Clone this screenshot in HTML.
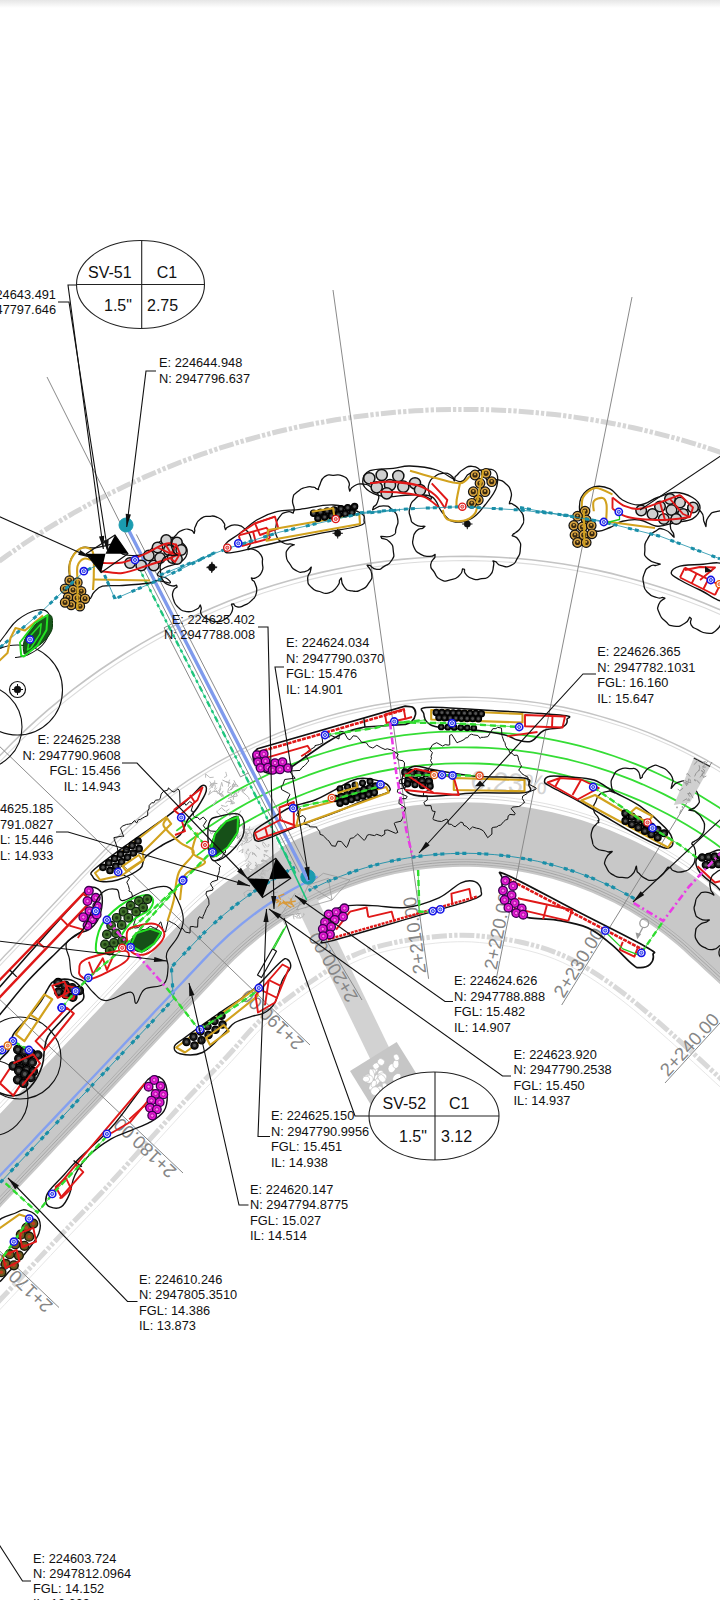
<!DOCTYPE html>
<html><head><meta charset="utf-8"><title>Drawing</title>
<style>
html,body{margin:0;padding:0;background:#fff;}
body{width:720px;height:1600px;overflow:hidden;position:relative;}
svg{position:absolute;left:0;top:0;display:block;font-family:"Liberation Sans",Arial,sans-serif;}
.sh{position:absolute;left:0;top:0;width:720px;height:8px;background:linear-gradient(#e6e6e6,#ffffff);}
</style></head><body>
<svg width="720" height="1600" viewBox="0 0 720 1600">
<path d="M749.9 923.9L742.5 917.1L735.2 910.3L727.8 903.6L720.3 897.0L712.6 890.6L704.8 884.4L696.8 878.4L688.6 872.6L680.3 867.0L671.9 861.6L663.3 856.4L654.7 851.5L645.8 846.7L636.9 842.2L627.9 838.0L618.7 833.9L609.5 830.1L600.1 826.6L590.7 823.2L581.2 820.1L571.6 817.3L562.0 814.7L552.2 812.3L542.5 810.2L532.6 808.3L522.8 806.7L512.9 805.3L502.9 804.2L493.0 803.4L483.0 802.8L473.0 802.4L463.0 802.3L453.0 802.5L443.0 802.9L433.0 803.5L423.1 804.4L413.1 805.6L403.2 807.0L393.4 808.7L383.6 810.6L373.8 812.8L364.1 815.2L354.5 817.8L344.9 820.7L335.4 823.9L326.0 827.2L316.7 830.9L307.4 834.7L298.3 838.8L289.3 843.1L280.4 847.7L271.6 852.4L262.9 857.4L254.4 862.6L246.0 868.1L237.7 873.7L229.6 879.5L221.7 885.6L213.8 891.8L206.2 898.3L198.7 904.9L191.4 911.7L184.3 918.7L177.3 925.9L170.4 933.2L163.6 940.4L156.7 947.7L149.8 955.0L143.0 962.3L136.1 969.5L129.2 976.8L122.4 984.1L115.5 991.3L108.6 998.6L101.8 1005.9L94.9 1013.2L88.0 1020.4L81.2 1027.7L74.3 1035.0L67.4 1042.2L60.6 1049.5L53.7 1056.8L46.9 1064.1L40.0 1071.3L33.1 1078.6L26.3 1085.9L19.4 1093.1L12.5 1100.4L5.7 1107.7L-1.2 1115.0L-8.1 1122.2L-14.9 1129.5L-21.8 1136.8L-28.7 1144.0L-29.8 1239.2L-24.3 1233.4L-17.5 1226.1L-10.6 1218.9L-3.7 1211.6L3.1 1204.3L10.0 1197.1L16.9 1189.8L23.7 1182.5L30.6 1175.2L37.5 1168.0L44.3 1160.7L51.2 1153.4L58.1 1146.1L64.9 1138.9L71.8 1131.6L78.7 1124.3L85.5 1117.1L92.4 1109.8L99.2 1102.5L106.1 1095.2L113.0 1088.0L119.8 1080.7L126.7 1073.4L133.6 1066.2L140.4 1058.9L147.3 1051.6L154.2 1044.3L161.0 1037.1L167.9 1029.8L174.8 1022.5L181.6 1015.3L188.5 1008.0L195.4 1000.7L202.2 993.4L209.1 986.2L215.9 978.9L222.6 971.9L228.7 965.5L234.7 959.6L240.8 953.9L247.0 948.3L253.4 942.9L259.9 937.6L266.5 932.5L273.3 927.6L280.1 922.8L287.1 918.2L294.3 913.9L301.5 909.6L308.8 905.6L316.2 901.8L323.8 898.1L331.4 894.7L339.1 891.4L346.9 888.3L354.7 885.4L362.6 882.8L370.6 880.3L378.7 878.0L386.8 876.0L394.9 874.1L403.1 872.5L411.4 871.0L419.6 869.8L427.9 868.8L436.3 868.0L444.6 867.4L453.0 867.0L461.3 866.8L469.7 866.8L478.1 867.1L486.4 867.6L494.7 868.2L503.1 869.1L511.3 870.2L519.6 871.5L527.8 873.0L536.0 874.8L544.2 876.7L552.2 878.8L560.3 881.2L568.2 883.7L576.1 886.5L584.0 889.4L591.7 892.5L599.4 895.9L607.0 899.4L614.5 903.1L621.8 907.0L629.1 911.1L636.3 915.4L643.4 919.9L650.4 924.5L657.2 929.3L663.9 934.3L670.5 939.5L677.0 944.8L683.3 950.3L689.9 956.4L697.3 963.1L704.6 969.9L712.0 976.7L719.3 983.5L726.7 990.3L734.0 997.1L741.3 1003.9L748.7 1010.6Z" stroke="none" stroke-width="1" fill="#c8c8c8" />
<path d="M749.4 1001.1L742.0 994.3L734.7 987.5L727.3 980.7L720.0 973.9L712.6 967.1L705.3 960.4L698.0 953.6L690.8 947.0L684.4 941.3L677.9 935.8L671.2 930.5L664.4 925.3L657.4 920.3L650.4 915.5L643.2 910.8L635.9 906.4L628.5 902.1L620.9 898.0L613.3 894.2L605.6 890.5L597.8 887.0L589.9 883.7L581.9 880.6L573.9 877.7L565.7 875.0L557.6 872.5L549.3 870.3L541.0 868.2L532.7 866.4L524.3 864.7L515.8 863.3L507.4 862.1L498.9 861.1L490.3 860.3L481.8 859.8L473.3 859.4L464.7 859.3L456.2 859.4L447.6 859.7L439.1 860.2L430.5 861.0L422.0 861.9L413.6 863.1L405.1 864.5L396.7 866.1L388.4 867.9L380.1 869.9L371.8 872.1L363.6 874.6L355.5 877.2L347.4 880.1L339.4 883.2L331.5 886.4L323.7 889.9L316.0 893.5L308.3 897.4L300.8 901.4L293.4 905.7L286.0 910.1L278.8 914.7L271.7 919.5L264.8 924.4L257.9 929.6L251.2 934.9L244.7 940.4L238.2 946.0L232.0 951.8L225.8 957.8L219.7 964.0L213.2 970.9L206.4 978.1L199.5 985.4L192.6 992.7L185.8 999.9L178.9 1007.2L172.1 1014.5L165.2 1021.7L158.3 1029.0L151.5 1036.3L144.6 1043.6L137.7 1050.8L130.9 1058.1L124.0 1065.4L117.1 1072.6L110.3 1079.9L103.4 1087.2L96.5 1094.5L89.7 1101.7L82.8 1109.0L75.9 1116.3L69.1 1123.5L62.2 1130.8L55.4 1138.1L48.5 1145.4L41.6 1152.6L34.8 1159.9L27.9 1167.2L21.0 1174.5L14.2 1181.7L7.3 1189.0L0.4 1196.3L-6.4 1203.5L-13.3 1210.8L-20.2 1218.1L-27.0 1225.4L-29.8 1228.3" stroke="#a8a8a8" stroke-width="0.8" fill="none" />
<path d="M749.1 1004.3L741.8 997.5L734.5 990.7L727.1 983.9L719.8 977.1L712.4 970.3L705.1 963.5L697.7 956.8L690.4 950.0L684.1 944.3L677.6 938.8L671.0 933.5L664.2 928.3L657.4 923.3L650.4 918.5L643.3 913.9L636.0 909.4L628.7 905.1L621.3 901.0L613.7 897.2L606.1 893.5L598.3 889.9L590.5 886.6L582.6 883.5L574.7 880.6L566.6 877.9L558.5 875.4L550.3 873.1L542.1 871.0L533.8 869.2L525.5 867.5L517.1 866.0L508.7 864.8L500.3 863.8L491.8 863.0L483.4 862.4L474.9 862.0L466.4 861.8L457.9 861.9L449.4 862.1L440.9 862.6L432.5 863.3L424.0 864.2L415.6 865.3L407.2 866.6L398.9 868.2L390.6 869.9L382.3 871.9L374.1 874.1L366.0 876.5L357.9 879.1L349.9 881.9L341.9 884.9L334.1 888.1L326.3 891.4L318.6 895.0L311.0 898.8L303.5 902.8L296.1 907.0L288.8 911.3L281.6 915.9L274.6 920.6L267.6 925.5L260.8 930.5L254.1 935.8L247.6 941.2L241.2 946.8L234.9 952.5L228.8 958.4L222.7 964.5L216.4 971.2L209.6 978.4L202.7 985.7L195.8 992.9L189.0 1000.2L182.1 1007.5L175.2 1014.7L168.4 1022.0L161.5 1029.3L154.6 1036.6L147.8 1043.8L140.9 1051.1L134.1 1058.4L127.2 1065.6L120.3 1072.9L113.5 1080.2L106.6 1087.5L99.7 1094.7L92.9 1102.0L86.0 1109.3L79.1 1116.5L72.3 1123.8L65.4 1131.1L58.5 1138.4L51.7 1145.6L44.8 1152.9L37.9 1160.2L31.1 1167.4L24.2 1174.7L17.4 1182.0L10.5 1189.3L3.6 1196.5L-3.2 1203.8L-10.1 1211.1L-17.0 1218.3L-23.8 1225.6L-29.3 1231.4" stroke="#9a9a9a" stroke-width="0.8" fill="none" />
<path d="M748.9 1007.5L741.6 1000.7L734.2 993.9L726.9 987.1L719.5 980.3L712.2 973.5L704.8 966.7L697.5 960.0L690.2 953.2L683.7 947.3L677.3 941.8L670.8 936.5L664.1 931.3L657.3 926.3L650.4 921.5L643.4 916.9L636.2 912.4L628.9 908.1L621.6 904.0L614.1 900.1L606.5 896.4L598.9 892.9L591.1 889.6L583.3 886.5L575.4 883.5L567.4 880.8L559.4 878.3L551.3 876.0L543.1 873.9L534.9 872.0L526.7 870.3L518.4 868.8L510.0 867.5L501.7 866.4L493.3 865.6L484.9 865.0L476.5 864.5L468.1 864.3L459.6 864.3L451.2 864.5L442.8 865.0L434.4 865.6L426.0 866.5L417.6 867.5L409.3 868.8L401.0 870.3L392.8 872.0L384.6 873.9L376.4 876.1L368.3 878.4L360.3 880.9L352.3 883.6L344.4 886.6L336.6 889.7L328.8 893.0L321.2 896.6L313.6 900.3L306.2 904.2L298.8 908.3L291.5 912.6L284.4 917.0L277.4 921.7L270.4 926.5L263.7 931.5L257.0 936.7L250.5 942.0L244.1 947.5L237.8 953.2L231.7 959.0L225.8 965.0L219.5 971.5L212.8 978.6L205.9 985.9L199.0 993.2L192.2 1000.5L185.3 1007.7L178.4 1015.0L171.6 1022.3L164.7 1029.5L157.8 1036.8L151.0 1044.1L144.1 1051.4L137.2 1058.6L130.4 1065.9L123.5 1073.2L116.7 1080.4L109.8 1087.7L102.9 1095.0L96.1 1102.3L89.2 1109.5L82.3 1116.8L75.5 1124.1L68.6 1131.3L61.7 1138.6L54.9 1145.9L48.0 1153.2L41.1 1160.4L34.3 1167.7L27.4 1175.0L20.5 1182.2L13.7 1189.5L6.8 1196.8L-0.0 1204.1L-6.9 1211.3L-13.8 1218.6L-20.6 1225.9L-27.5 1233.1L-28.9 1234.6" stroke="#a8a8a8" stroke-width="0.8" fill="none" />
<path d="M749.6 918.3L742.3 911.5L734.9 904.7L727.5 897.9L719.8 891.3L712.0 884.9L704.0 878.8L695.9 872.8L687.6 867.0L679.2 861.4L670.6 856.1L661.9 850.9L653.1 846.0L644.1 841.4L635.0 836.9L625.9 832.7L616.6 828.7L607.2 824.9L597.7 821.4L588.2 818.2L578.5 815.1L568.8 812.3L559.0 809.8L549.2 807.5L539.3 805.5L529.4 803.7L519.4 802.2L509.4 800.9L499.3 799.9L489.2 799.1L479.2 798.6L469.1 798.3L459.0 798.3L448.9 798.6L438.8 799.1L428.7 799.9L418.7 800.9L408.6 802.2L398.6 803.7L388.7 805.5L378.8 807.5L369.0 809.8L359.2 812.3L349.5 815.1L339.8 818.1L330.3 821.4L320.8 824.9L311.4 828.7L302.2 832.7L293.0 836.9L283.9 841.3L275.0 846.0L266.1 850.9L257.4 856.1L248.9 861.4L240.4 867.0L232.2 872.8L224.0 878.7L216.0 884.9L208.2 891.3L200.5 897.9L193.1 904.7L185.7 911.7L178.6 918.8L171.6 926.1L164.8 933.3L157.9 940.6L151.0 947.9L144.2 955.1L137.3 962.4L130.4 969.7L123.6 977.0L116.7 984.2L109.8 991.5L103.0 998.8L96.1 1006.0L89.3 1013.3L82.4 1020.6L75.5 1027.9L68.7 1035.1L61.8 1042.4L54.9 1049.7L48.1 1057.0L41.2 1064.2L34.3 1071.5L27.5 1078.8L20.6 1086.0L13.7 1093.3L6.9 1100.6L0.0 1107.9L-6.9 1115.1L-13.7 1122.4L-20.6 1129.7L-27.4 1136.9L-28.8 1138.4" stroke="#d6d6d6" stroke-width="1" fill="none" />
<path d="M748.7 913.3L741.4 906.6L734.0 899.8L726.4 893.0L718.6 886.4L710.7 880.1L702.6 873.9L694.3 868.0L685.9 862.2L677.3 856.7L668.7 851.4L659.8 846.3L650.9 841.5L641.8 836.9L632.6 832.5L623.4 828.3L614.0 824.4L604.5 820.7L594.9 817.3L585.2 814.1L575.5 811.1L565.7 808.4L555.8 805.9L545.9 803.7L535.9 801.8L525.9 800.1L515.8 798.7L505.7 797.5L495.5 796.5L485.4 795.9L475.2 795.5L465.0 795.3L454.9 795.4L444.7 795.8L434.5 796.4L424.4 797.3L414.3 798.4L404.2 799.8L394.2 801.4L384.2 803.3L374.2 805.5L364.3 807.9L354.5 810.5L344.7 813.4L335.1 816.6L325.5 820.0L316.0 823.6L306.5 827.5L297.2 831.6L288.0 835.9L278.9 840.5L270.0 845.3L261.1 850.4L252.4 855.6L243.8 861.1L235.4 866.8L227.1 872.7L219.0 878.8L211.0 885.1L203.2 891.6L195.5 898.4L188.1 905.3L180.8 912.4L173.6 919.6L166.7 926.9L159.8 934.2L153.0 941.5L146.1 948.7L139.2 956.0L132.4 963.3L125.5 970.5L118.7 977.8L111.8 985.1L104.9 992.4L98.1 999.6L91.2 1006.9L84.3 1014.2L77.5 1021.4L70.6 1028.7L63.7 1036.0L56.9 1043.3L50.0 1050.5L43.1 1057.8L36.3 1065.1L29.4 1072.3L22.5 1079.6L15.7 1086.9L8.8 1094.2L2.0 1101.4L-4.9 1108.7L-11.8 1116.0L-18.6 1123.2L-25.5 1130.5L-29.6 1134.9" stroke="#e2e2e2" stroke-width="1" fill="none" />
<path d="M748.0 462.3L729.3 455.3L710.4 448.9L691.4 442.8L672.2 437.3L652.8 432.3L633.4 427.7L613.8 423.7L594.2 420.1L574.5 417.1L554.7 414.5L534.8 412.5L514.9 410.9L494.9 409.9L475.0 409.4L455.0 409.4L435.0 409.8L415.1 410.8L395.2 412.3L375.3 414.3L355.5 416.8L335.8 419.8L316.1 423.3L296.5 427.3L277.1 431.8L257.8 436.8L238.5 442.3L219.5 448.2L200.6 454.7L181.9 461.6L163.3 469.0L145.0 476.9L126.8 485.2L108.9 494.0L91.2 503.2L73.7 512.9L56.5 523.0L39.5 533.5L22.8 544.5L6.5 555.9L-9.6 567.7L-25.4 580.0L-28.6 582.4" stroke="#d6d6d6" stroke-width="5" fill="none" stroke-dasharray="15 2 3.3 2 3.3 2"/>
<path d="M748.3 622.9L733.7 615.9L718.8 609.2L703.9 602.9L688.7 597.0L673.4 591.5L658.0 586.4L642.5 581.7L626.8 577.4L611.1 573.4L595.2 569.9L579.3 566.8L563.3 564.0L547.2 561.7L531.1 559.8L514.9 558.3L498.7 557.2L482.5 556.6L466.2 556.3L450.0 556.5L433.8 557.0L417.6 558.0L401.4 559.4L385.2 561.2L369.2 563.4L353.1 566.0L337.2 569.0L321.3 572.4L305.5 576.2L289.8 580.4L274.3 585.1L258.8 590.1L243.5 595.5L228.3 601.3L213.3 607.4L198.4 614.0L183.7 620.9L169.2 628.2L154.9 635.9L140.8 643.9L126.9 652.3L113.2 661.0L99.7 670.0L86.5 679.5L73.5 689.2L60.7 699.3L48.3 709.7L36.0 720.4L24.1 731.4L12.4 742.7L1.7 753.7L-7.0 762.7L-14.0 770.1L-20.8 777.4L-27.7 784.7L-29.1 786.1" stroke="#c4c4c4" stroke-width="1.6" fill="none" />
<path d="M749.3 628.2L734.8 621.1L720.1 614.4L705.2 608.1L690.2 602.2L675.1 596.7L659.8 591.5L644.4 586.7L628.9 582.3L613.2 578.4L597.5 574.8L581.7 571.6L565.8 568.8L549.8 566.4L533.8 564.4L517.8 562.9L501.7 561.7L485.6 561.0L469.5 560.6L453.3 560.7L437.2 561.2L421.1 562.0L405.0 563.3L389.0 565.0L373.0 567.1L357.0 569.7L341.2 572.6L325.4 575.9L309.7 579.6L294.1 583.7L278.6 588.2L263.2 593.1L248.0 598.4L232.9 604.1L217.9 610.1L203.2 616.6L188.5 623.4L174.1 630.5L159.8 638.1L145.7 646.0L131.9 654.2L118.2 662.8L104.8 671.8L91.6 681.0L78.7 690.7L66.0 700.6L53.5 710.8L41.3 721.4L29.4 732.3L17.8 743.5L6.7 754.6L-2.3 764.0L-9.5 771.6L-16.3 778.9L-23.2 786.2L-28.7 792.0" stroke="#dcdcdc" stroke-width="1.1" fill="none" />
<path d="M748.7 786.4L738.2 779.3L727.5 772.5L716.7 766.0L705.7 759.7L694.5 753.7L683.2 748.0L671.8 742.6L660.2 737.5L648.5 732.6L636.6 728.1L624.7 723.9L612.7 720.0L600.5 716.3L588.3 713.0L576.0 710.0L563.6 707.3L551.2 705.0L538.7 702.9L526.2 701.2L513.6 699.8L501.0 698.7L488.3 697.9L475.7 697.4L463.0 697.3L450.3 697.5L437.7 698.0L425.0 698.8L412.4 700.0L399.9 701.4L387.3 703.2L374.8 705.3L362.4 707.7L350.0 710.5L337.7 713.5L325.5 716.9L313.4 720.6L301.4 724.5L289.5 728.8L277.7 733.4L266.0 738.3L254.4 743.4L243.0 748.9L231.7 754.6L220.6 760.7L209.6 767.0L198.8 773.6L188.1 780.4L177.7 787.6L167.4 795.0L157.3 802.6L147.4 810.5L137.7 818.7L128.3 827.1L119.0 835.7L110.0 844.6L101.5 853.2L94.1 861.1L87.2 868.4L80.3 875.6L73.5 882.9L66.6 890.2L59.7 897.4L52.9 904.7L46.0 912.0L39.2 919.3L32.3 926.5L25.4 933.8L18.6 941.1L11.7 948.4L4.8 955.6L-2.0 962.9L-8.9 970.2L-15.8 977.4L-22.6 984.7L-29.5 992.0" stroke="#c4c4c4" stroke-width="1.4" fill="none" />
<path d="M748.9 790.6L738.5 783.5L727.9 776.6L717.2 770.1L706.3 763.8L695.2 757.8L684.0 752.1L672.7 746.6L661.2 741.5L649.6 736.6L637.9 732.1L626.0 727.8L614.1 723.9L602.0 720.2L589.9 716.9L577.7 713.8L565.4 711.1L553.1 708.7L540.7 706.6L528.2 704.8L515.7 703.3L503.2 702.2L490.7 701.3L478.1 700.8L465.5 700.6L452.9 700.7L440.4 701.2L427.8 701.9L415.3 703.0L402.8 704.4L390.3 706.1L377.9 708.1L365.5 710.5L353.2 713.1L341.0 716.1L328.9 719.4L316.8 722.9L304.8 726.8L293.0 731.0L281.2 735.5L269.6 740.3L258.1 745.4L246.7 750.7L235.5 756.4L224.4 762.3L213.4 768.5L202.7 775.0L192.1 781.8L181.6 788.8L171.4 796.1L161.3 803.7L151.5 811.5L141.8 819.5L132.3 827.8L123.1 836.4L114.1 845.1L105.5 853.9L97.9 861.9L91.0 869.2L84.1 876.4L77.2 883.7L70.4 891.0L63.5 898.3L56.7 905.5L49.8 912.8L42.9 920.1L36.1 927.3L29.2 934.6L22.3 941.9L15.5 949.2L8.6 956.4L1.7 963.7L-5.1 971.0L-12.0 978.2L-18.9 985.5L-25.7 992.8L-29.8 997.2" stroke="#dcdcdc" stroke-width="1.1" fill="none" />
<path d="M-40.0 1342.0C-33.3 1335.0 -16.7 1317.7 0.0 1300.0C16.7 1282.3 43.0 1253.9 60.0 1236.0C77.0 1218.1 87.8 1207.4 101.7 1192.5C115.6 1177.6 129.4 1162.0 143.3 1146.7C157.2 1131.4 171.1 1115.8 185.0 1100.8C198.9 1085.8 214.2 1070.4 226.7 1057.0C239.2 1043.6 248.6 1031.3 260.0 1020.6C271.4 1009.9 285.0 1000.5 295.0 993.0C305.0 985.5 311.7 981.1 320.0 975.5C328.3 969.9 336.7 963.9 345.0 959.5C353.3 955.1 361.7 951.8 370.0 949.0C378.3 946.2 386.7 944.2 395.0 942.5C403.3 940.8 410.8 939.7 420.0 938.5C429.2 937.3 440.0 935.9 450.0 935.5C460.0 935.1 468.3 934.9 480.0 936.0C491.7 937.1 507.2 939.2 520.0 942.0C532.8 944.8 545.3 948.3 557.0 953.0C568.7 957.7 578.3 962.8 590.0 970.0C601.7 977.2 613.2 985.2 627.0 996.0C640.8 1006.8 657.5 1021.3 673.0 1035.0C688.5 1048.7 708.0 1067.0 720.0 1078.0C732.0 1089.0 740.8 1097.2 745.0 1101.0" stroke="#d9d9d9" stroke-width="5" fill="none" stroke-dasharray="15 2 3.3 2 3.3 2"/>
<path d="M-35.3 1346.5C-28.6 1339.5 -11.9 1322.1 4.7 1304.5C21.4 1286.8 47.8 1258.4 64.7 1240.5C81.7 1222.5 92.6 1211.8 106.5 1196.9C120.4 1182.0 134.2 1166.4 148.1 1151.1C162.0 1135.8 175.9 1120.2 189.8 1105.2C203.6 1090.3 219.0 1074.8 231.4 1061.4C243.9 1048.1 253.2 1035.9 264.4 1025.3C275.7 1014.8 289.0 1005.6 298.9 998.2C308.8 990.8 315.4 986.4 323.6 980.9C331.8 975.4 340.0 969.5 348.0 965.2C356.1 961.0 364.0 957.9 372.1 955.2C380.1 952.4 388.2 950.6 396.3 948.9C404.5 947.2 411.8 946.1 420.8 944.9C429.8 943.8 440.5 942.4 450.3 942.0C460.0 941.6 468.0 941.4 479.4 942.5C490.8 943.5 506.1 945.6 518.6 948.3C531.1 951.1 543.3 954.5 554.6 959.0C565.9 963.6 575.2 968.5 586.6 975.5C598.0 982.6 609.3 990.4 623.0 1001.1C636.7 1011.8 653.3 1026.3 668.7 1039.9C684.1 1053.5 703.6 1071.8 715.6 1082.8C727.6 1093.8 736.4 1102.0 740.6 1105.8" stroke="#e6e6e6" stroke-width="1" fill="none" />
<path d="M748.3 828.3L738.8 821.2L729.2 814.3L719.5 807.7L709.5 801.4L699.4 795.3L689.2 789.4L678.8 783.8L668.2 778.5L657.5 773.5L646.8 768.7L635.8 764.2L624.8 760.0L613.7 756.0L602.5 752.4L591.2 749.0L579.8 745.9L568.3 743.1L556.8 740.6L545.2 738.4L533.5 736.5L521.9 734.9L510.1 733.6L498.4 732.6L486.6 731.8L474.8 731.4L463.0 731.3L451.2 731.5L439.4 731.9L427.6 732.7L415.9 733.8L404.2 735.2L392.5 736.8L380.8 738.8L369.3 741.0L357.7 743.6L346.3 746.4L334.9 749.6L323.6 753.0L312.4 756.7L301.3 760.7L290.3 764.9L279.4 769.5L268.6 774.3L258.0 779.4L247.5 784.8L237.1 790.4L226.9 796.3L216.8 802.4L206.9 808.8L197.1 815.5L187.6 822.4L178.1 829.5L176.3 830.9" stroke="#35dd35" stroke-width="1.8" fill="none" />
<path d="M749.2 849.4L740.3 842.3L731.2 835.4L721.9 828.7L712.5 822.3L703.0 816.1L693.2 810.2L683.4 804.5L673.4 799.1L663.2 793.9L652.9 789.0L642.5 784.3L632.0 779.9L621.4 775.8L610.7 771.9L599.9 768.3L589.0 765.0L578.0 762.0L566.9 759.2L555.8 756.8L544.6 754.6L533.4 752.7L522.1 751.1L510.8 749.7L499.4 748.7L488.1 747.9L476.7 747.5L465.3 747.3L453.9 747.4L442.5 747.8L431.1 748.5L419.8 749.5L408.4 750.7L397.2 752.3L385.9 754.1L374.7 756.3L363.6 758.7L352.5 761.4L341.5 764.3L330.6 767.6L319.7 771.1L309.0 774.9L298.4 779.0L287.8 783.3L277.4 787.9L267.1 792.8L256.9 797.9L246.9 803.3L237.0 808.9L227.2 814.8L217.6 820.9L208.1 827.3L198.9 833.9L189.8 840.7L186.2 843.5" stroke="#35dd35" stroke-width="1.8" fill="none" />
<path d="M749.0 870.3L740.7 863.2L732.1 856.2L723.4 849.6L714.5 843.1L705.5 836.8L696.3 830.8L686.9 825.1L677.4 819.5L667.8 814.2L658.0 809.2L648.2 804.4L638.2 799.8L628.0 795.6L617.8 791.5L607.5 787.8L597.1 784.2L586.6 781.0L576.0 778.0L565.4 775.3L554.6 772.9L543.9 770.7L533.0 768.8L522.2 767.2L511.3 765.9L500.3 764.8L489.4 764.0L478.4 763.5L467.4 763.3L456.4 763.4L445.4 763.7L434.5 764.3L423.5 765.2L412.6 766.4L401.7 767.8L390.8 769.5L380.0 771.5L369.3 773.8L358.6 776.3L347.9 779.1L337.4 782.2L326.9 785.6L316.6 789.2L306.3 793.0L296.1 797.2L286.0 801.6L276.0 806.2L266.2 811.1L256.5 816.2L246.9 821.6L237.5 827.2L228.2 833.1L219.0 839.2L210.1 845.5L201.2 852.1L196.0 856.1" stroke="#35dd35" stroke-width="1.8" fill="none" />
<path d="M634.4 898.6L626.8 894.4L619.1 890.3L611.3 886.5L603.4 882.9L595.4 879.4L587.3 876.2L579.1 873.2L570.9 870.4L562.6 867.8L554.2 865.4L545.8 863.2L537.3 861.2L528.8 859.5L520.2 857.9L511.6 856.6L503.0 855.5L494.3 854.6L485.6 854.0L476.9 853.5L468.2 853.3L459.5 853.3L450.8 853.6L442.1 854.0L433.4 854.7L424.8 855.5L416.1 856.7L407.5 858.0L399.0 859.5L390.4 861.3L382.0 863.2L373.5 865.4L365.2 867.8L356.9 870.4L348.6 873.3L340.5 876.3L332.4 879.5L324.4 883.0L316.5 886.6L308.7 890.5" stroke="#1a8fa8" stroke-width="0.9" fill="none" />
<path d="M634.4 898.6L626.8 894.4L619.1 890.3L611.3 886.5L603.4 882.9L595.4 879.4L587.3 876.2L579.1 873.2L570.9 870.4L562.6 867.8L554.2 865.4L545.8 863.2L537.3 861.2L528.8 859.5L520.2 857.9L511.6 856.6L503.0 855.5L494.3 854.6L485.6 854.0L476.9 853.5L468.2 853.3L459.5 853.3L450.8 853.6L442.1 854.0L433.4 854.7L424.8 855.5L416.1 856.7L407.5 858.0L399.0 859.5L390.4 861.3L382.0 863.2L373.5 865.4L365.2 867.8L356.9 870.4L348.6 873.3L340.5 876.3L332.4 879.5L324.4 883.0L316.5 886.6L308.7 890.5" stroke="#1a8fa8" stroke-width="3.2" fill="none" stroke-dasharray="4 3 4 11"/>
<path d="M294.8 867.2L286.5 871.6L278.4 876.2L270.3 881.0L262.4 886.0L254.5 891.2L246.9 896.7L239.3 902.3L231.9 908.1L224.7 914.0L217.6 920.2L210.7 926.5L203.9 933.0L197.3 939.8L190.6 946.8L183.8 954.0L176.9 961.3L171.4 967.1L173.4 999.2L170.6 1002.1L163.8 1009.4L156.9 1016.7L150.0 1024.0L143.2 1031.2L136.3 1038.5L129.4 1045.8L122.6 1053.0L115.7 1060.3L108.9 1067.6L102.0 1074.9L95.1 1082.1L88.3 1089.4L81.4 1096.7L74.5 1103.9L67.7 1111.2L60.8 1118.5L53.9 1125.8L47.1 1133.0L40.2 1140.3L33.3 1147.6L26.5 1154.8L19.6 1162.1L12.7 1169.4L5.9 1176.7L-1.0 1183.9L-7.8 1191.2L-14.7 1198.5L-21.6 1205.7L-28.4 1213.0L-29.8 1214.5" stroke="#1a8fa8" stroke-width="0.9" fill="none" />
<path d="M294.8 867.2L286.5 871.6L278.4 876.2L270.3 881.0L262.4 886.0L254.5 891.2L246.9 896.7L239.3 902.3L231.9 908.1L224.7 914.0L217.6 920.2L210.7 926.5L203.9 933.0L197.3 939.8L190.6 946.8L183.8 954.0L176.9 961.3L171.4 967.1L173.4 999.2L170.6 1002.1L163.8 1009.4L156.9 1016.7L150.0 1024.0L143.2 1031.2L136.3 1038.5L129.4 1045.8L122.6 1053.0L115.7 1060.3L108.9 1067.6L102.0 1074.9L95.1 1082.1L88.3 1089.4L81.4 1096.7L74.5 1103.9L67.7 1111.2L60.8 1118.5L53.9 1125.8L47.1 1133.0L40.2 1140.3L33.3 1147.6L26.5 1154.8L19.6 1162.1L12.7 1169.4L5.9 1176.7L-1.0 1183.9L-7.8 1191.2L-14.7 1198.5L-21.6 1205.7L-28.4 1213.0L-29.8 1214.5" stroke="#1a8fa8" stroke-width="3.2" fill="none" stroke-dasharray="4 3 4 11"/>
<path d="M317.7 876.7L309.6 880.5L301.7 884.5L293.8 888.7L286.1 893.1L278.4 897.7L270.9 902.6L263.5 907.5L256.2 912.7L249.1 918.1L242.1 923.6L235.3 929.3L228.6 935.2L222.0 941.3L215.6 947.5L209.3 954.0L202.7 960.9L195.8 968.2L189.0 975.4L182.1 982.7L175.2 990.0L168.4 997.2L161.5 1004.5L154.6 1011.8L147.8 1019.1L140.9 1026.3L134.1 1033.6L127.2 1040.9L120.3 1048.2L113.5 1055.4L106.6 1062.7L99.7 1070.0L92.9 1077.2L86.0 1084.5L79.1 1091.8L72.3 1099.1L65.4 1106.3L58.5 1113.6L51.7 1120.9L44.8 1128.1L37.9 1135.4L31.1 1142.7L24.2 1150.0L17.4 1157.2L10.5 1164.5L3.6 1171.8L-3.2 1179.0L-10.1 1186.3L-17.0 1193.6L-23.8 1200.9L-29.3 1206.7" stroke="#84a0f0" stroke-width="2.4" fill="none" />
<path d="M297.1 907.8L371.1 1060.8L390.9 1051.2L316.9 898.2Z" stroke="none" stroke-width="1.2" fill="#d2d2d2" stroke-linejoin="round" />
<path d="M350.0 1071.0L396.7 1042.0L426.0 1089.0L379.0 1118.0Z" stroke="none" stroke-width="1.2" fill="#c6c6c6" stroke-linejoin="round" />
<ellipse cx="373.9" cy="1071.4" rx="5.0" ry="2.4" fill="#fff" stroke="#bdbdbd" stroke-width="0.6" transform="rotate(137 373.9 1071.4)"/>
<ellipse cx="375.3" cy="1091.9" rx="5.7" ry="2.7" fill="#fff" stroke="#bdbdbd" stroke-width="0.6" transform="rotate(22 375.3 1091.9)"/>
<ellipse cx="376.0" cy="1066.1" rx="3.3" ry="3.1" fill="#fff" stroke="#bdbdbd" stroke-width="0.6" transform="rotate(144 376.0 1066.1)"/>
<ellipse cx="368.4" cy="1078.4" rx="4.9" ry="4.3" fill="#fff" stroke="#bdbdbd" stroke-width="0.6" transform="rotate(147 368.4 1078.4)"/>
<ellipse cx="381.0" cy="1062.0" rx="3.7" ry="3.4" fill="#fff" stroke="#bdbdbd" stroke-width="0.6" transform="rotate(34 381.0 1062.0)"/>
<ellipse cx="372.5" cy="1071.9" rx="3.4" ry="2.9" fill="#fff" stroke="#bdbdbd" stroke-width="0.6" transform="rotate(174 372.5 1071.9)"/>
<ellipse cx="378.3" cy="1090.0" rx="4.9" ry="3.0" fill="#fff" stroke="#bdbdbd" stroke-width="0.6" transform="rotate(140 378.3 1090.0)"/>
<ellipse cx="396.8" cy="1077.6" rx="4.9" ry="3.3" fill="#fff" stroke="#bdbdbd" stroke-width="0.6" transform="rotate(136 396.8 1077.6)"/>
<ellipse cx="381.2" cy="1075.0" rx="4.8" ry="3.2" fill="#fff" stroke="#bdbdbd" stroke-width="0.6" transform="rotate(76 381.2 1075.0)"/>
<ellipse cx="371.9" cy="1074.1" rx="5.3" ry="2.4" fill="#fff" stroke="#bdbdbd" stroke-width="0.6" transform="rotate(76 371.9 1074.1)"/>
<ellipse cx="397.0" cy="1092.8" rx="5.2" ry="2.8" fill="#fff" stroke="#bdbdbd" stroke-width="0.6" transform="rotate(18 397.0 1092.8)"/>
<ellipse cx="372.5" cy="1085.5" rx="5.3" ry="2.5" fill="#fff" stroke="#bdbdbd" stroke-width="0.6" transform="rotate(125 372.5 1085.5)"/>
<ellipse cx="395.3" cy="1098.2" rx="3.2" ry="3.4" fill="#fff" stroke="#bdbdbd" stroke-width="0.6" transform="rotate(80 395.3 1098.2)"/>
<ellipse cx="378.9" cy="1078.2" rx="4.5" ry="4.0" fill="#fff" stroke="#bdbdbd" stroke-width="0.6" transform="rotate(17 378.9 1078.2)"/>
<ellipse cx="409.7" cy="1088.4" rx="4.4" ry="3.7" fill="#fff" stroke="#bdbdbd" stroke-width="0.6" transform="rotate(15 409.7 1088.4)"/>
<ellipse cx="391.9" cy="1068.1" rx="4.7" ry="3.7" fill="#fff" stroke="#bdbdbd" stroke-width="0.6" transform="rotate(114 391.9 1068.1)"/>
<ellipse cx="377.7" cy="1080.7" rx="5.0" ry="2.2" fill="#fff" stroke="#bdbdbd" stroke-width="0.6" transform="rotate(118 377.7 1080.7)"/>
<ellipse cx="385.2" cy="1087.1" rx="4.5" ry="2.7" fill="#fff" stroke="#bdbdbd" stroke-width="0.6" transform="rotate(73 385.2 1087.1)"/>
<ellipse cx="369.1" cy="1079.2" rx="4.2" ry="4.1" fill="#fff" stroke="#bdbdbd" stroke-width="0.6" transform="rotate(20 369.1 1079.2)"/>
<ellipse cx="373.8" cy="1083.8" rx="3.8" ry="2.5" fill="#fff" stroke="#bdbdbd" stroke-width="0.6" transform="rotate(110 373.8 1083.8)"/>
<ellipse cx="395.9" cy="1064.1" rx="4.2" ry="3.0" fill="#fff" stroke="#bdbdbd" stroke-width="0.6" transform="rotate(97 395.9 1064.1)"/>
<ellipse cx="396.4" cy="1057.4" rx="3.5" ry="2.7" fill="#fff" stroke="#bdbdbd" stroke-width="0.6" transform="rotate(59 396.4 1057.4)"/>
<ellipse cx="377.8" cy="1102.6" rx="3.5" ry="2.8" fill="#fff" stroke="#bdbdbd" stroke-width="0.6" transform="rotate(37 377.8 1102.6)"/>
<ellipse cx="382.1" cy="1077.1" rx="4.7" ry="4.3" fill="#fff" stroke="#bdbdbd" stroke-width="0.6" transform="rotate(176 382.1 1077.1)"/>
<ellipse cx="410.5" cy="1088.2" rx="5.0" ry="3.8" fill="#fff" stroke="#bdbdbd" stroke-width="0.6" transform="rotate(116 410.5 1088.2)"/>
<ellipse cx="408.2" cy="1081.2" rx="5.6" ry="4.0" fill="#fff" stroke="#bdbdbd" stroke-width="0.6" transform="rotate(100 408.2 1081.2)"/>
<ellipse cx="381.9" cy="1078.5" rx="4.4" ry="3.1" fill="#fff" stroke="#bdbdbd" stroke-width="0.6" transform="rotate(48 381.9 1078.5)"/>
<ellipse cx="366.1" cy="1079.1" rx="3.5" ry="2.9" fill="#fff" stroke="#bdbdbd" stroke-width="0.6" transform="rotate(13 366.1 1079.1)"/>
<ellipse cx="375.2" cy="1091.1" rx="4.6" ry="4.3" fill="#fff" stroke="#bdbdbd" stroke-width="0.6" transform="rotate(157 375.2 1091.1)"/>
<ellipse cx="379.3" cy="1103.8" rx="4.8" ry="2.5" fill="#fff" stroke="#bdbdbd" stroke-width="0.6" transform="rotate(64 379.3 1103.8)"/>
<path d="M236.7 833.3L268.3 820.0L280.0 850.0L250.0 871.7Z" stroke="none" stroke-width="1.2" fill="#ededed" stroke-linejoin="round" />
<path d="M243.1 851.9L241.9 852.9L243.1 849.0L238.7 852.0M243.8 838.3L248.3 838.0L251.3 837.8L252.6 834.7M256.6 866.2L256.8 868.4L258.3 864.4L260.7 865.3M245.2 829.4L248.5 829.1L250.5 832.5L252.4 836.3M248.4 863.2L247.9 867.2L251.3 863.5L248.1 861.0M267.8 847.2L269.0 845.4L269.0 844.4L267.7 845.1M254.9 867.8L256.5 871.6L259.7 876.1L261.3 873.0M264.3 870.4L267.9 871.1L269.8 868.5L272.8 869.1M244.7 830.8L247.9 835.2L244.2 837.9L243.4 834.8M245.0 861.8L248.3 857.7L249.4 853.6L251.3 852.1M265.0 871.1L265.0 875.6L263.3 871.8L264.2 867.6M241.7 845.9L242.7 842.9L238.6 846.2L236.9 850.3M265.5 844.6L265.1 844.8L266.4 845.7L267.0 846.7M267.0 850.3L266.4 852.3L264.0 850.5L268.3 850.7M253.6 828.5L252.9 829.2L248.6 830.3L249.8 826.3M256.3 848.5L257.9 847.2L259.8 849.3L255.5 845.4M258.0 870.4L255.7 870.0L256.6 868.4L255.4 866.7M247.6 854.2L245.8 853.1L248.2 848.8L248.8 851.0M245.5 837.8L248.3 835.4L245.5 834.9L247.2 831.3M245.9 842.7L248.9 842.1L252.1 839.2L250.7 840.5M265.1 847.8L262.6 844.4L262.9 841.7L265.6 844.7M241.2 840.3L244.0 841.5L246.8 840.1L243.4 838.3" stroke="#bdbdbd" stroke-width="1.0" fill="none" />
<path d="M295.7 910.3L298.3 914.3L300.5 918.1L296.3 917.8M305.3 908.3L308.9 904.8L308.6 902.5L309.0 903.2M277.4 898.8L275.4 902.5L277.8 899.5L280.5 896.2M295.5 896.8L291.0 900.1L288.4 897.6L292.8 900.9M285.7 915.2L286.0 916.8L283.4 920.7L285.1 924.9M303.8 900.6L302.6 897.6L299.4 893.7L297.6 894.6M277.1 908.9L275.6 907.2L278.5 907.0L276.9 906.9M298.1 895.3L302.4 891.0L304.7 894.1L300.3 896.7M288.0 906.7L283.6 902.6L280.7 906.7L278.0 909.0M304.9 914.7L303.5 913.4L303.7 915.9L300.2 918.1M300.9 912.9L296.7 916.9L293.1 915.5L294.1 919.3M287.2 914.3L287.6 912.6L286.0 909.7L282.2 906.6M297.7 915.9L294.6 911.9L299.0 912.2L298.2 909.8M294.8 912.2L294.4 911.5L290.4 915.2L286.2 915.2" stroke="#bdbdbd" stroke-width="1.0" fill="none" />
<path d="M221.0 788.2L217.7 791.5L213.3 791.5L216.9 787.8M223.5 795.5L219.4 794.4L221.2 794.0L223.2 790.9M214.7 780.3L214.7 784.1L215.5 786.6L214.5 788.8M210.8 785.7L212.4 787.8L211.7 784.1L209.6 781.4M215.9 801.3L213.2 804.8L216.6 800.8L215.5 800.7M208.7 789.7L212.3 786.3L213.2 782.8L213.9 786.4M213.7 777.2L209.9 777.6L205.6 773.9L205.6 777.7M219.8 788.9L221.0 785.3L221.7 782.3L222.7 786.5M209.5 793.7L210.5 790.5L208.4 794.9L212.9 791.5M227.8 805.5L225.4 806.5L221.3 805.3L222.8 806.1M229.7 779.6L228.3 782.9L229.1 782.4L228.2 786.8M224.1 777.6L226.8 776.0L226.2 773.4L225.7 771.9" stroke="#bdbdbd" stroke-width="1.0" fill="none" />
<path d="M308.3 885.0L328.3 878.3L332.0 900.0L308.3 885.0L323.3 873.3L350.0 880.0L332.0 900.0L296.7 910.0L308.3 885.0" stroke="#9a9a9a" stroke-width="0.8" fill="none" stroke-linejoin="round" />
<path d="M295.0 893.3L280.0 916.7L300.0 913.3" stroke="#9a9a9a" stroke-width="0.8" fill="none" stroke-linejoin="round" />
<path d="M283.1 902.5L287.0 902.2L287.0 903.0L284.2 903.1M286.3 904.3L282.7 902.6L279.0 905.4L280.7 901.2M292.7 905.7L294.1 906.8L291.0 902.4L291.2 898.4M278.4 899.9L274.2 899.6L273.7 902.7L273.8 904.0M284.0 903.3L283.6 901.3L288.1 905.8L291.2 907.6M280.7 899.8L278.8 896.0L281.2 895.1L284.3 894.1M292.2 904.8L287.7 902.2L291.4 901.9L295.8 901.0M276.3 903.0L278.8 901.0L275.1 899.5L279.3 901.8" stroke="#d99a3a" stroke-width="1.3" fill="none" />
<circle cx="308.0" cy="877.0" r="7.2" fill="#1a9cb0" stroke="#1a9cb0" stroke-width="1"/>
<path d="M276.7 836.7L306.7 900.0" stroke="#19c47a" stroke-width="1.6" fill="none" stroke-linejoin="round" />
<path d="M286.7 925.0L273.7 949.2" stroke="#22cc22" stroke-width="1.2" fill="none" stroke-linejoin="round" />
<path d="M219.9 825.3L221.2 825.1L218.6 827.7L221.4 827.8M232.2 793.5L227.7 792.4L228.5 788.5L231.1 786.1M222.4 780.0L226.9 782.1L230.2 783.2L226.0 781.6M231.9 785.1L236.0 783.9L232.9 786.8L229.5 790.6M230.3 815.6L228.9 815.5L226.1 811.3L229.4 809.0M242.1 791.6L246.3 795.1L248.6 797.5L249.3 799.6M218.4 810.3L221.4 807.7L225.2 811.1L224.3 809.9M230.2 804.0L234.7 803.0L230.4 799.3L232.4 803.8M231.9 811.4L232.3 813.6L229.8 814.6L230.3 815.7M220.5 788.9L219.1 792.8L217.8 793.6L216.0 790.1M216.4 834.0L218.9 832.8L220.5 834.4L224.1 838.5M228.7 846.2L232.8 847.1L236.3 847.0L235.1 844.7M245.5 788.4L241.7 791.1L244.1 791.0L247.2 786.9M223.3 797.3L222.6 794.3L218.7 792.9L222.3 797.2M240.9 810.5L238.6 814.7L238.9 816.7L234.6 814.1M244.2 832.7L247.6 833.6L246.9 834.3L250.1 832.6M233.2 796.3L235.7 791.9L237.3 796.0L233.0 796.8M237.2 836.6L237.9 834.4L237.1 838.6L240.7 835.3M217.4 783.6L213.1 783.1L209.9 786.4L211.3 783.0M233.4 799.7L233.3 797.2L230.3 794.3L229.2 796.2M233.8 780.2L235.7 783.6L238.2 786.2L233.7 785.9M216.3 830.5L213.4 832.4L211.1 834.1L209.5 830.0M228.0 798.7L231.6 796.8L231.6 797.3L235.7 793.6M235.6 812.6L237.8 816.8L236.0 818.6L236.3 819.1M216.3 834.0L220.6 832.7L218.9 837.2L215.4 833.3M216.6 834.0L219.0 833.5L220.1 829.2L221.4 828.7M232.6 804.3L231.7 801.8L227.7 801.2L225.4 803.0M243.4 827.7L243.0 825.3L242.0 825.2L243.2 829.3M217.1 810.6L217.0 812.5L220.5 815.0L221.7 817.4M238.0 837.1L239.8 838.8L237.5 842.5L236.5 843.6M243.7 844.5L248.1 840.0L246.4 838.3L245.4 835.1M233.9 782.6L232.1 786.6L234.3 786.2L230.8 790.3M239.3 791.4L237.9 792.7L239.5 790.5L243.6 788.9M223.2 836.2L220.0 837.8L217.3 838.7L215.3 837.6" stroke="#b4b4b4" stroke-width="1.0" fill="none" />
<path d="M274.7 889.9L278.3 886.2L279.1 885.5L279.4 882.2M252.8 869.8L250.2 869.4L246.0 865.7L247.9 864.9M262.4 881.4L261.1 877.4L263.7 878.2L265.1 879.3M276.1 866.5L278.5 865.3L279.1 866.8L277.4 863.0M261.2 880.7L262.0 880.2L263.3 877.4L260.4 875.8M271.5 859.8L268.0 856.2L263.9 854.2L264.5 857.1M256.9 866.8L255.0 865.0L257.5 865.5L255.3 861.9M270.5 880.3L273.5 877.9L273.9 881.7L274.7 885.7M252.0 891.0L248.0 890.2L243.7 893.0L245.4 897.3M271.1 890.0L271.5 894.3L273.7 893.0L278.0 891.9M252.8 855.0L252.5 852.3L256.4 856.4L253.8 852.8M262.9 858.8L263.3 861.6L261.0 860.9L264.6 860.4M257.3 887.7L260.1 891.2L261.8 890.5L263.5 893.4M266.2 861.5L264.3 860.7L266.8 861.2L267.2 864.2M250.3 877.2L248.7 877.8L251.8 875.5L255.8 871.7M263.9 873.7L261.5 874.2L261.2 873.8L263.2 869.3" stroke="#b4b4b4" stroke-width="1.0" fill="none" />
<path d="M428.6 978.8 L333.0 290.0" stroke="#8a8a8a" stroke-width="1" fill="none" />
<text transform="translate(427.8 972.9) rotate(-97.9)" font-size="18.5" fill="#868686" x="0" y="-1.5">2+210.00</text>
<path d="M496.7 976.7 L632.0 297.0" stroke="#8a8a8a" stroke-width="1" fill="none" />
<text transform="translate(497.9 970.8) rotate(-78.7)" font-size="18.5" fill="#868686" x="0" y="-1.5">2+220.00</text>
<path d="M561.7 1005.0 L712.0 762.0" stroke="#8a8a8a" stroke-width="1" fill="none" />
<text transform="translate(564.9 999.9) rotate(-58.3)" font-size="18.5" fill="#868686" x="0" y="-1.5">2+230.00</text>
<path d="M665.0 1083.0 L730.0 1012.0" stroke="#8a8a8a" stroke-width="1" fill="none" />
<text transform="translate(669.1 1078.6) rotate(-47.5)" font-size="18.5" fill="#868686" x="0" y="-1.5">2+240.00</text>
<path d="M310.0 1045.0 L-5.0 742.0" stroke="#8a8a8a" stroke-width="1" fill="none" />
<text transform="translate(305.7 1040.8) rotate(-136.1)" font-size="18.5" fill="#868686" x="0" y="-1.5">2+190.00</text>
<path d="M183.0 1173.0 L-5.0 995.0" stroke="#8a8a8a" stroke-width="1" fill="none" />
<text transform="translate(178.6 1168.9) rotate(-136.6)" font-size="18.5" fill="#868686" x="0" y="-1.5">2+180.00</text>
<path d="M59.0 1307.5 L-5.0 1246.5" stroke="#8a8a8a" stroke-width="1" fill="none" />
<text transform="translate(54.7 1303.4) rotate(-136.4)" font-size="18.5" fill="#868686" x="0" y="-1.5">2+170.00</text>
<path d="M362.0 1000.0 L322.0 933.0" stroke="#8a8a8a" stroke-width="1" fill="none" />
<text transform="translate(359.9 996.6) rotate(-120.8)" font-size="18.5" fill="#868686" x="0" y="-1.5">2+200.00</text>
<path d="M47.0 377.0 L122.7 528.0" stroke="#8a8a8a" stroke-width="1" fill="none" />
<path d="M122.7 528.0 L299.2 872.3" stroke="#8a8a8a" stroke-width="1" fill="none" />
<path d="M136.3 534.4 L307.4 868.1" stroke="#8a8a8a" stroke-width="1" fill="none" />
<path d="M126.5 526.0 L308.5 881.0" stroke="#7f9aec" stroke-width="3.4" fill="none" />
<path d="M171.8 623.8L164.1 627.8L240.5 776.9L248.3 772.9" stroke="#8a8a8a" stroke-width="1" fill="none" stroke-linejoin="round" />
<path d="M137.4 565.2L295.7 874.1" stroke="#1ec47c" stroke-width="0.8" fill="none" />
<path d="M137.4 565.2L295.7 874.1" stroke="#1ec47c" stroke-width="2.4" fill="none" stroke-dasharray="6 4 3 4"/>
<circle cx="126.0" cy="525.0" r="7.0" fill="#1a9cb0" stroke="#1a9cb0" stroke-width="1"/>
<path d="M69.5 575.0C68.4 569.7 69.1 563.7 71.2 558.8C73.4 553.8 77.1 550.0 81.2 548.0C85.4 546.0 89.6 548.3 93.8 548.0C97.9 547.7 99.9 546.9 103.8 546.2C107.6 545.6 111.3 543.0 115.0 544.5C118.7 546.0 118.2 552.8 123.8 554.5C129.2 556.2 138.8 555.9 145.0 553.8C151.2 551.6 152.5 546.0 157.5 543.0C162.5 540.0 167.6 537.1 172.5 537.5C177.4 537.9 181.8 542.0 184.5 545.0C187.2 548.0 187.8 550.5 187.0 553.8C186.2 557.0 184.0 560.0 180.0 562.5C176.0 565.0 169.1 565.2 165.0 567.5C160.9 569.8 157.3 573.1 157.5 575.0C157.7 576.9 164.0 576.5 166.2 578.0C168.5 579.5 171.6 582.5 170.0 583.0C168.4 583.5 161.2 580.5 157.5 580.5C153.8 580.5 156.4 582.1 150.0 583.0C143.6 583.9 131.2 584.9 122.5 585.5C113.8 586.1 107.8 585.0 102.5 586.2C97.2 587.5 96.3 590.2 93.8 592.5C91.2 594.8 91.7 599.7 88.8 598.8C85.8 597.8 81.0 591.9 77.5 587.5C74.0 583.1 70.6 580.3 69.5 575.0Z" stroke="#111" stroke-width="1.3" fill="none" stroke-linejoin="round" />
<path d="M70.5 582.5C70.4 579.2 68.4 568.1 70.0 562.5C71.6 556.9 76.2 550.6 80.0 548.8C83.8 546.9 90.2 546.9 92.5 551.2C94.8 555.6 93.7 568.5 93.8 575.0C93.8 581.5 93.1 587.5 93.0 590.0 M77.5 580.0C77.5 577.7 76.5 569.8 77.5 566.2C78.5 562.7 81.5 559.8 83.8 558.8C86.0 557.7 90.0 559.8 91.2 560.0" stroke="#d2a21e" stroke-width="2.1" fill="none" />
<path d="M93.8 579.5L150.0 580.5" stroke="#d2a21e" stroke-width="2.1" fill="none" stroke-linejoin="round" />
<path d="M77.5 580.0L77.5 595.0" stroke="#d2a21e" stroke-width="2.1" fill="none" stroke-linejoin="round" />
<circle cx="130.0" cy="563.0" r="5.2" fill="#cfcfcf" stroke="#111" stroke-width="1.5"/>
<circle cx="141.2" cy="565.5" r="5.2" fill="#cfcfcf" stroke="#111" stroke-width="1.5"/>
<circle cx="153.8" cy="565.5" r="5.2" fill="#cfcfcf" stroke="#111" stroke-width="1.5"/>
<circle cx="148.8" cy="555.5" r="5.2" fill="#cfcfcf" stroke="#111" stroke-width="1.5"/>
<circle cx="160.0" cy="558.0" r="5.2" fill="#cfcfcf" stroke="#111" stroke-width="1.5"/>
<circle cx="157.5" cy="547.5" r="5.2" fill="#cfcfcf" stroke="#111" stroke-width="1.5"/>
<circle cx="168.8" cy="550.0" r="5.2" fill="#cfcfcf" stroke="#111" stroke-width="1.5"/>
<circle cx="166.2" cy="540.0" r="5.2" fill="#cfcfcf" stroke="#111" stroke-width="1.5"/>
<circle cx="177.0" cy="542.5" r="5.2" fill="#cfcfcf" stroke="#111" stroke-width="1.5"/>
<circle cx="181.2" cy="550.0" r="5.2" fill="#cfcfcf" stroke="#111" stroke-width="1.5"/>
<circle cx="172.5" cy="558.0" r="5.2" fill="#cfcfcf" stroke="#111" stroke-width="1.5"/>
<circle cx="177.0" cy="559.0" r="5.2" fill="#cfcfcf" stroke="#111" stroke-width="1.5"/>
<path d="M102.5 563.0C105.8 562.9 115.4 564.0 122.5 562.5C129.6 561.0 137.9 556.9 145.0 553.8C152.1 550.6 159.8 545.3 165.0 543.8C170.2 542.2 174.4 544.4 176.2 544.5M101.2 571.2C104.8 571.5 114.8 574.0 122.5 573.0C130.2 572.0 139.6 568.0 147.5 565.5C155.4 563.0 164.6 560.0 170.0 558.0C175.4 556.0 178.3 554.5 180.0 553.8" stroke="#e01818" stroke-width="1.9" fill="none" />
<path d="M165.0 543.8L171.2 553.8L176.2 544.5L180.0 553.8L175.0 562.0L170.0 558.0" stroke="#e01818" stroke-width="1.9" fill="none" stroke-linejoin="round" />
<path d="M157.5 547.5L171.2 553.8L180.0 553.8" stroke="#e01818" stroke-width="1.9" fill="none" stroke-linejoin="round" />
<circle cx="69.5" cy="580.5" r="4.6" fill="#d9a441" stroke="#111" stroke-width="1.2"/>
<circle cx="69.5" cy="580.5" r="2.5" fill="#3a2a10" stroke="none" stroke-width="0"/>
<circle cx="69.5" cy="579.8" r="1.0" fill="#d9a441" stroke="none" stroke-width="0"/>
<circle cx="77.5" cy="582.5" r="4.6" fill="#d9a441" stroke="#111" stroke-width="1.2"/>
<circle cx="77.5" cy="582.5" r="2.5" fill="#3a2a10" stroke="none" stroke-width="0"/>
<circle cx="77.5" cy="581.8" r="1.0" fill="#d9a441" stroke="none" stroke-width="0"/>
<circle cx="65.0" cy="588.8" r="4.6" fill="#d9a441" stroke="#111" stroke-width="1.2"/>
<circle cx="65.0" cy="588.8" r="2.5" fill="#3a2a10" stroke="none" stroke-width="0"/>
<circle cx="65.0" cy="588.1" r="1.0" fill="#d9a441" stroke="none" stroke-width="0"/>
<circle cx="73.0" cy="590.0" r="4.6" fill="#d9a441" stroke="#111" stroke-width="1.2"/>
<circle cx="73.0" cy="590.0" r="2.5" fill="#3a2a10" stroke="none" stroke-width="0"/>
<circle cx="73.0" cy="589.3" r="1.0" fill="#d9a441" stroke="none" stroke-width="0"/>
<circle cx="81.2" cy="591.2" r="4.6" fill="#d9a441" stroke="#111" stroke-width="1.2"/>
<circle cx="81.2" cy="591.2" r="2.5" fill="#3a2a10" stroke="none" stroke-width="0"/>
<circle cx="81.2" cy="590.6" r="1.0" fill="#d9a441" stroke="none" stroke-width="0"/>
<circle cx="68.0" cy="597.5" r="4.6" fill="#d9a441" stroke="#111" stroke-width="1.2"/>
<circle cx="68.0" cy="597.5" r="2.5" fill="#3a2a10" stroke="none" stroke-width="0"/>
<circle cx="68.0" cy="596.8" r="1.0" fill="#d9a441" stroke="none" stroke-width="0"/>
<circle cx="77.0" cy="598.0" r="4.6" fill="#d9a441" stroke="#111" stroke-width="1.2"/>
<circle cx="77.0" cy="598.0" r="2.5" fill="#3a2a10" stroke="none" stroke-width="0"/>
<circle cx="77.0" cy="597.3" r="1.0" fill="#d9a441" stroke="none" stroke-width="0"/>
<circle cx="85.0" cy="598.8" r="4.6" fill="#d9a441" stroke="#111" stroke-width="1.2"/>
<circle cx="85.0" cy="598.8" r="2.5" fill="#3a2a10" stroke="none" stroke-width="0"/>
<circle cx="85.0" cy="598.1" r="1.0" fill="#d9a441" stroke="none" stroke-width="0"/>
<circle cx="71.2" cy="605.0" r="4.6" fill="#d9a441" stroke="#111" stroke-width="1.2"/>
<circle cx="71.2" cy="605.0" r="2.5" fill="#3a2a10" stroke="none" stroke-width="0"/>
<circle cx="71.2" cy="604.3" r="1.0" fill="#d9a441" stroke="none" stroke-width="0"/>
<circle cx="80.0" cy="606.2" r="4.6" fill="#d9a441" stroke="#111" stroke-width="1.2"/>
<circle cx="80.0" cy="606.2" r="2.5" fill="#3a2a10" stroke="none" stroke-width="0"/>
<circle cx="80.0" cy="605.6" r="1.0" fill="#d9a441" stroke="none" stroke-width="0"/>
<circle cx="65.0" cy="602.5" r="4.6" fill="#d9a441" stroke="#111" stroke-width="1.2"/>
<circle cx="65.0" cy="602.5" r="2.5" fill="#3a2a10" stroke="none" stroke-width="0"/>
<circle cx="65.0" cy="601.8" r="1.0" fill="#d9a441" stroke="none" stroke-width="0"/>
<path d="M77.5 580.0L77.5 610.0" stroke="#d2a21e" stroke-width="2.1" fill="none" stroke-linejoin="round" />
<path d="M0.0 647.5L40.0 613.0L83.8 571.8L102.5 562.5" stroke="#1a8fa8" stroke-width="0.8" fill="none" />
<path d="M0.0 647.5L40.0 613.0L83.8 571.8L102.5 562.5" stroke="#1a8fa8" stroke-width="3" fill="none" stroke-dasharray="4 3 4 11"/>
<path d="M104.5 575.0L115.0 598.8L157.5 580.5L216.2 552.0" stroke="#1a8fa8" stroke-width="0.8" fill="none" />
<path d="M104.5 575.0L115.0 598.8L157.5 580.5L216.2 552.0" stroke="#1a8fa8" stroke-width="3" fill="none" stroke-dasharray="4 3 4 11"/>
<path d="M86.2 553.8L115.0 535.0L128.0 553.8L101.2 572.5Z" stroke="#111" stroke-width="1.2" fill="none" stroke-linejoin="round" />
<path d="M86.2 553.8L101.2 572.5L105.5 553.8Z" stroke="none" stroke-width="1.2" fill="#000" stroke-linejoin="round" />
<path d="M115.0 535.0L128.0 553.8L105.5 553.8Z" stroke="none" stroke-width="1.2" fill="#000" stroke-linejoin="round" />
<circle cx="83.8" cy="571.2" r="3.6" fill="#fff" stroke="#1414e6" stroke-width="1.6"/>
<circle cx="83.8" cy="571.2" r="1.6" fill="#9ab4ff" stroke="#1414e6" stroke-width="0.8"/>
<circle cx="135.0" cy="560.0" r="3.6" fill="#fff" stroke="#1414e6" stroke-width="1.6"/>
<circle cx="135.0" cy="560.0" r="1.6" fill="#9ab4ff" stroke="#1414e6" stroke-width="0.8"/>
<circle cx="212.0" cy="567.0" r="3.2" fill="#111" stroke="#111" stroke-width="0.5"/>
<path d="M206.8 567.0 h10.4 M212.0 561.8 v10.4" stroke="#111" stroke-width="1" fill="none" />
<circle cx="17.5" cy="690.0" r="45.0" fill="none" stroke="#111" stroke-width="1.1"/>
<circle cx="-20.0" cy="727.0" r="42.0" fill="none" stroke="#111" stroke-width="1.1"/>
<circle cx="17.5" cy="689.5" r="8.0" fill="#fff" stroke="#111" stroke-width="1.2"/>
<circle cx="17.5" cy="689.5" r="3.5" fill="#111" stroke="#111" stroke-width="0.5"/>
<path d="M12.0 689.5 h11.0 M17.5 684.0 v11.0" stroke="#111" stroke-width="1" fill="none" />
<path d="M-10.0 655.0C-7.2 651.3 -0.0 641.4 5.0 635.0C10.0 628.6 11.5 624.6 17.5 620.0C23.5 615.4 31.8 611.1 37.5 610.0C43.2 608.9 46.5 610.1 48.8 613.8C51.0 617.4 51.1 624.3 50.0 630.0C48.9 635.7 46.6 640.4 42.5 645.0C38.4 649.6 32.5 652.7 27.5 655.0C22.5 657.3 17.3 657.0 15.0 657.5" stroke="#111" stroke-width="1.1" fill="none" stroke-linejoin="round" />
<path d="M-2.5 662.5L7.5 653.0L10.5 638.0L15.5 628.0L25.0 630.5L43.0 615.5" stroke="#d2a21e" stroke-width="2.1" fill="none" stroke-linejoin="round" />
<path d="M23.8 652.5C23.3 650.0 22.5 644.2 25.0 638.8C27.5 633.2 32.9 626.9 37.5 622.5C42.1 618.1 47.2 614.5 50.0 615.0C52.8 615.5 52.5 621.6 52.5 625.0C52.5 628.4 52.1 630.3 50.0 633.8C47.9 637.2 45.4 640.3 41.2 643.8C37.1 647.2 30.7 650.9 27.5 652.5C24.3 654.1 24.2 655.0 23.8 652.5Z" stroke="#0a3a0a" stroke-width="1" fill="#17561a" stroke-linejoin="round" />
<path d="M21.2 655.5L20.0 642.5L35.0 623.0L47.5 615.0L46.5 630.0L37.5 645.5L23.8 656.5Z" stroke="#22e022" stroke-width="2" fill="none" stroke-linejoin="round" />
<path d="M27.5 650.0L30.0 636.2L41.2 623.8L40.0 633.8L31.2 647.5Z" stroke="#22e022" stroke-width="1.5" fill="none" stroke-linejoin="round" />
<circle cx="30.0" cy="639.5" r="3.6" fill="#fff" stroke="#1414e6" stroke-width="1.6"/>
<circle cx="30.0" cy="639.5" r="1.6" fill="#9ab4ff" stroke="#1414e6" stroke-width="0.8"/>
<path d="M252.3 580.2L252.3 580.2C253.2 581.4 253.8 579.6 255.2 583.8C256.5 588.0 257.5 587.3 256.4 592.8C255.3 598.2 255.8 596.1 251.8 600.2C247.8 604.4 249.3 603.0 244.5 605.2C239.7 607.4 241.0 607.4 237.3 606.9C233.7 606.4 234.8 604.8 233.5 603.8L231.5 604.2C231.7 606.5 233.9 606.5 232.1 611.2C230.2 615.9 231.0 614.8 226.1 618.3C221.1 621.8 223.2 621.3 217.2 621.6C211.2 621.9 213.2 621.5 208.0 619.2C202.7 616.8 203.7 618.2 201.5 614.6C199.3 610.9 201.4 610.4 201.3 608.3L200.3 605.0C198.9 606.5 200.7 607.3 196.1 609.5C191.5 611.7 192.4 612.3 186.5 611.6C180.6 610.9 182.8 611.4 178.4 607.4C174.1 603.3 175.3 604.9 173.5 599.5C171.8 594.2 172.0 595.5 173.2 591.3C174.4 587.2 175.8 588.5 177.1 587.0L176.6 585.1C174.5 585.2 175.0 587.1 170.3 585.4C165.7 583.6 165.9 584.6 162.7 579.8C159.4 575.1 160.9 577.0 160.5 571.1C160.1 565.1 159.2 567.1 161.5 562.0C163.7 557.0 163.3 558.1 167.2 555.9C171.1 553.8 171.1 555.8 173.1 555.7L177.6 555.1C176.3 553.9 175.6 555.6 173.5 551.3C171.5 547.1 170.7 547.8 171.5 542.4C172.3 537.0 172.2 539.2 175.9 535.2C179.6 531.1 177.8 531.9 182.6 530.1C187.4 528.4 186.4 528.8 190.3 529.9C194.2 530.9 192.9 532.2 194.2 533.4L194.8 530.5C195.0 529.1 193.5 530.2 195.5 526.3C197.4 522.4 196.2 522.2 200.7 518.8C205.3 515.5 203.4 516.7 209.1 516.3C214.8 515.8 212.9 515.4 217.8 517.5C222.6 519.6 221.5 519.6 223.7 522.6C226.0 525.6 224.2 525.2 224.5 526.5L225.5 529.7C226.7 528.5 225.1 527.8 229.2 526.3C233.3 524.8 232.4 524.2 237.8 525.2C243.1 526.3 241.1 525.7 245.2 529.4C249.4 533.1 248.5 531.3 250.3 536.3C252.0 541.2 251.1 540.5 250.3 544.2C249.6 547.9 248.8 546.4 248.1 547.4L248.0 549.6C249.9 549.6 249.4 547.7 253.7 549.5C258.0 551.2 258.0 550.2 260.9 554.8C263.8 559.4 262.1 557.5 262.4 563.2C262.7 568.8 263.9 566.9 261.9 571.7C259.9 576.5 259.9 575.4 256.4 577.5C252.9 579.6 253.1 577.8 251.4 577.9Z" stroke="#111" stroke-width="1.3" fill="none" stroke-linejoin="round"/>
<path d="M381.8 538.4L381.8 538.4C384.5 539.6 385.9 537.9 389.7 542.0C393.5 546.2 392.6 544.9 393.3 551.0C393.9 557.1 394.8 555.2 391.7 560.3C388.7 565.5 389.2 563.4 384.2 566.4C379.2 569.5 381.5 569.8 376.7 569.4C372.0 569.1 372.2 566.8 370.0 565.4L367.1 565.2C368.6 568.1 371.2 568.0 371.7 574.0C372.2 580.0 372.0 578.0 368.7 583.1C365.3 588.3 367.0 586.9 361.5 589.5C356.0 592.1 358.0 591.9 352.2 590.9C346.3 590.0 347.7 591.0 344.0 586.7C340.4 582.4 342.2 580.8 341.3 577.9L339.5 580.4C338.8 582.4 340.8 582.2 337.3 586.3C333.7 590.5 334.7 591.1 328.9 592.8C323.0 594.5 325.5 593.3 319.7 591.5C313.8 589.6 315.3 591.5 311.3 587.3C307.3 583.1 308.1 584.0 307.7 578.9C307.3 573.8 309.4 574.3 310.2 572.0L311.3 567.1C309.2 568.6 310.1 570.5 304.9 571.6C299.7 572.7 300.8 572.9 295.8 570.4C290.9 567.9 293.2 568.8 290.0 564.1C286.9 559.3 286.8 561.6 286.3 556.3C285.9 551.0 286.0 552.0 288.7 548.2C291.4 544.4 292.5 545.9 294.4 544.8L290.3 543.8C287.9 543.5 287.8 545.6 283.1 542.8C278.4 540.0 278.7 541.0 276.3 535.4C273.9 529.8 274.9 532.1 276.0 526.0C277.0 519.9 275.8 521.9 279.4 517.2C282.9 512.5 281.9 513.4 286.5 512.1C291.2 510.7 291.0 512.7 293.3 513.0L293.6 510.9C293.8 510.1 294.4 512.6 294.2 508.5C293.9 504.5 291.6 504.4 292.8 498.8C294.0 493.1 293.5 495.4 297.8 491.6C302.0 487.9 300.4 489.0 305.5 487.5C310.7 486.0 309.8 486.9 313.2 487.1C316.6 487.4 314.9 487.9 315.7 488.3L318.5 489.6C318.9 488.3 317.4 490.0 319.5 485.6C321.6 481.3 320.1 480.1 324.7 476.6C329.4 473.2 327.6 475.6 333.5 475.4C339.4 475.1 337.3 473.9 342.3 475.9C347.3 478.0 346.3 477.6 348.5 481.4C350.6 485.2 348.7 485.4 348.8 487.4L349.7 491.2C351.1 489.5 349.5 488.6 353.8 486.2C358.1 483.8 357.0 483.8 362.7 484.0C368.5 484.3 366.2 484.0 371.1 487.0C376.0 490.0 375.3 488.1 377.4 493.0C379.6 498.0 378.9 497.2 377.6 501.9C376.3 506.5 374.9 505.3 373.5 507.0L372.6 509.8C376.2 508.5 376.8 505.8 383.5 505.9C390.1 506.0 387.9 506.0 392.6 510.2C397.3 514.4 396.4 512.5 397.6 518.5C398.8 524.5 397.8 522.5 396.1 528.2C394.4 533.8 397.7 532.7 392.6 535.5C387.5 538.2 384.7 536.1 380.8 536.5Z" stroke="#111" stroke-width="1.3" fill="none" stroke-linejoin="round"/>
<circle cx="211.7" cy="567.7" r="3.2" fill="#111" stroke="#111" stroke-width="0.5"/>
<path d="M206.5 567.7 h10.4 M211.7 562.5 v10.4" stroke="#111" stroke-width="1" fill="none" />
<circle cx="337.7" cy="533.3" r="3.2" fill="#111" stroke="#111" stroke-width="0.5"/>
<path d="M332.5 533.3 h10.4 M337.7 528.1 v10.4" stroke="#111" stroke-width="1" fill="none" />
<path d="M224.0 549.3C223.1 547.5 223.7 545.6 226.7 542.7C229.6 539.7 234.5 537.5 240.0 533.3C245.5 529.2 249.9 524.0 256.7 520.0C263.4 516.0 268.7 513.6 276.7 511.7C284.6 509.7 289.6 510.6 300.0 509.3C310.4 508.1 322.3 504.4 333.3 505.0C344.3 505.6 354.4 509.9 360.0 512.7C365.6 515.4 364.2 517.6 364.0 520.0C363.8 522.4 366.7 523.6 358.7 526.0C350.6 528.4 336.3 530.0 320.0 533.3C303.7 536.6 286.2 540.5 270.0 544.0C253.8 547.5 240.1 551.7 231.7 552.7C223.2 553.6 224.9 551.2 224.0 549.3Z" stroke="#111" stroke-width="1.3" fill="none" stroke-linejoin="round" />
<path d="M241.7 546.0 L270.0 538.3 M238.8 535.4 L267.1 527.7M241.7 546.0 L238.8 535.4M255.8 542.2 L253.0 531.5M270.0 538.3 L267.1 527.7" stroke="#e01818" stroke-width="1.9" fill="none" />
<path d="M255.0 523.3L275.0 516.7L278.3 528.3L260.0 535.0Z" stroke="#e01818" stroke-width="1.9" fill="none" stroke-linejoin="round" />
<path d="M240.0 533.3L255.0 523.3L275.0 516.7" stroke="#e01818" stroke-width="1.9" fill="none" stroke-linejoin="round" />
<path d="M266.7 540.7L268.3 530.0L359.3 514.0L360.0 524.0Z" stroke="#d2a21e" stroke-width="2.1" fill="none" stroke-linejoin="round" />
<circle cx="313.6" cy="513.3" r="3.1" fill="#1a1a1a" stroke="#000" stroke-width="1.3"/>
<circle cx="313.6" cy="513.3" r="1.4" fill="#555" stroke="none" stroke-width="0"/>
<circle cx="320.4" cy="512.2" r="3.1" fill="#1a1a1a" stroke="#000" stroke-width="1.3"/>
<circle cx="320.4" cy="512.2" r="1.4" fill="#555" stroke="none" stroke-width="0"/>
<circle cx="327.2" cy="511.1" r="3.1" fill="#1a1a1a" stroke="#000" stroke-width="1.3"/>
<circle cx="327.2" cy="511.1" r="1.4" fill="#555" stroke="none" stroke-width="0"/>
<circle cx="334.1" cy="509.9" r="3.1" fill="#1a1a1a" stroke="#000" stroke-width="1.3"/>
<circle cx="334.1" cy="509.9" r="1.4" fill="#555" stroke="none" stroke-width="0"/>
<circle cx="340.9" cy="508.8" r="3.1" fill="#1a1a1a" stroke="#000" stroke-width="1.3"/>
<circle cx="340.9" cy="508.8" r="1.4" fill="#555" stroke="none" stroke-width="0"/>
<circle cx="347.7" cy="507.7" r="3.1" fill="#1a1a1a" stroke="#000" stroke-width="1.3"/>
<circle cx="347.7" cy="507.7" r="1.4" fill="#555" stroke="none" stroke-width="0"/>
<circle cx="354.6" cy="506.6" r="3.1" fill="#1a1a1a" stroke="#000" stroke-width="1.3"/>
<circle cx="354.6" cy="506.6" r="1.4" fill="#555" stroke="none" stroke-width="0"/>
<circle cx="317.9" cy="518.2" r="3.1" fill="#1a1a1a" stroke="#000" stroke-width="1.3"/>
<circle cx="317.9" cy="518.2" r="1.4" fill="#555" stroke="none" stroke-width="0"/>
<circle cx="324.7" cy="517.1" r="3.1" fill="#1a1a1a" stroke="#000" stroke-width="1.3"/>
<circle cx="324.7" cy="517.1" r="1.4" fill="#555" stroke="none" stroke-width="0"/>
<circle cx="331.5" cy="515.9" r="3.1" fill="#1a1a1a" stroke="#000" stroke-width="1.3"/>
<circle cx="331.5" cy="515.9" r="1.4" fill="#555" stroke="none" stroke-width="0"/>
<circle cx="338.4" cy="514.8" r="3.1" fill="#1a1a1a" stroke="#000" stroke-width="1.3"/>
<circle cx="338.4" cy="514.8" r="1.4" fill="#555" stroke="none" stroke-width="0"/>
<circle cx="345.2" cy="513.7" r="3.1" fill="#1a1a1a" stroke="#000" stroke-width="1.3"/>
<circle cx="345.2" cy="513.7" r="1.4" fill="#555" stroke="none" stroke-width="0"/>
<circle cx="352.0" cy="512.6" r="3.1" fill="#1a1a1a" stroke="#000" stroke-width="1.3"/>
<circle cx="352.0" cy="512.6" r="1.4" fill="#555" stroke="none" stroke-width="0"/>
<path d="M311.7 511.7L333.3 508.3L334.0 515.0" stroke="#d2a21e" stroke-width="2.1" fill="none" stroke-linejoin="round" />
<path d="M160.0 575.0L226.7 548.7L280.0 532.0L360.0 513.7L400.0 510.0" stroke="#1a8fa8" stroke-width="0.8" fill="none" />
<path d="M160.0 575.0L226.7 548.7L280.0 532.0L360.0 513.7L400.0 510.0" stroke="#1a8fa8" stroke-width="3" fill="none" stroke-dasharray="4 3 4 11"/>
<circle cx="227.3" cy="547.7" r="3.6" fill="#fff" stroke="#e01818" stroke-width="1.4"/>
<circle cx="227.3" cy="547.7" r="1.6" fill="#f4a0a0" stroke="#e01818" stroke-width="0.8"/>
<circle cx="238.3" cy="543.3" r="3.6" fill="#fff" stroke="#1414e6" stroke-width="1.6"/>
<circle cx="238.3" cy="543.3" r="1.6" fill="#9ab4ff" stroke="#1414e6" stroke-width="0.8"/>
<circle cx="335.7" cy="519.0" r="3.6" fill="#fff" stroke="#e01818" stroke-width="1.4"/>
<circle cx="335.7" cy="519.0" r="1.6" fill="#f4a0a0" stroke="#e01818" stroke-width="0.8"/>
<path d="M512.2 535.6L512.2 535.6C514.4 537.1 516.0 535.5 518.7 540.1C521.4 544.7 520.7 543.3 520.3 549.3C519.8 555.4 520.4 553.0 517.3 558.4C514.2 563.7 516.3 562.9 511.0 565.4C505.7 567.8 506.4 566.9 501.4 565.7C496.5 564.6 497.9 563.2 496.2 561.9L493.0 560.8C493.2 562.5 494.5 561.1 493.5 566.0C492.5 570.9 493.9 571.2 490.0 575.4C486.1 579.7 487.5 577.6 481.8 578.7C476.1 579.9 478.2 580.4 473.0 578.9C467.7 577.5 468.8 577.6 466.0 574.4C463.2 571.2 465.0 571.1 464.5 569.4L462.6 568.8C461.5 571.1 463.4 571.9 459.3 575.6C455.2 579.3 456.6 578.6 450.3 579.9C444.1 581.2 445.9 582.2 440.5 579.5C435.1 576.9 437.3 576.9 434.1 571.9C430.8 566.9 430.5 569.4 430.7 564.6C431.0 559.7 433.5 559.7 434.9 557.3L435.1 554.4C433.2 555.1 434.4 556.5 429.4 556.4C424.5 556.4 425.4 557.1 420.3 554.1C415.2 551.2 416.5 552.7 414.1 547.5C411.8 542.3 412.3 544.1 413.2 538.5C414.0 533.0 413.6 534.2 416.7 530.8C419.9 527.5 420.6 529.2 422.5 528.4L425.0 526.3C421.7 525.7 420.0 527.7 415.1 524.5C410.2 521.3 412.0 522.4 410.3 516.7C408.6 511.1 408.7 513.3 410.0 507.6C411.4 501.9 410.2 503.5 414.4 499.7C418.5 495.8 417.0 496.2 422.5 496.1C427.9 496.0 428.0 498.3 430.8 499.4L431.7 497.8C430.8 496.2 429.8 497.8 429.0 492.9C428.1 488.1 427.2 488.8 429.1 483.4C431.1 477.9 430.2 480.0 434.7 476.7C439.2 473.3 437.4 473.9 442.7 473.4C448.0 472.9 446.8 472.5 450.6 475.1C454.5 477.6 453.0 479.0 454.3 481.0L455.1 476.8C455.7 476.2 454.2 477.4 457.1 474.9C459.9 472.3 458.5 472.1 463.5 469.2C468.6 466.4 466.6 466.0 472.1 466.3C477.6 466.6 475.8 466.8 480.1 470.0C484.5 473.2 483.3 473.0 485.2 475.9C487.1 478.7 485.7 477.7 485.9 478.7L487.3 480.5C488.1 480.6 486.0 481.0 489.8 480.8C493.6 480.6 493.3 478.7 498.7 479.9C504.1 481.0 502.0 480.4 506.0 484.1C510.1 487.9 509.2 486.2 510.8 491.1C512.4 496.0 511.1 495.4 510.7 498.9C510.4 502.3 510.0 500.5 509.7 501.4L509.4 503.7C510.7 504.0 510.0 502.4 513.4 504.6C516.9 506.7 516.3 505.6 519.7 510.2C523.1 514.7 523.1 512.7 523.6 518.2C524.1 523.7 523.9 521.9 521.3 526.7C518.6 531.5 518.3 530.2 515.7 532.6C513.0 534.9 514.1 533.4 513.4 533.8Z" stroke="#111" stroke-width="1.3" fill="none" stroke-linejoin="round"/>
<circle cx="467.3" cy="524.0" r="3.2" fill="#111" stroke="#111" stroke-width="0.5"/>
<path d="M462.1 524.0 h10.4 M467.3 518.8 v10.4" stroke="#111" stroke-width="1" fill="none" />
<path d="M362.7 481.7C362.7 477.8 364.4 473.1 370.0 470.7C375.6 468.2 386.0 469.2 393.3 468.3C400.7 467.5 402.1 465.7 410.0 466.0C417.9 466.3 427.5 467.1 436.7 470.0C445.8 472.9 453.9 481.1 460.0 481.7C466.1 482.3 463.9 475.5 470.0 473.3C476.1 471.2 488.4 467.6 493.3 470.0C498.2 472.4 498.2 480.2 496.7 486.7C495.1 493.1 489.6 499.2 485.0 505.0C480.4 510.8 477.5 515.3 471.7 518.3C465.9 521.4 458.8 522.9 453.3 521.7C447.8 520.4 445.6 516.2 441.7 511.7C437.7 507.1 437.5 499.7 431.7 496.7C425.9 493.6 418.2 495.0 410.0 495.0C401.8 495.0 394.0 497.3 386.7 496.7C379.3 496.1 374.4 494.4 370.0 491.7C365.6 488.9 362.7 485.5 362.7 481.7Z" stroke="#111" stroke-width="1.3" fill="none" stroke-linejoin="round" />
<circle cx="369.3" cy="478.3" r="5.6" fill="#cfcfcf" stroke="#111" stroke-width="1.5"/>
<circle cx="381.7" cy="475.0" r="5.6" fill="#cfcfcf" stroke="#111" stroke-width="1.5"/>
<circle cx="376.7" cy="487.3" r="5.6" fill="#cfcfcf" stroke="#111" stroke-width="1.5"/>
<circle cx="390.0" cy="485.0" r="5.6" fill="#cfcfcf" stroke="#111" stroke-width="1.5"/>
<circle cx="398.3" cy="476.0" r="5.6" fill="#cfcfcf" stroke="#111" stroke-width="1.5"/>
<circle cx="403.3" cy="486.7" r="5.6" fill="#cfcfcf" stroke="#111" stroke-width="1.5"/>
<circle cx="415.0" cy="483.3" r="5.6" fill="#cfcfcf" stroke="#111" stroke-width="1.5"/>
<circle cx="420.0" cy="490.0" r="5.6" fill="#cfcfcf" stroke="#111" stroke-width="1.5"/>
<circle cx="386.7" cy="493.3" r="5.6" fill="#cfcfcf" stroke="#111" stroke-width="1.5"/>
<path d="M370.0 483.3C373.3 483.1 382.2 481.4 390.0 481.7C397.8 481.9 409.2 482.8 416.7 485.0C424.2 487.2 430.3 491.1 435.0 495.0C439.7 498.9 443.3 506.1 445.0 508.3M380.0 491.7C383.3 491.8 392.8 491.8 400.0 492.7C407.2 493.5 416.9 494.3 423.3 496.7C429.7 499.0 435.8 505.0 438.3 506.7" stroke="#e01818" stroke-width="1.9" fill="none" />
<path d="M431.7 483.3L447.3 500.0L445.0 508.3" stroke="#e01818" stroke-width="1.9" fill="none" stroke-linejoin="round" />
<path d="M370.0 483.3C373.3 483.1 382.2 481.4 390.0 481.7C397.8 481.9 412.2 484.4 416.7 485.0" stroke="#e01818" stroke-width="1.9" fill="none" />
<path d="M410.0 470.7C414.4 471.9 428.3 476.2 436.7 478.3C445.0 480.4 454.4 483.7 460.0 483.3C465.6 482.9 468.3 477.2 470.0 476.0M460.0 483.3C459.4 486.1 457.2 495.8 456.7 500.0C456.1 504.2 456.7 506.9 456.7 508.3M442.7 510.0C443.4 511.6 443.9 517.6 447.3 519.3C450.8 521.1 458.7 521.7 463.3 520.7C467.9 519.7 472.5 516.8 475.0 513.3C477.5 509.9 477.8 502.2 478.3 500.0" stroke="#d2a21e" stroke-width="2.1" fill="none" />
<circle cx="475.0" cy="475.0" r="4.8" fill="#d9a441" stroke="#111" stroke-width="1.2"/>
<circle cx="475.0" cy="475.0" r="2.6" fill="#3a2a10" stroke="none" stroke-width="0"/>
<circle cx="475.0" cy="474.3" r="1.1" fill="#d9a441" stroke="none" stroke-width="0"/>
<circle cx="486.0" cy="473.3" r="4.8" fill="#d9a441" stroke="#111" stroke-width="1.2"/>
<circle cx="486.0" cy="473.3" r="2.6" fill="#3a2a10" stroke="none" stroke-width="0"/>
<circle cx="486.0" cy="472.6" r="1.1" fill="#d9a441" stroke="none" stroke-width="0"/>
<circle cx="491.7" cy="481.7" r="4.8" fill="#d9a441" stroke="#111" stroke-width="1.2"/>
<circle cx="491.7" cy="481.7" r="2.6" fill="#3a2a10" stroke="none" stroke-width="0"/>
<circle cx="491.7" cy="480.9" r="1.1" fill="#d9a441" stroke="none" stroke-width="0"/>
<circle cx="480.0" cy="483.3" r="4.8" fill="#d9a441" stroke="#111" stroke-width="1.2"/>
<circle cx="480.0" cy="483.3" r="2.6" fill="#3a2a10" stroke="none" stroke-width="0"/>
<circle cx="480.0" cy="482.6" r="1.1" fill="#d9a441" stroke="none" stroke-width="0"/>
<circle cx="473.3" cy="491.7" r="4.8" fill="#d9a441" stroke="#111" stroke-width="1.2"/>
<circle cx="473.3" cy="491.7" r="2.6" fill="#3a2a10" stroke="none" stroke-width="0"/>
<circle cx="473.3" cy="490.9" r="1.1" fill="#d9a441" stroke="none" stroke-width="0"/>
<circle cx="485.0" cy="491.7" r="4.8" fill="#d9a441" stroke="#111" stroke-width="1.2"/>
<circle cx="485.0" cy="491.7" r="2.6" fill="#3a2a10" stroke="none" stroke-width="0"/>
<circle cx="485.0" cy="490.9" r="1.1" fill="#d9a441" stroke="none" stroke-width="0"/>
<circle cx="478.3" cy="500.0" r="4.8" fill="#d9a441" stroke="#111" stroke-width="1.2"/>
<circle cx="478.3" cy="500.0" r="2.6" fill="#3a2a10" stroke="none" stroke-width="0"/>
<circle cx="478.3" cy="499.3" r="1.1" fill="#d9a441" stroke="none" stroke-width="0"/>
<circle cx="471.7" cy="503.3" r="4.8" fill="#d9a441" stroke="#111" stroke-width="1.2"/>
<circle cx="471.7" cy="503.3" r="2.6" fill="#3a2a10" stroke="none" stroke-width="0"/>
<circle cx="471.7" cy="502.6" r="1.1" fill="#d9a441" stroke="none" stroke-width="0"/>
<path d="M483.3 470.0L476.7 503.3" stroke="#d2a21e" stroke-width="2.1" fill="none" stroke-linejoin="round" />
<path d="M360.0 512.7L410.0 508.7L462.3 506.7L520.0 510.0L573.3 516.0L600.0 520.7" stroke="#1a8fa8" stroke-width="0.8" fill="none" />
<path d="M360.0 512.7L410.0 508.7L462.3 506.7L520.0 510.0L573.3 516.0L600.0 520.7" stroke="#1a8fa8" stroke-width="3" fill="none" stroke-dasharray="4 3 4 11"/>
<circle cx="462.3" cy="506.7" r="3.6" fill="#fff" stroke="#e01818" stroke-width="1.4"/>
<circle cx="462.3" cy="506.7" r="1.6" fill="#f4a0a0" stroke="#e01818" stroke-width="0.8"/>
<path d="M749.9 597.2L749.9 597.2C751.0 598.9 752.1 597.1 753.3 602.3C754.4 607.5 755.2 606.4 753.4 612.7C751.6 618.9 752.9 617.0 747.9 621.0C743.0 625.0 744.6 623.5 738.6 624.6C732.5 625.7 734.2 626.1 729.9 624.3C725.6 622.5 727.0 620.9 725.6 619.2L722.2 616.3C722.0 618.2 723.8 617.2 721.6 622.0C719.4 626.9 720.7 627.1 715.7 630.7C710.7 634.4 712.6 633.5 706.6 633.1C700.6 632.7 702.7 632.2 697.7 629.6C692.6 626.9 693.5 628.7 691.3 625.1C689.2 621.5 691.3 620.9 691.3 618.8L689.7 617.1C688.0 619.2 689.8 620.4 684.5 623.5C679.3 626.5 680.3 626.8 673.9 626.1C667.6 625.4 670.2 625.6 665.4 621.3C660.6 617.1 661.8 619.1 659.5 613.5C657.3 607.9 656.9 609.6 658.7 604.5C660.5 599.5 662.9 600.3 664.9 598.2L662.4 597.3C660.5 597.4 661.7 599.1 656.8 597.5C651.8 595.9 652.0 597.1 647.7 592.5C643.3 587.9 644.8 589.8 643.7 583.6C642.5 577.4 642.2 579.6 644.2 573.9C646.2 568.2 645.8 569.4 649.7 566.6C653.6 563.8 653.8 565.8 655.9 565.5L660.3 564.1C656.2 562.4 653.1 564.0 648.0 559.0C642.8 553.9 645.0 555.6 644.9 549.0C644.7 542.3 644.3 544.8 647.6 539.0C650.8 533.2 649.2 534.8 654.7 531.6C660.3 528.4 657.7 527.6 664.1 529.5C670.6 531.4 670.8 534.7 674.1 537.2L673.6 533.7C672.5 530.8 670.1 531.3 670.3 525.2C670.4 519.0 669.8 520.0 674.0 515.1C678.3 510.3 676.7 512.6 683.0 510.7C689.3 508.7 686.9 508.9 693.0 509.3C699.0 509.8 697.6 508.2 701.2 512.0C704.8 515.9 702.9 517.8 703.7 520.7L705.9 526.6C706.8 523.3 704.7 521.8 708.6 516.7C712.4 511.6 711.3 512.6 717.4 511.3C723.5 510.0 721.1 510.5 726.9 512.9C732.6 515.4 730.7 514.3 734.6 518.7C738.5 523.2 738.4 521.2 738.5 526.3C738.6 531.5 736.1 531.6 734.9 534.2L736.3 535.7C738.1 534.9 736.7 533.5 741.6 533.3C746.6 533.1 745.4 532.5 751.1 535.0C756.9 537.5 755.8 535.6 758.9 540.8C762.0 545.9 760.5 544.4 760.4 550.3C760.4 556.1 761.1 554.6 758.8 558.3C756.4 562.0 755.2 560.4 753.4 561.4L756.5 563.0C758.7 563.5 759.0 561.4 763.1 564.6C767.3 567.9 766.5 566.7 769.0 572.7C771.5 578.8 771.6 576.4 770.6 582.7C769.6 589.1 770.0 587.0 766.0 591.8C762.0 596.5 762.7 595.4 758.6 597.0C754.5 598.7 755.3 596.8 753.6 596.7Z" stroke="#111" stroke-width="1.3" fill="none" stroke-linejoin="round"/>
<path d="M580.0 513.8C579.3 508.7 578.7 502.4 581.2 497.5C583.8 492.6 588.5 488.6 593.8 487.0C599.0 485.4 604.7 486.4 610.0 488.8C615.3 491.1 617.0 497.0 622.5 500.0C628.0 503.0 633.6 505.5 640.0 505.0C646.4 504.5 651.1 499.8 657.5 497.5C663.9 495.2 668.6 492.5 675.0 492.5C681.4 492.5 687.9 494.8 692.5 497.5C697.1 500.2 700.0 503.6 700.0 507.5C700.0 511.4 697.1 516.0 692.5 518.8C687.9 521.5 681.4 521.1 675.0 522.5C668.6 523.9 663.9 526.7 657.5 526.2C651.1 525.8 646.4 520.9 640.0 520.0C633.6 519.1 628.0 519.9 622.5 521.2C617.0 522.6 614.6 525.7 610.0 527.5C605.4 529.3 602.1 531.7 597.5 531.2C592.9 530.8 588.2 528.2 585.0 525.0C581.8 521.8 580.7 518.8 580.0 513.8Z" stroke="#111" stroke-width="1.4" fill="none" stroke-linejoin="round" />
<path d="M582.0 513.8C582.2 511.0 580.8 501.8 583.0 497.5C585.2 493.2 590.6 488.5 595.5 488.0C600.4 487.5 609.7 493.4 612.5 494.5M593.8 511.2C593.8 509.6 592.3 503.5 593.8 501.2C595.2 499.0 600.4 497.5 602.5 498.0C604.6 498.5 605.9 500.8 606.5 504.5C607.1 508.2 606.3 517.4 606.2 520.0" stroke="#d2a21e" stroke-width="2.1" fill="none" />
<path d="M606.2 521.5L655.0 528.0" stroke="#d2a21e" stroke-width="2.1" fill="none" stroke-linejoin="round" />
<circle cx="641.2" cy="510.5" r="5.3" fill="#cfcfcf" stroke="#111" stroke-width="1.5"/>
<circle cx="652.5" cy="514.0" r="5.3" fill="#cfcfcf" stroke="#111" stroke-width="1.5"/>
<circle cx="663.8" cy="519.0" r="5.3" fill="#cfcfcf" stroke="#111" stroke-width="1.5"/>
<circle cx="660.0" cy="506.5" r="5.3" fill="#cfcfcf" stroke="#111" stroke-width="1.5"/>
<circle cx="670.0" cy="499.0" r="5.3" fill="#cfcfcf" stroke="#111" stroke-width="1.5"/>
<circle cx="671.5" cy="510.0" r="5.3" fill="#cfcfcf" stroke="#111" stroke-width="1.5"/>
<circle cx="680.0" cy="502.5" r="5.3" fill="#cfcfcf" stroke="#111" stroke-width="1.5"/>
<circle cx="683.0" cy="514.0" r="5.3" fill="#cfcfcf" stroke="#111" stroke-width="1.5"/>
<circle cx="693.0" cy="507.5" r="5.3" fill="#cfcfcf" stroke="#111" stroke-width="1.5"/>
<circle cx="676.2" cy="519.0" r="5.3" fill="#cfcfcf" stroke="#111" stroke-width="1.5"/>
<path d="M612.5 497.5C614.6 499.0 620.4 504.4 625.0 506.2C629.6 508.1 634.2 509.4 640.0 508.8C645.8 508.1 653.3 504.8 660.0 502.5C666.7 500.2 676.7 496.2 680.0 495.0M612.5 508.8C614.6 510.0 620.4 514.5 625.0 516.2C629.6 518.0 633.3 518.4 640.0 519.0C646.7 519.6 656.7 520.3 665.0 520.0C673.3 519.7 685.8 517.5 690.0 517.0" stroke="#e01818" stroke-width="1.9" fill="none" />
<path d="M612.5 497.5L612.5 508.8" stroke="#e01818" stroke-width="1.9" fill="none" stroke-linejoin="round" />
<path d="M660.0 502.5L665.0 520.0" stroke="#e01818" stroke-width="1.9" fill="none" stroke-linejoin="round" />
<path d="M670.0 499.0L683.0 514.0L690.0 517.0L693.0 507.5L680.0 495.0" stroke="#e01818" stroke-width="1.9" fill="none" stroke-linejoin="round" />
<circle cx="585.0" cy="511.2" r="4.8" fill="#d9a441" stroke="#111" stroke-width="1.2"/>
<circle cx="585.0" cy="511.2" r="2.6" fill="#3a2a10" stroke="none" stroke-width="0"/>
<circle cx="585.0" cy="510.5" r="1.1" fill="#d9a441" stroke="none" stroke-width="0"/>
<circle cx="577.5" cy="516.2" r="4.8" fill="#d9a441" stroke="#111" stroke-width="1.2"/>
<circle cx="577.5" cy="516.2" r="2.6" fill="#3a2a10" stroke="none" stroke-width="0"/>
<circle cx="577.5" cy="515.5" r="1.1" fill="#d9a441" stroke="none" stroke-width="0"/>
<circle cx="586.2" cy="520.0" r="4.8" fill="#d9a441" stroke="#111" stroke-width="1.2"/>
<circle cx="586.2" cy="520.0" r="2.6" fill="#3a2a10" stroke="none" stroke-width="0"/>
<circle cx="586.2" cy="519.3" r="1.1" fill="#d9a441" stroke="none" stroke-width="0"/>
<circle cx="573.8" cy="525.5" r="4.8" fill="#d9a441" stroke="#111" stroke-width="1.2"/>
<circle cx="573.8" cy="525.5" r="2.6" fill="#3a2a10" stroke="none" stroke-width="0"/>
<circle cx="573.8" cy="524.8" r="1.1" fill="#d9a441" stroke="none" stroke-width="0"/>
<circle cx="582.5" cy="527.0" r="4.8" fill="#d9a441" stroke="#111" stroke-width="1.2"/>
<circle cx="582.5" cy="527.0" r="2.6" fill="#3a2a10" stroke="none" stroke-width="0"/>
<circle cx="582.5" cy="526.3" r="1.1" fill="#d9a441" stroke="none" stroke-width="0"/>
<circle cx="591.2" cy="525.5" r="4.8" fill="#d9a441" stroke="#111" stroke-width="1.2"/>
<circle cx="591.2" cy="525.5" r="2.6" fill="#3a2a10" stroke="none" stroke-width="0"/>
<circle cx="591.2" cy="524.8" r="1.1" fill="#d9a441" stroke="none" stroke-width="0"/>
<circle cx="575.0" cy="535.0" r="4.8" fill="#d9a441" stroke="#111" stroke-width="1.2"/>
<circle cx="575.0" cy="535.0" r="2.6" fill="#3a2a10" stroke="none" stroke-width="0"/>
<circle cx="575.0" cy="534.3" r="1.1" fill="#d9a441" stroke="none" stroke-width="0"/>
<circle cx="583.8" cy="535.0" r="4.8" fill="#d9a441" stroke="#111" stroke-width="1.2"/>
<circle cx="583.8" cy="535.0" r="2.6" fill="#3a2a10" stroke="none" stroke-width="0"/>
<circle cx="583.8" cy="534.3" r="1.1" fill="#d9a441" stroke="none" stroke-width="0"/>
<circle cx="592.0" cy="533.8" r="4.8" fill="#d9a441" stroke="#111" stroke-width="1.2"/>
<circle cx="592.0" cy="533.8" r="2.6" fill="#3a2a10" stroke="none" stroke-width="0"/>
<circle cx="592.0" cy="533.0" r="1.1" fill="#d9a441" stroke="none" stroke-width="0"/>
<circle cx="577.5" cy="542.5" r="4.8" fill="#d9a441" stroke="#111" stroke-width="1.2"/>
<circle cx="577.5" cy="542.5" r="2.6" fill="#3a2a10" stroke="none" stroke-width="0"/>
<circle cx="577.5" cy="541.8" r="1.1" fill="#d9a441" stroke="none" stroke-width="0"/>
<circle cx="586.2" cy="542.5" r="4.8" fill="#d9a441" stroke="#111" stroke-width="1.2"/>
<circle cx="586.2" cy="542.5" r="2.6" fill="#3a2a10" stroke="none" stroke-width="0"/>
<circle cx="586.2" cy="541.8" r="1.1" fill="#d9a441" stroke="none" stroke-width="0"/>
<path d="M583.8 510.0L584.5 546.2" stroke="#d2a21e" stroke-width="2.1" fill="none" stroke-linejoin="round" />
<path d="M520.0 507.5L540.0 511.2L603.8 522.0L660.0 536.2L720.0 558.8" stroke="#1a8fa8" stroke-width="0.8" fill="none" />
<path d="M520.0 507.5L540.0 511.2L603.8 522.0L660.0 536.2L720.0 558.8" stroke="#1a8fa8" stroke-width="3" fill="none" stroke-dasharray="4 3 4 11"/>
<path d="M607.0 522.5L619.5 519.5L619.5 513.0" stroke="#22cc22" stroke-width="1.3" fill="none" stroke-linejoin="round" />
<circle cx="618.8" cy="511.8" r="3.6" fill="#fff" stroke="#1414e6" stroke-width="1.6"/>
<circle cx="618.8" cy="511.8" r="1.6" fill="#9ab4ff" stroke="#1414e6" stroke-width="0.8"/>
<circle cx="603.8" cy="522.0" r="3.6" fill="#fff" stroke="#1414e6" stroke-width="1.6"/>
<circle cx="603.8" cy="522.0" r="1.6" fill="#9ab4ff" stroke="#1414e6" stroke-width="0.8"/>
<path d="M671.2 573.0C671.2 570.5 674.7 567.8 680.0 566.2C685.3 564.7 691.8 564.5 700.0 564.5C708.2 564.5 720.4 559.7 725.0 566.2C729.6 572.8 729.6 595.6 725.0 600.0C720.4 604.4 708.2 593.7 700.0 590.0C691.8 586.3 685.3 583.1 680.0 580.0C674.7 576.9 671.2 575.5 671.2 573.0Z" stroke="#111" stroke-width="1.4" fill="none" stroke-linejoin="round" />
<path d="M680.0 577.5 L715.0 595.0 M684.9 567.7 L719.9 585.2M680.0 577.5 L684.9 567.7M691.7 583.3 L696.6 573.5M703.3 589.2 L708.3 579.3M715.0 595.0 L719.9 585.2" stroke="#e01818" stroke-width="1.9" fill="none" />
<path d="M685.0 570.0L700.0 567.0L715.0 567.5L700.0 580.0" stroke="#e01818" stroke-width="1.9" fill="none" stroke-linejoin="round" />
<path d="M705.0 566.2L712.5 571.2L705.0 572.5Z" stroke="none" stroke-width="1.2" fill="#111" stroke-linejoin="round" />
<circle cx="710.8" cy="580.0" r="3.6" fill="#fff" stroke="#1414e6" stroke-width="1.6"/>
<circle cx="710.8" cy="580.0" r="1.6" fill="#9ab4ff" stroke="#1414e6" stroke-width="0.8"/>
<circle cx="719.5" cy="584.2" r="3.6" fill="#fff" stroke="#ee5500" stroke-width="1.4"/>
<circle cx="719.5" cy="584.2" r="1.6" fill="#f4a0a0" stroke="#ee5500" stroke-width="0.8"/>
<path d="M397.9 789.2L397.3 792.1L407.2 796.4L406.2 798.5L399.4 799.0L398.9 803.5L405.8 808.0L405.1 809.4L403.0 813.3L403.9 814.6L402.4 818.5L401.0 821.2L395.3 822.5L394.2 823.3L397.8 832.4L395.6 833.3L387.9 830.0L384.6 830.3L384.9 834.0L381.7 836.1L376.7 834.3L374.5 835.6L369.4 834.6L367.4 835.1L365.4 839.1L364.1 840.4L357.6 833.9L356.5 834.9L353.6 837.8L350.3 838.4L347.3 846.5L346.2 847.4L341.3 841.5L337.8 841.2L335.5 846.3L331.8 845.7L328.5 840.5L328.1 840.7L324.3 836.7L323.2 835.4L320.1 834.4L319.7 831.6L316.9 828.2L316.6 827.0L309.7 826.8L309.2 825.2L304.1 824.2L303.7 823.5L305.5 818.3L303.0 815.4L298.3 817.5L296.6 814.6L300.5 808.3L299.8 808.0L288.8 806.0L287.3 803.6L288.1 800.9L287.2 799.9L290.0 794.5L288.6 793.3L281.6 789.6L281.2 786.7L283.0 784.5L284.7 779.5L293.6 778.3L295.2 778.3L289.5 771.3L289.7 771.0L300.0 770.4L302.0 767.6L304.3 765.9L306.0 764.2L307.5 762.4L308.7 760.9L305.1 754.3L307.3 751.5L309.0 750.6L310.3 749.7L314.9 746.9L315.0 745.6L319.3 744.6L322.8 743.1L321.9 736.5L325.1 733.4L329.2 737.4L330.6 735.3L337.0 738.0L338.9 739.0L339.8 731.2L343.7 731.8L347.8 738.8L350.0 739.8L353.2 735.8L356.9 736.3L360.2 740.2L361.5 742.3L365.5 742.7L366.6 743.1L368.9 746.5L372.9 748.1L376.8 745.2L380.1 747.1L381.1 747.7L385.1 749.5L387.3 748.8L391.4 750.0L393.5 751.1L398.2 754.2L396.6 757.5L398.2 759.8L403.0 760.8L404.5 762.8L404.3 766.6L403.6 769.2L409.1 772.9L409.0 776.5L399.3 780.1L399.3 783.7L406.2 783.4L405.7 787.7Z" stroke="#111" stroke-width="1.0" fill="none" stroke-linejoin="round"/>
<path d="M257.5 748.8 L405.0 706.2C406.3 706.5 411.2 706.1 413.0 707.5C414.8 708.9 415.8 712.1 415.5 714.5C415.2 716.9 413.0 720.3 411.2 722.0C409.5 723.7 406.0 724.1 405.0 724.5L365.0 727.0C361.7 727.9 351.2 730.0 345.0 732.5C338.8 735.0 333.8 738.2 327.5 742.0C321.2 745.8 313.3 751.5 307.5 755.5C301.7 759.5 296.7 763.6 292.5 766.2C288.3 768.9 286.7 770.1 282.5 771.2C278.3 772.4 271.9 774.0 267.5 773.0C263.1 772.0 258.7 768.0 256.2 765.0C253.8 762.0 252.8 757.7 253.0 755.0C253.2 752.3 256.8 749.8 257.5 748.8Z" stroke="#111" stroke-width="1.7" fill="none" />
<path d="M258.8 752.0L405.0 709.5" stroke="#e01818" stroke-width="2.6" fill="none" stroke-linejoin="round" stroke-dasharray="4 1"/>
<path d="M262.5 758.8L307.5 745.8L310.5 750.5L301.2 756.2" stroke="#e01818" stroke-width="1.9" fill="none" stroke-linejoin="round" />
<path d="M385.0 714.5L403.8 709.2L405.5 718.8L386.5 723.0Z" stroke="#e01818" stroke-width="1.9" fill="none" stroke-linejoin="round" />
<path d="M405.5 718.8L412.0 717.0" stroke="#e01818" stroke-width="1.9" fill="none" stroke-linejoin="round" />
<path d="M363.8 718.0L365.0 726.8" stroke="#111" stroke-width="1.4" fill="none" stroke-linejoin="round" />
<circle cx="257.0" cy="755.0" r="4.2" fill="#e316d3" stroke="#3a0050" stroke-width="1.3"/>
<circle cx="257.0" cy="755.0" r="1.7" fill="#ff7af0" stroke="#8a0080" stroke-width="0.6"/>
<circle cx="263.8" cy="754.0" r="4.2" fill="#e316d3" stroke="#3a0050" stroke-width="1.3"/>
<circle cx="263.8" cy="754.0" r="1.7" fill="#ff7af0" stroke="#8a0080" stroke-width="0.6"/>
<circle cx="258.0" cy="762.0" r="4.2" fill="#e316d3" stroke="#3a0050" stroke-width="1.3"/>
<circle cx="258.0" cy="762.0" r="1.7" fill="#ff7af0" stroke="#8a0080" stroke-width="0.6"/>
<circle cx="265.5" cy="761.0" r="4.2" fill="#e316d3" stroke="#3a0050" stroke-width="1.3"/>
<circle cx="265.5" cy="761.0" r="1.7" fill="#ff7af0" stroke="#8a0080" stroke-width="0.6"/>
<circle cx="260.5" cy="768.0" r="4.2" fill="#e316d3" stroke="#3a0050" stroke-width="1.3"/>
<circle cx="260.5" cy="768.0" r="1.7" fill="#ff7af0" stroke="#8a0080" stroke-width="0.6"/>
<circle cx="268.0" cy="767.5" r="4.2" fill="#e316d3" stroke="#3a0050" stroke-width="1.3"/>
<circle cx="268.0" cy="767.5" r="1.7" fill="#ff7af0" stroke="#8a0080" stroke-width="0.6"/>
<circle cx="275.0" cy="763.0" r="4.2" fill="#e316d3" stroke="#3a0050" stroke-width="1.3"/>
<circle cx="275.0" cy="763.0" r="1.7" fill="#ff7af0" stroke="#8a0080" stroke-width="0.6"/>
<circle cx="282.5" cy="762.0" r="4.2" fill="#e316d3" stroke="#3a0050" stroke-width="1.3"/>
<circle cx="282.5" cy="762.0" r="1.7" fill="#ff7af0" stroke="#8a0080" stroke-width="0.6"/>
<circle cx="272.5" cy="770.0" r="4.2" fill="#e316d3" stroke="#3a0050" stroke-width="1.3"/>
<circle cx="272.5" cy="770.0" r="1.7" fill="#ff7af0" stroke="#8a0080" stroke-width="0.6"/>
<circle cx="280.0" cy="769.5" r="4.2" fill="#e316d3" stroke="#3a0050" stroke-width="1.3"/>
<circle cx="280.0" cy="769.5" r="1.7" fill="#ff7af0" stroke="#8a0080" stroke-width="0.6"/>
<circle cx="288.0" cy="768.0" r="4.2" fill="#e316d3" stroke="#3a0050" stroke-width="1.3"/>
<circle cx="288.0" cy="768.0" r="1.7" fill="#ff7af0" stroke="#8a0080" stroke-width="0.6"/>
<path d="M325.0 735.0L350.0 731.5L375.0 728.0L395.0 723.0L425.0 720.0" stroke="#2fdc2f" stroke-width="0.8" fill="none" />
<path d="M325.0 735.0L350.0 731.5L375.0 728.0L395.0 723.0L425.0 720.0" stroke="#2fdc2f" stroke-width="2.4" fill="none" stroke-dasharray="6 4"/>
<circle cx="325.0" cy="735.0" r="3.6" fill="#fff" stroke="#1414e6" stroke-width="1.6"/>
<circle cx="325.0" cy="735.0" r="1.6" fill="#9ab4ff" stroke="#1414e6" stroke-width="0.8"/>
<circle cx="394.2" cy="721.5" r="3.6" fill="#fff" stroke="#1414e6" stroke-width="1.6"/>
<circle cx="394.2" cy="721.5" r="1.6" fill="#9ab4ff" stroke="#1414e6" stroke-width="0.8"/>
<path d="M254.5 838.8C253.9 836.7 252.7 833.4 255.5 830.0C258.3 826.6 263.7 824.1 270.0 820.0C276.3 815.9 281.8 811.2 290.0 807.5C298.2 803.8 307.2 803.0 315.0 800.0C322.8 797.0 324.7 795.1 332.5 791.2C340.3 787.4 348.8 780.6 357.5 778.8C366.2 776.9 374.3 779.9 380.0 781.2C385.7 782.6 387.4 784.2 388.8 786.2C390.1 788.3 391.9 790.0 387.5 792.5C383.1 795.0 374.6 796.3 365.0 800.0C355.4 803.7 347.4 807.7 335.0 812.5C322.6 817.3 309.4 821.7 297.5 826.2C285.6 830.8 277.1 834.8 270.0 837.5C262.9 840.2 261.6 841.0 258.8 841.2C255.9 841.5 255.1 840.8 254.5 838.8Z" stroke="#111" stroke-width="1.5" fill="none" stroke-linejoin="round" />
<path d="M257.5 839.5L255.0 833.0L280.0 820.0L293.8 825.0L296.2 826.2" stroke="#e01818" stroke-width="1.9" fill="none" stroke-linejoin="round" />
<path d="M280.0 820.0L279.5 807.5L293.8 802.0L293.8 825.0" stroke="#e01818" stroke-width="1.9" fill="none" stroke-linejoin="round" />
<path d="M265.0 827.0L267.5 836.2" stroke="#e01818" stroke-width="1.9" fill="none" stroke-linejoin="round" />
<path d="M257.5 839.5L296.2 826.2" stroke="#e01818" stroke-width="1.9" fill="none" stroke-linejoin="round" />
<path d="M300.0 810.5L386.2 787.0L388.8 792.5L296.2 826.2Z" stroke="#d2a21e" stroke-width="2.1" fill="none" stroke-linejoin="round" />
<circle cx="335.4" cy="798.4" r="3.1" fill="#1a1a1a" stroke="#000" stroke-width="1.3"/>
<circle cx="335.4" cy="798.4" r="1.4" fill="#555" stroke="none" stroke-width="0"/>
<circle cx="341.1" cy="796.6" r="3.1" fill="#1a1a1a" stroke="#000" stroke-width="1.3"/>
<circle cx="341.1" cy="796.6" r="1.4" fill="#555" stroke="none" stroke-width="0"/>
<circle cx="346.8" cy="794.8" r="3.1" fill="#1a1a1a" stroke="#000" stroke-width="1.3"/>
<circle cx="346.8" cy="794.8" r="1.4" fill="#555" stroke="none" stroke-width="0"/>
<circle cx="352.5" cy="793.1" r="3.1" fill="#1a1a1a" stroke="#000" stroke-width="1.3"/>
<circle cx="352.5" cy="793.1" r="1.4" fill="#555" stroke="none" stroke-width="0"/>
<circle cx="358.2" cy="791.3" r="3.1" fill="#1a1a1a" stroke="#000" stroke-width="1.3"/>
<circle cx="358.2" cy="791.3" r="1.4" fill="#555" stroke="none" stroke-width="0"/>
<circle cx="363.9" cy="789.5" r="3.1" fill="#1a1a1a" stroke="#000" stroke-width="1.3"/>
<circle cx="363.9" cy="789.5" r="1.4" fill="#555" stroke="none" stroke-width="0"/>
<circle cx="369.6" cy="787.7" r="3.1" fill="#1a1a1a" stroke="#000" stroke-width="1.3"/>
<circle cx="369.6" cy="787.7" r="1.4" fill="#555" stroke="none" stroke-width="0"/>
<circle cx="375.4" cy="785.9" r="3.1" fill="#1a1a1a" stroke="#000" stroke-width="1.3"/>
<circle cx="375.4" cy="785.9" r="1.4" fill="#555" stroke="none" stroke-width="0"/>
<circle cx="340.0" cy="803.2" r="3.1" fill="#1a1a1a" stroke="#000" stroke-width="1.3"/>
<circle cx="340.0" cy="803.2" r="1.4" fill="#555" stroke="none" stroke-width="0"/>
<circle cx="345.7" cy="801.4" r="3.1" fill="#1a1a1a" stroke="#000" stroke-width="1.3"/>
<circle cx="345.7" cy="801.4" r="1.4" fill="#555" stroke="none" stroke-width="0"/>
<circle cx="351.4" cy="799.6" r="3.1" fill="#1a1a1a" stroke="#000" stroke-width="1.3"/>
<circle cx="351.4" cy="799.6" r="1.4" fill="#555" stroke="none" stroke-width="0"/>
<circle cx="357.1" cy="797.8" r="3.1" fill="#1a1a1a" stroke="#000" stroke-width="1.3"/>
<circle cx="357.1" cy="797.8" r="1.4" fill="#555" stroke="none" stroke-width="0"/>
<circle cx="362.9" cy="796.1" r="3.1" fill="#1a1a1a" stroke="#000" stroke-width="1.3"/>
<circle cx="362.9" cy="796.1" r="1.4" fill="#555" stroke="none" stroke-width="0"/>
<circle cx="368.6" cy="794.3" r="3.1" fill="#1a1a1a" stroke="#000" stroke-width="1.3"/>
<circle cx="368.6" cy="794.3" r="1.4" fill="#555" stroke="none" stroke-width="0"/>
<circle cx="374.3" cy="792.5" r="3.1" fill="#1a1a1a" stroke="#000" stroke-width="1.3"/>
<circle cx="374.3" cy="792.5" r="1.4" fill="#555" stroke="none" stroke-width="0"/>
<circle cx="340.0" cy="788.8" r="2.9" fill="#1a1a1a" stroke="#000" stroke-width="1.3"/>
<circle cx="340.0" cy="788.8" r="1.3" fill="#555" stroke="none" stroke-width="0"/>
<circle cx="347.5" cy="786.9" r="2.9" fill="#1a1a1a" stroke="#000" stroke-width="1.3"/>
<circle cx="347.5" cy="786.9" r="1.3" fill="#555" stroke="none" stroke-width="0"/>
<circle cx="355.0" cy="785.0" r="2.9" fill="#1a1a1a" stroke="#000" stroke-width="1.3"/>
<circle cx="355.0" cy="785.0" r="1.3" fill="#555" stroke="none" stroke-width="0"/>
<circle cx="362.5" cy="783.1" r="2.9" fill="#1a1a1a" stroke="#000" stroke-width="1.3"/>
<circle cx="362.5" cy="783.1" r="1.3" fill="#555" stroke="none" stroke-width="0"/>
<circle cx="370.0" cy="781.2" r="2.9" fill="#1a1a1a" stroke="#000" stroke-width="1.3"/>
<circle cx="370.0" cy="781.2" r="1.3" fill="#555" stroke="none" stroke-width="0"/>
<path d="M337.5 793.0L357.5 787.0L356.2 782.0" stroke="#d2a21e" stroke-width="2.1" fill="none" stroke-linejoin="round" />
<path d="M293.2 808.2L312.5 803.8L331.8 800.0L380.5 786.2" stroke="#2fdc2f" stroke-width="0.8" fill="none" />
<path d="M293.2 808.2L312.5 803.8L331.8 800.0L380.5 786.2" stroke="#2fdc2f" stroke-width="2.4" fill="none" stroke-dasharray="6 4"/>
<circle cx="293.2" cy="808.2" r="3.6" fill="#fff" stroke="#1414e6" stroke-width="1.6"/>
<circle cx="293.2" cy="808.2" r="1.6" fill="#9ab4ff" stroke="#1414e6" stroke-width="0.8"/>
<circle cx="331.8" cy="798.0" r="3.6" fill="#fff" stroke="#e04010" stroke-width="1.4"/>
<circle cx="331.8" cy="798.0" r="1.6" fill="#f4a0a0" stroke="#e04010" stroke-width="0.8"/>
<circle cx="380.5" cy="784.5" r="3.6" fill="#fff" stroke="#1414e6" stroke-width="1.6"/>
<circle cx="380.5" cy="784.5" r="1.6" fill="#9ab4ff" stroke="#1414e6" stroke-width="0.8"/>
<path d="M390.0 722.5L396.2 772.5L406.2 830.0L412.5 856.2" stroke="#ea3be6" stroke-width="2.6" fill="none" stroke-dasharray="7 3 2 3"/>
<text transform="translate(470 789) rotate(4)" font-size="27" fill="#d4d4d4">6.23%</text>
<path d="M528.8 782.9L529.6 784.6L536.2 788.0L535.8 789.3L528.4 792.1L527.0 793.7L522.8 796.0L522.3 798.5L524.7 802.5L523.0 803.3L521.1 805.5L518.7 806.5L512.8 807.1L511.1 808.7L515.1 813.3L514.5 814.9L510.0 814.4L508.2 815.9L507.7 819.3L505.6 820.0L503.7 821.6L500.6 825.2L498.7 825.5L496.8 826.9L493.2 827.4L491.9 828.0L491.9 834.1L487.7 837.7L483.9 831.5L482.0 830.0L479.2 828.7L476.5 828.2L474.0 827.4L472.6 826.9L469.6 829.6L467.0 827.1L466.2 826.3L463.8 825.3L462.8 822.7L460.8 822.1L455.1 826.8L453.3 826.0L451.4 824.4L448.2 824.0L448.1 820.0L446.3 819.2L441.5 821.5L437.8 821.1L433.4 819.7L433.0 818.4L435.2 811.5L432.5 811.1L431.7 809.2L430.9 805.6L425.3 805.7L423.8 802.4L427.3 800.0L427.2 795.8L423.2 796.1L423.8 792.1L430.4 789.6L430.3 787.0L432.9 784.2L432.6 782.2L431.5 778.9L431.7 776.8L432.7 774.9L433.3 773.6L427.9 771.2L428.7 767.8L431.2 765.7L432.3 763.7L430.5 760.5L431.5 758.3L431.0 756.3L432.4 752.6L429.6 749.7L431.9 745.8L432.6 744.7L436.7 742.7L442.7 746.1L445.2 744.6L448.0 745.1L449.8 744.8L449.6 735.4L451.8 734.5L457.0 742.8L458.9 741.9L460.9 741.2L464.7 739.2L465.5 737.9L467.6 737.7L469.3 735.2L471.5 734.2L473.6 734.9L477.9 735.5L480.2 738.4L481.1 737.3L483.7 737.3L487.9 736.6L492.8 728.7L495.9 728.6L497.6 727.3L501.5 728.1L501.9 735.2L502.3 736.5L503.8 741.0L505.0 742.8L505.5 745.6L507.0 748.2L509.0 749.9L509.5 752.4L512.0 753.1L513.9 755.4L517.1 755.1L517.8 756.0L518.8 760.5L519.8 762.5L520.3 764.5L521.6 766.0L518.7 770.2L519.4 770.5L522.0 773.8L524.4 775.3L527.9 777.0L527.9 780.0Z" stroke="#111" stroke-width="1.0" fill="none" stroke-linejoin="round"/>
<path d="M423.8 713.8C423.5 711.0 416.9 708.3 426.2 707.5C435.6 706.7 450.5 708.1 475.0 709.5C499.5 710.9 543.1 713.2 560.0 715.0C576.9 716.8 566.5 717.3 567.0 719.5C567.5 721.7 566.8 725.0 562.5 727.0C558.2 729.0 549.5 727.9 543.8 730.5C538.0 733.1 536.1 739.5 531.2 741.2C526.4 743.0 522.3 741.1 517.5 740.0C512.7 738.9 512.8 736.8 505.0 735.0C497.2 733.2 486.9 731.4 475.0 730.0C463.1 728.6 448.7 728.9 440.0 727.5C431.3 726.1 430.5 725.0 427.5 722.5C424.5 720.0 424.0 716.5 423.8 713.8Z" stroke="#111" stroke-width="1.5" fill="none" stroke-linejoin="round" />
<path d="M431.2 710.0L522.5 714.0L522.5 722.5L431.2 719.5Z" stroke="#d2a21e" stroke-width="2.1" fill="none" stroke-linejoin="round" />
<circle cx="436.3" cy="712.5" r="3.1" fill="#1a1a1a" stroke="#000" stroke-width="1.3"/>
<circle cx="436.3" cy="712.5" r="1.4" fill="#555" stroke="none" stroke-width="0"/>
<circle cx="441.9" cy="712.6" r="3.1" fill="#1a1a1a" stroke="#000" stroke-width="1.3"/>
<circle cx="441.9" cy="712.6" r="1.4" fill="#555" stroke="none" stroke-width="0"/>
<circle cx="447.6" cy="712.8" r="3.1" fill="#1a1a1a" stroke="#000" stroke-width="1.3"/>
<circle cx="447.6" cy="712.8" r="1.4" fill="#555" stroke="none" stroke-width="0"/>
<circle cx="453.2" cy="712.9" r="3.1" fill="#1a1a1a" stroke="#000" stroke-width="1.3"/>
<circle cx="453.2" cy="712.9" r="1.4" fill="#555" stroke="none" stroke-width="0"/>
<circle cx="458.8" cy="713.1" r="3.1" fill="#1a1a1a" stroke="#000" stroke-width="1.3"/>
<circle cx="458.8" cy="713.1" r="1.4" fill="#555" stroke="none" stroke-width="0"/>
<circle cx="464.4" cy="713.2" r="3.1" fill="#1a1a1a" stroke="#000" stroke-width="1.3"/>
<circle cx="464.4" cy="713.2" r="1.4" fill="#555" stroke="none" stroke-width="0"/>
<circle cx="470.1" cy="713.4" r="3.1" fill="#1a1a1a" stroke="#000" stroke-width="1.3"/>
<circle cx="470.1" cy="713.4" r="1.4" fill="#555" stroke="none" stroke-width="0"/>
<circle cx="475.7" cy="713.5" r="3.1" fill="#1a1a1a" stroke="#000" stroke-width="1.3"/>
<circle cx="475.7" cy="713.5" r="1.4" fill="#555" stroke="none" stroke-width="0"/>
<circle cx="481.3" cy="713.7" r="3.1" fill="#1a1a1a" stroke="#000" stroke-width="1.3"/>
<circle cx="481.3" cy="713.7" r="1.4" fill="#555" stroke="none" stroke-width="0"/>
<circle cx="439.0" cy="717.6" r="3.1" fill="#1a1a1a" stroke="#000" stroke-width="1.3"/>
<circle cx="439.0" cy="717.6" r="1.4" fill="#555" stroke="none" stroke-width="0"/>
<circle cx="444.6" cy="717.8" r="3.1" fill="#1a1a1a" stroke="#000" stroke-width="1.3"/>
<circle cx="444.6" cy="717.8" r="1.4" fill="#555" stroke="none" stroke-width="0"/>
<circle cx="450.2" cy="717.9" r="3.1" fill="#1a1a1a" stroke="#000" stroke-width="1.3"/>
<circle cx="450.2" cy="717.9" r="1.4" fill="#555" stroke="none" stroke-width="0"/>
<circle cx="455.9" cy="718.1" r="3.1" fill="#1a1a1a" stroke="#000" stroke-width="1.3"/>
<circle cx="455.9" cy="718.1" r="1.4" fill="#555" stroke="none" stroke-width="0"/>
<circle cx="461.5" cy="718.3" r="3.1" fill="#1a1a1a" stroke="#000" stroke-width="1.3"/>
<circle cx="461.5" cy="718.3" r="1.4" fill="#555" stroke="none" stroke-width="0"/>
<circle cx="467.1" cy="718.4" r="3.1" fill="#1a1a1a" stroke="#000" stroke-width="1.3"/>
<circle cx="467.1" cy="718.4" r="1.4" fill="#555" stroke="none" stroke-width="0"/>
<circle cx="472.7" cy="718.6" r="3.1" fill="#1a1a1a" stroke="#000" stroke-width="1.3"/>
<circle cx="472.7" cy="718.6" r="1.4" fill="#555" stroke="none" stroke-width="0"/>
<circle cx="478.4" cy="718.7" r="3.1" fill="#1a1a1a" stroke="#000" stroke-width="1.3"/>
<circle cx="478.4" cy="718.7" r="1.4" fill="#555" stroke="none" stroke-width="0"/>
<circle cx="441.2" cy="727.0" r="2.7" fill="#1a1a1a" stroke="#000" stroke-width="1.3"/>
<circle cx="441.2" cy="727.0" r="1.2" fill="#555" stroke="none" stroke-width="0"/>
<circle cx="447.8" cy="727.2" r="2.7" fill="#1a1a1a" stroke="#000" stroke-width="1.3"/>
<circle cx="447.8" cy="727.2" r="1.2" fill="#555" stroke="none" stroke-width="0"/>
<circle cx="454.2" cy="727.4" r="2.7" fill="#1a1a1a" stroke="#000" stroke-width="1.3"/>
<circle cx="454.2" cy="727.4" r="1.2" fill="#555" stroke="none" stroke-width="0"/>
<circle cx="460.8" cy="727.6" r="2.7" fill="#1a1a1a" stroke="#000" stroke-width="1.3"/>
<circle cx="460.8" cy="727.6" r="1.2" fill="#555" stroke="none" stroke-width="0"/>
<circle cx="467.2" cy="727.8" r="2.7" fill="#1a1a1a" stroke="#000" stroke-width="1.3"/>
<circle cx="467.2" cy="727.8" r="1.2" fill="#555" stroke="none" stroke-width="0"/>
<circle cx="473.8" cy="728.0" r="2.7" fill="#1a1a1a" stroke="#000" stroke-width="1.3"/>
<circle cx="473.8" cy="728.0" r="1.2" fill="#555" stroke="none" stroke-width="0"/>
<path d="M525.0 715.0L565.0 716.5L562.5 727.5L525.0 726.2Z" stroke="#e01818" stroke-width="1.9" fill="none" stroke-linejoin="round" />
<path d="M552.5 716.0L552.0 727.0" stroke="#e01818" stroke-width="1.9" fill="none" stroke-linejoin="round" />
<path d="M507.5 736.2L537.5 732.0" stroke="#e01818" stroke-width="1.9" fill="none" stroke-linejoin="round" />
<path d="M400.0 722.5L452.0 723.2L519.2 727.0" stroke="#2fdc2f" stroke-width="0.8" fill="none" />
<path d="M400.0 722.5L452.0 723.2L519.2 727.0" stroke="#2fdc2f" stroke-width="2.4" fill="none" stroke-dasharray="6 4"/>
<circle cx="452.0" cy="723.2" r="3.6" fill="#fff" stroke="#1414e6" stroke-width="1.6"/>
<circle cx="452.0" cy="723.2" r="1.6" fill="#9ab4ff" stroke="#1414e6" stroke-width="0.8"/>
<circle cx="519.2" cy="727.0" r="3.6" fill="#fff" stroke="#1414e6" stroke-width="1.6"/>
<circle cx="519.2" cy="727.0" r="1.6" fill="#9ab4ff" stroke="#1414e6" stroke-width="0.8"/>
<path d="M402.0 782.5C401.1 778.6 402.6 775.5 405.0 772.5C407.4 769.5 409.5 766.7 415.0 766.2C420.5 765.8 424.0 768.2 435.0 770.0C446.0 771.8 458.7 774.8 475.0 776.2C491.3 777.7 513.9 776.4 523.8 778.0C533.6 779.6 528.5 782.3 528.8 785.0C529.0 787.7 534.9 791.0 525.0 792.5C515.1 794.0 492.0 792.3 475.0 793.0C458.0 793.7 444.4 796.1 432.5 796.2C420.6 796.4 415.6 796.3 410.0 793.8C404.4 791.2 402.9 786.4 402.0 782.5Z" stroke="#111" stroke-width="1.5" fill="none" stroke-linejoin="round" />
<path d="M453.8 778.0L524.5 780.0L524.5 791.2L453.8 790.0Z" stroke="#d2a21e" stroke-width="2.1" fill="none" stroke-linejoin="round" />
<circle cx="405.2" cy="772.4" r="3.4" fill="#1a1a1a" stroke="#000" stroke-width="1.3"/>
<circle cx="405.2" cy="772.4" r="1.5" fill="#555" stroke="none" stroke-width="0"/>
<circle cx="412.0" cy="772.7" r="3.4" fill="#1a1a1a" stroke="#000" stroke-width="1.3"/>
<circle cx="412.0" cy="772.7" r="1.5" fill="#555" stroke="none" stroke-width="0"/>
<circle cx="418.9" cy="773.1" r="3.4" fill="#1a1a1a" stroke="#000" stroke-width="1.3"/>
<circle cx="418.9" cy="773.1" r="1.5" fill="#555" stroke="none" stroke-width="0"/>
<circle cx="425.8" cy="773.4" r="3.4" fill="#1a1a1a" stroke="#000" stroke-width="1.3"/>
<circle cx="425.8" cy="773.4" r="1.5" fill="#555" stroke="none" stroke-width="0"/>
<circle cx="432.7" cy="773.7" r="3.4" fill="#1a1a1a" stroke="#000" stroke-width="1.3"/>
<circle cx="432.7" cy="773.7" r="1.5" fill="#555" stroke="none" stroke-width="0"/>
<circle cx="408.3" cy="780.2" r="3.4" fill="#1a1a1a" stroke="#000" stroke-width="1.3"/>
<circle cx="408.3" cy="780.2" r="1.5" fill="#555" stroke="none" stroke-width="0"/>
<circle cx="415.1" cy="780.5" r="3.4" fill="#1a1a1a" stroke="#000" stroke-width="1.3"/>
<circle cx="415.1" cy="780.5" r="1.5" fill="#555" stroke="none" stroke-width="0"/>
<circle cx="422.0" cy="780.9" r="3.4" fill="#1a1a1a" stroke="#000" stroke-width="1.3"/>
<circle cx="422.0" cy="780.9" r="1.5" fill="#555" stroke="none" stroke-width="0"/>
<circle cx="428.9" cy="781.2" r="3.4" fill="#1a1a1a" stroke="#000" stroke-width="1.3"/>
<circle cx="428.9" cy="781.2" r="1.5" fill="#555" stroke="none" stroke-width="0"/>
<circle cx="407.5" cy="783.8" r="3.1" fill="#1a1a1a" stroke="#000" stroke-width="1.3"/>
<circle cx="407.5" cy="783.8" r="1.4" fill="#555" stroke="none" stroke-width="0"/>
<circle cx="415.0" cy="784.6" r="3.1" fill="#1a1a1a" stroke="#000" stroke-width="1.3"/>
<circle cx="415.0" cy="784.6" r="1.4" fill="#555" stroke="none" stroke-width="0"/>
<circle cx="422.5" cy="785.4" r="3.1" fill="#1a1a1a" stroke="#000" stroke-width="1.3"/>
<circle cx="422.5" cy="785.4" r="1.4" fill="#555" stroke="none" stroke-width="0"/>
<circle cx="430.0" cy="786.2" r="3.1" fill="#1a1a1a" stroke="#000" stroke-width="1.3"/>
<circle cx="430.0" cy="786.2" r="1.4" fill="#555" stroke="none" stroke-width="0"/>
<path d="M403.8 776.2L415.0 768.8L453.8 777.5L458.8 795.0L433.8 793.0L405.0 790.0" stroke="#e01818" stroke-width="1.9" fill="none" stroke-linejoin="round" />
<path d="M405.0 773.8L433.8 793.0" stroke="#e01818" stroke-width="1.9" fill="none" stroke-linejoin="round" />
<path d="M405.0 775.5L434.2 775.0L479.5 775.8" stroke="#2fdc2f" stroke-width="0.8" fill="none" />
<path d="M405.0 775.5L434.2 775.0L479.5 775.8" stroke="#2fdc2f" stroke-width="2.4" fill="none" stroke-dasharray="6 4"/>
<circle cx="434.2" cy="775.0" r="3.6" fill="#fff" stroke="#e06010" stroke-width="1.4"/>
<circle cx="434.2" cy="775.0" r="1.6" fill="#f4a0a0" stroke="#e06010" stroke-width="0.8"/>
<circle cx="442.0" cy="775.0" r="3.6" fill="#fff" stroke="#1414e6" stroke-width="1.6"/>
<circle cx="442.0" cy="775.0" r="1.6" fill="#9ab4ff" stroke="#1414e6" stroke-width="0.8"/>
<circle cx="452.5" cy="775.5" r="3.6" fill="#fff" stroke="#1414e6" stroke-width="1.6"/>
<circle cx="452.5" cy="775.5" r="1.6" fill="#9ab4ff" stroke="#1414e6" stroke-width="0.8"/>
<circle cx="479.5" cy="775.8" r="3.6" fill="#fff" stroke="#e04010" stroke-width="1.4"/>
<circle cx="479.5" cy="775.8" r="1.6" fill="#f4a0a0" stroke="#e04010" stroke-width="0.8"/>
<path d="M475.0 786.2L480.0 780.5L485.0 786.2Z" stroke="none" stroke-width="1.2" fill="#111" stroke-linejoin="round" />
<path d="M691.7 844.0L691.7 844.0C692.6 845.4 693.4 843.6 694.6 848.2C695.8 852.7 696.2 851.5 695.2 857.7C694.2 863.8 695.5 862.0 691.5 866.6C687.6 871.2 689.1 870.0 683.4 871.5C677.8 873.0 678.8 872.4 674.5 871.1C670.2 869.9 671.9 868.9 670.6 867.8L668.0 867.2C667.4 867.9 668.6 866.4 666.3 869.3C664.0 872.2 665.4 872.3 661.0 876.0C656.6 879.7 658.7 879.6 653.2 880.3C647.7 881.0 649.5 880.5 644.6 878.1C639.8 875.6 641.1 875.2 638.6 873.1C636.1 870.9 637.6 872.0 637.1 871.5L636.4 866.1C634.7 869.3 636.1 871.8 631.3 875.5C626.6 879.3 628.3 877.6 622.2 877.4C616.1 877.1 618.2 878.0 613.1 874.9C607.9 871.7 609.2 873.2 606.7 868.0C604.2 862.7 603.8 864.6 605.6 859.1C607.4 853.6 610.0 854.0 612.2 851.5L608.3 852.0C607.4 851.7 609.6 852.4 605.5 851.0C601.4 849.6 600.5 851.5 596.0 847.9C591.5 844.2 593.5 845.6 592.1 840.0C590.7 834.5 590.5 836.5 591.8 831.3C593.1 826.0 593.8 827.1 596.1 824.3C598.4 821.4 597.9 823.1 598.8 822.6L598.0 820.5C598.2 819.7 599.9 821.7 598.4 818.1C597.0 814.5 594.5 815.3 593.6 809.8C592.7 804.2 593.6 806.7 595.8 801.5C598.0 796.3 596.2 797.5 600.2 794.1C604.2 790.8 604.6 792.5 607.8 791.4C611.0 790.3 609.1 791.0 609.7 790.8L614.8 792.8C613.7 790.5 611.9 791.5 611.4 785.9C610.9 780.4 610.5 781.6 613.4 776.1C616.2 770.6 614.6 771.9 620.0 769.4C625.4 766.9 623.8 768.3 629.6 768.6C635.3 769.0 633.7 767.0 637.3 770.3C640.9 773.6 639.3 775.8 640.4 778.5L642.2 777.3C642.9 775.8 641.0 776.6 644.2 772.9C647.5 769.2 646.4 768.2 652.0 766.3C657.5 764.4 655.4 765.2 660.9 767.1C666.4 769.0 664.6 768.1 668.5 772.0C672.5 776.0 671.4 775.3 672.7 779.0C674.0 782.6 672.5 781.6 672.4 782.9L671.1 788.4C673.5 786.4 672.7 784.2 678.4 782.2C684.1 780.3 682.8 780.4 688.2 782.6C693.7 784.9 691.3 784.1 694.7 789.0C698.2 793.8 697.8 791.7 698.6 797.2C699.4 802.7 700.4 801.1 697.1 805.5C693.8 809.8 691.6 808.6 688.8 810.2L693.6 810.8C694.5 811.3 693.6 809.7 696.5 812.5C699.4 815.3 699.6 814.0 702.2 819.1C704.9 824.2 704.8 822.1 704.4 827.7C704.0 833.4 704.3 831.6 701.1 836.0C697.8 840.5 697.5 839.0 694.7 841.1C691.8 843.1 693.2 841.8 692.5 842.1Z" stroke="#111" stroke-width="1.3" fill="none" stroke-linejoin="round"/>
<path d="M693.8 758.0L710.0 766.5L690.0 802.5L673.8 805.0Z" stroke="none" stroke-width="1.2" fill="#d0d0d0" stroke-linejoin="round" />
<path d="M693.8 758.0L710.0 766.5" stroke="#222" stroke-width="1.2" fill="none" stroke-linejoin="round" />
<path d="M544.5 781.2C544.5 779.4 545.3 777.0 550.0 776.2C554.7 775.5 562.0 776.3 570.0 777.0C578.0 777.7 585.5 777.2 593.8 780.0C602.0 782.8 606.5 787.7 615.0 792.5C623.5 797.3 630.8 799.8 640.0 806.2C649.2 812.7 659.0 821.3 665.0 827.5C671.0 833.7 671.6 836.3 672.5 840.0C673.4 843.7 672.3 846.4 670.0 847.5C667.7 848.6 666.4 848.8 660.0 846.2C653.6 843.7 645.5 839.5 635.0 833.8C624.5 828.0 613.0 821.1 602.5 815.0C592.0 808.9 587.1 805.8 577.5 800.5C567.9 795.2 556.0 789.8 550.0 786.2C544.0 782.7 544.5 783.1 544.5 781.2Z" stroke="#111" stroke-width="1.5" fill="none" stroke-linejoin="round" />
<path d="M547.5 782.5L560.0 778.0L581.2 779.5L598.8 788.0L577.5 799.5Z" stroke="#e01818" stroke-width="1.9" fill="none" stroke-linejoin="round" />
<path d="M560.0 778.0L555.0 787.0" stroke="#e01818" stroke-width="1.9" fill="none" stroke-linejoin="round" />
<path d="M581.2 779.5L572.5 795.0" stroke="#e01818" stroke-width="1.9" fill="none" stroke-linejoin="round" />
<path d="M581.2 800.5L595.0 795.0L672.5 840.5L668.0 847.5Z" stroke="#d2a21e" stroke-width="2.1" fill="none" stroke-linejoin="round" />
<circle cx="625.3" cy="813.2" r="3.4" fill="#1a1a1a" stroke="#000" stroke-width="1.3"/>
<circle cx="625.3" cy="813.2" r="1.5" fill="#555" stroke="none" stroke-width="0"/>
<circle cx="631.8" cy="816.6" r="3.4" fill="#1a1a1a" stroke="#000" stroke-width="1.3"/>
<circle cx="631.8" cy="816.6" r="1.5" fill="#555" stroke="none" stroke-width="0"/>
<circle cx="638.2" cy="819.9" r="3.4" fill="#1a1a1a" stroke="#000" stroke-width="1.3"/>
<circle cx="638.2" cy="819.9" r="1.5" fill="#555" stroke="none" stroke-width="0"/>
<circle cx="644.7" cy="823.2" r="3.4" fill="#1a1a1a" stroke="#000" stroke-width="1.3"/>
<circle cx="644.7" cy="823.2" r="1.5" fill="#555" stroke="none" stroke-width="0"/>
<circle cx="651.1" cy="826.6" r="3.4" fill="#1a1a1a" stroke="#000" stroke-width="1.3"/>
<circle cx="651.1" cy="826.6" r="1.5" fill="#555" stroke="none" stroke-width="0"/>
<circle cx="657.6" cy="829.9" r="3.4" fill="#1a1a1a" stroke="#000" stroke-width="1.3"/>
<circle cx="657.6" cy="829.9" r="1.5" fill="#555" stroke="none" stroke-width="0"/>
<circle cx="664.1" cy="833.2" r="3.4" fill="#1a1a1a" stroke="#000" stroke-width="1.3"/>
<circle cx="664.1" cy="833.2" r="1.5" fill="#555" stroke="none" stroke-width="0"/>
<circle cx="625.4" cy="820.9" r="3.4" fill="#1a1a1a" stroke="#000" stroke-width="1.3"/>
<circle cx="625.4" cy="820.9" r="1.5" fill="#555" stroke="none" stroke-width="0"/>
<circle cx="631.9" cy="824.3" r="3.4" fill="#1a1a1a" stroke="#000" stroke-width="1.3"/>
<circle cx="631.9" cy="824.3" r="1.5" fill="#555" stroke="none" stroke-width="0"/>
<circle cx="638.3" cy="827.6" r="3.4" fill="#1a1a1a" stroke="#000" stroke-width="1.3"/>
<circle cx="638.3" cy="827.6" r="1.5" fill="#555" stroke="none" stroke-width="0"/>
<circle cx="644.8" cy="830.9" r="3.4" fill="#1a1a1a" stroke="#000" stroke-width="1.3"/>
<circle cx="644.8" cy="830.9" r="1.5" fill="#555" stroke="none" stroke-width="0"/>
<circle cx="651.3" cy="834.3" r="3.4" fill="#1a1a1a" stroke="#000" stroke-width="1.3"/>
<circle cx="651.3" cy="834.3" r="1.5" fill="#555" stroke="none" stroke-width="0"/>
<circle cx="657.7" cy="837.6" r="3.4" fill="#1a1a1a" stroke="#000" stroke-width="1.3"/>
<circle cx="657.7" cy="837.6" r="1.5" fill="#555" stroke="none" stroke-width="0"/>
<path d="M630.0 813.0L636.2 807.5L652.5 816.2L647.5 822.5Z" stroke="#d2a21e" stroke-width="2.1" fill="none" stroke-linejoin="round" />
<path d="M593.2 787.0L622.5 807.5L652.5 828.0L680.0 845.0L700.0 860.0" stroke="#2fdc2f" stroke-width="0.8" fill="none" />
<path d="M593.2 787.0L622.5 807.5L652.5 828.0L680.0 845.0L700.0 860.0" stroke="#2fdc2f" stroke-width="2.4" fill="none" stroke-dasharray="6 4"/>
<circle cx="593.2" cy="787.0" r="3.6" fill="#fff" stroke="#1414e6" stroke-width="1.6"/>
<circle cx="593.2" cy="787.0" r="1.6" fill="#9ab4ff" stroke="#1414e6" stroke-width="0.8"/>
<circle cx="647.5" cy="822.5" r="3.6" fill="#fff" stroke="#e01818" stroke-width="1.4"/>
<circle cx="647.5" cy="822.5" r="1.6" fill="#f4a0a0" stroke="#e01818" stroke-width="0.8"/>
<circle cx="652.5" cy="828.0" r="3.6" fill="#fff" stroke="#1414e6" stroke-width="1.6"/>
<circle cx="652.5" cy="828.0" r="1.6" fill="#9ab4ff" stroke="#1414e6" stroke-width="0.8"/>
<path d="M696.2 860.0C697.2 856.8 699.7 856.4 705.0 855.0C710.3 853.6 721.3 846.1 725.0 852.5C728.7 858.9 726.8 884.0 725.0 890.0C723.2 896.0 719.6 888.2 715.0 885.0C710.4 881.8 703.4 877.1 700.0 872.5C696.6 867.9 695.3 863.2 696.2 860.0Z" stroke="#111" stroke-width="1.5" fill="none" stroke-linejoin="round" />
<circle cx="702.2" cy="857.4" r="3.6" fill="#1a1a1a" stroke="#000" stroke-width="1.3"/>
<circle cx="702.2" cy="857.4" r="1.6" fill="#555" stroke="none" stroke-width="0"/>
<circle cx="708.5" cy="857.0" r="3.6" fill="#1a1a1a" stroke="#000" stroke-width="1.3"/>
<circle cx="708.5" cy="857.0" r="1.6" fill="#555" stroke="none" stroke-width="0"/>
<circle cx="714.7" cy="856.6" r="3.6" fill="#1a1a1a" stroke="#000" stroke-width="1.3"/>
<circle cx="714.7" cy="856.6" r="1.6" fill="#555" stroke="none" stroke-width="0"/>
<circle cx="721.0" cy="856.2" r="3.6" fill="#1a1a1a" stroke="#000" stroke-width="1.3"/>
<circle cx="721.0" cy="856.2" r="1.6" fill="#555" stroke="none" stroke-width="0"/>
<circle cx="705.9" cy="864.9" r="3.6" fill="#1a1a1a" stroke="#000" stroke-width="1.3"/>
<circle cx="705.9" cy="864.9" r="1.6" fill="#555" stroke="none" stroke-width="0"/>
<circle cx="712.1" cy="864.4" r="3.6" fill="#1a1a1a" stroke="#000" stroke-width="1.3"/>
<circle cx="712.1" cy="864.4" r="1.6" fill="#555" stroke="none" stroke-width="0"/>
<circle cx="718.4" cy="864.0" r="3.6" fill="#1a1a1a" stroke="#000" stroke-width="1.3"/>
<circle cx="718.4" cy="864.0" r="1.6" fill="#555" stroke="none" stroke-width="0"/>
<path d="M697.5 866.2L715.0 882.5L725.0 880.0" stroke="#e01818" stroke-width="1.9" fill="none" stroke-linejoin="round" />
<path d="M220.8 866.5L219.4 867.3L219.4 870.6L218.6 874.0L217.4 876.3L217.6 879.9L211.9 881.8L210.4 883.8L213.0 888.4L212.5 890.2L206.5 891.5L206.0 894.2L208.5 899.2L208.8 900.1L209.0 904.3L206.5 908.4L205.9 909.9L204.3 913.8L203.0 916.5L202.8 918.4L199.4 916.7L198.0 919.2L197.6 927.1L194.9 927.0L193.1 926.5L190.2 926.7L190.0 933.0L185.4 932.1L182.2 928.0L180.8 929.4L176.9 925.9L176.1 924.9L173.6 923.4L171.7 922.6L168.5 920.6L168.1 921.0L165.5 931.8L163.5 931.1L160.8 921.9L160.1 922.3L156.6 928.5L154.1 928.0L150.7 926.3L149.1 926.9L145.9 929.5L142.4 929.9L139.8 926.4L138.3 927.6L134.5 928.1L133.5 925.4L136.8 914.7L135.7 910.3L131.6 909.8L131.6 907.5L132.1 903.6L130.8 899.3L132.5 896.3L131.5 892.4L128.9 891.0L129.4 889.6L128.4 885.7L126.8 882.2L129.6 878.1L129.7 877.9L121.6 874.2L120.4 871.8L120.4 868.7L119.4 867.9L123.6 865.1L123.2 859.6L121.3 857.9L120.1 854.7L118.1 851.8L117.2 847.2L114.4 839.7L113.9 837.6L122.2 836.1L123.7 836.5L120.5 828.2L122.2 826.2L126.6 824.4L128.5 824.2L131.6 823.5L134.6 820.5L136.6 823.1L138.5 819.6L140.2 819.5L142.4 818.1L144.4 817.0L147.7 815.6L147.7 811.3L149.0 808.6L149.2 805.5L151.8 802.6L153.7 803.0L155.5 800.2L158.7 799.8L160.2 798.5L161.2 794.0L163.3 791.5L167.9 790.0L168.4 787.9L171.9 791.1L174.0 792.1L178.0 788.8L179.6 791.0L180.1 804.7L181.6 804.9L184.9 803.4L186.1 805.3L189.7 801.5L193.2 804.0L191.1 811.1L193.1 811.3L193.4 815.7L195.2 817.5L197.5 817.4L199.8 819.6L203.3 817.0L206.5 820.6L203.3 825.7L205.7 828.8L207.6 828.1L210.4 831.0L215.3 831.3L217.0 833.0L214.0 836.9L215.5 840.7L218.3 843.4L221.0 844.5L225.5 846.2L225.5 852.6L223.6 853.0L222.6 856.5L214.8 861.4Z" stroke="#111" stroke-width="1.0" fill="none" stroke-linejoin="round"/>
<path d="M92.5 876.2C91.6 874.0 88.1 874.9 95.0 868.8C101.9 862.6 116.7 852.1 130.0 842.5C143.3 832.9 156.5 824.5 167.5 816.2C178.5 808.0 183.6 803.1 190.0 797.5C196.4 791.9 199.5 786.6 202.5 785.5C205.5 784.4 207.2 787.2 206.2 791.2C205.3 795.3 200.9 802.2 197.5 807.5C194.1 812.8 190.7 815.0 187.5 820.0C184.3 825.0 184.6 830.4 180.0 835.0C175.4 839.6 168.9 840.9 162.5 845.0C156.1 849.1 149.1 853.1 145.0 857.5C140.9 861.9 145.0 864.6 140.0 868.8C135.0 872.9 124.8 877.7 117.5 880.0C110.2 882.3 104.6 881.9 100.0 881.2C95.4 880.6 93.4 878.5 92.5 876.2Z" stroke="#111" stroke-width="1.5" fill="none" stroke-linejoin="round" />
<path d="M95.0 873.0L166.2 817.0L171.2 823.8L142.5 852.5L143.8 860.0L122.5 875.0L100.0 880.0Z" stroke="#d2a21e" stroke-width="2.1" fill="none" stroke-linejoin="round" />
<circle cx="103.0" cy="867.3" r="3.2" fill="#1a1a1a" stroke="#000" stroke-width="1.3"/>
<circle cx="103.0" cy="867.3" r="1.5" fill="#555" stroke="none" stroke-width="0"/>
<circle cx="108.8" cy="862.9" r="3.2" fill="#1a1a1a" stroke="#000" stroke-width="1.3"/>
<circle cx="108.8" cy="862.9" r="1.5" fill="#555" stroke="none" stroke-width="0"/>
<circle cx="114.6" cy="858.5" r="3.2" fill="#1a1a1a" stroke="#000" stroke-width="1.3"/>
<circle cx="114.6" cy="858.5" r="1.5" fill="#555" stroke="none" stroke-width="0"/>
<circle cx="120.5" cy="854.2" r="3.2" fill="#1a1a1a" stroke="#000" stroke-width="1.3"/>
<circle cx="120.5" cy="854.2" r="1.5" fill="#555" stroke="none" stroke-width="0"/>
<circle cx="126.3" cy="849.8" r="3.2" fill="#1a1a1a" stroke="#000" stroke-width="1.3"/>
<circle cx="126.3" cy="849.8" r="1.5" fill="#555" stroke="none" stroke-width="0"/>
<circle cx="132.1" cy="845.4" r="3.2" fill="#1a1a1a" stroke="#000" stroke-width="1.3"/>
<circle cx="132.1" cy="845.4" r="1.5" fill="#555" stroke="none" stroke-width="0"/>
<circle cx="138.0" cy="841.0" r="3.2" fill="#1a1a1a" stroke="#000" stroke-width="1.3"/>
<circle cx="138.0" cy="841.0" r="1.5" fill="#555" stroke="none" stroke-width="0"/>
<circle cx="110.0" cy="870.5" r="3.2" fill="#1a1a1a" stroke="#000" stroke-width="1.3"/>
<circle cx="110.0" cy="870.5" r="1.5" fill="#555" stroke="none" stroke-width="0"/>
<circle cx="115.8" cy="866.2" r="3.2" fill="#1a1a1a" stroke="#000" stroke-width="1.3"/>
<circle cx="115.8" cy="866.2" r="1.5" fill="#555" stroke="none" stroke-width="0"/>
<circle cx="121.6" cy="861.8" r="3.2" fill="#1a1a1a" stroke="#000" stroke-width="1.3"/>
<circle cx="121.6" cy="861.8" r="1.5" fill="#555" stroke="none" stroke-width="0"/>
<circle cx="127.5" cy="857.4" r="3.2" fill="#1a1a1a" stroke="#000" stroke-width="1.3"/>
<circle cx="127.5" cy="857.4" r="1.5" fill="#555" stroke="none" stroke-width="0"/>
<circle cx="133.3" cy="853.0" r="3.2" fill="#1a1a1a" stroke="#000" stroke-width="1.3"/>
<circle cx="133.3" cy="853.0" r="1.5" fill="#555" stroke="none" stroke-width="0"/>
<circle cx="139.1" cy="848.7" r="3.2" fill="#1a1a1a" stroke="#000" stroke-width="1.3"/>
<circle cx="139.1" cy="848.7" r="1.5" fill="#555" stroke="none" stroke-width="0"/>
<path d="M122.5 866.2L138.8 855.0L142.5 860.5L126.2 871.2Z" stroke="#d2a21e" stroke-width="2.1" fill="none" stroke-linejoin="round" />
<path d="M173.8 810.0L202.5 787.5L197.5 800.0L180.0 815.0L185.0 831.2L175.0 835.0" stroke="#e01818" stroke-width="1.9" fill="none" stroke-linejoin="round" />
<path d="M173.8 810.0L180.0 815.0" stroke="#e01818" stroke-width="1.9" fill="none" stroke-linejoin="round" />
<path d="M190.0 795.0L195.0 802.5" stroke="#e01818" stroke-width="1.9" fill="none" stroke-linejoin="round" />
<path d="M167.5 818.0C166.9 819.4 161.7 822.2 163.8 826.2C165.8 830.3 175.0 838.1 180.0 842.5C185.0 846.9 194.0 847.5 193.8 852.5C193.5 857.5 182.1 864.6 178.8 872.5C175.4 880.4 175.6 891.9 173.8 900.0C171.9 908.1 168.5 917.7 167.5 921.2M197.5 832.5C196.7 835.8 191.2 847.5 192.5 852.5C193.8 857.5 206.2 858.8 205.0 862.5C203.8 866.2 189.2 868.8 185.0 875.0C180.8 881.2 180.8 895.8 180.0 900.0" stroke="#d2a21e" stroke-width="2.1" fill="none" />
<path d="M181.2 817.5L205.0 845.0L211.2 852.0L183.8 880.0L155.0 907.5L130.0 930.0" stroke="#2fdc2f" stroke-width="0.8" fill="none" />
<path d="M181.2 817.5L205.0 845.0L211.2 852.0L183.8 880.0L155.0 907.5L130.0 930.0" stroke="#2fdc2f" stroke-width="2.4" fill="none" stroke-dasharray="6 4"/>
<path d="M208.8 823.8C210.6 816.6 214.3 817.9 220.0 816.2C225.7 814.6 235.6 812.0 240.0 815.0C244.4 818.0 244.7 826.5 243.8 832.5C242.8 838.5 239.6 842.5 235.0 847.5C230.4 852.5 223.3 858.6 218.8 860.0C214.2 861.4 211.8 861.6 210.0 855.0C208.2 848.4 206.9 830.9 208.8 823.8Z" stroke="#111" stroke-width="1.4" fill="none" stroke-linejoin="round" />
<path d="M210.0 853.8C209.8 849.6 212.0 839.7 215.0 833.8C218.0 827.8 222.0 824.3 226.2 821.2C230.5 818.2 235.9 814.9 238.0 817.0C240.1 819.1 239.4 826.9 237.5 832.5C235.6 838.1 231.4 843.1 227.5 847.5C223.6 851.9 219.5 855.1 216.2 856.2C213.0 857.4 210.2 857.9 210.0 853.8Z" stroke="#0a3a0a" stroke-width="1" fill="#165018" stroke-linejoin="round" />
<path d="M210.0 853.8L215.0 833.8L226.2 821.2L238.0 817.0L237.5 832.5L227.5 847.5L216.2 856.2Z" stroke="#22e022" stroke-width="2" fill="none" stroke-linejoin="round" />
<circle cx="205.0" cy="845.0" r="3.6" fill="#fff" stroke="#e01818" stroke-width="1.4"/>
<circle cx="205.0" cy="845.0" r="1.6" fill="#f4a0a0" stroke="#e01818" stroke-width="0.8"/>
<circle cx="212.5" cy="852.0" r="3.6" fill="#fff" stroke="#1414e6" stroke-width="1.6"/>
<circle cx="212.5" cy="852.0" r="1.6" fill="#9ab4ff" stroke="#1414e6" stroke-width="0.8"/>
<circle cx="118.2" cy="872.0" r="3.6" fill="#fff" stroke="#1414e6" stroke-width="1.6"/>
<circle cx="118.2" cy="872.0" r="1.6" fill="#9ab4ff" stroke="#1414e6" stroke-width="0.8"/>
<circle cx="181.2" cy="817.5" r="3.6" fill="#fff" stroke="#1414e6" stroke-width="1.6"/>
<circle cx="181.2" cy="817.5" r="1.6" fill="#9ab4ff" stroke="#1414e6" stroke-width="0.8"/>
<circle cx="183.2" cy="880.0" r="3.6" fill="#fff" stroke="#1414e6" stroke-width="1.6"/>
<circle cx="183.2" cy="880.0" r="1.6" fill="#9ab4ff" stroke="#1414e6" stroke-width="0.8"/>
<circle cx="20.0" cy="1058.0" r="41.0" fill="none" stroke="#111" stroke-width="1.1"/>
<circle cx="-10.0" cy="1098.0" r="38.0" fill="none" stroke="#111" stroke-width="1.1"/>
<path d="M-11.1 1000.6C-9.1 993.4 -9.7 997.9 0.0 986.7C9.7 975.5 26.9 956.0 41.7 939.4C56.4 922.9 71.9 906.0 80.6 896.4C89.2 886.8 85.3 888.2 88.9 887.2C92.5 886.2 97.6 887.9 100.0 890.8C102.4 893.8 102.6 898.0 102.2 903.3C101.8 908.7 100.2 915.2 97.8 920.0C95.3 924.8 93.1 926.9 88.9 929.7C84.7 932.5 81.1 930.9 75.0 935.3C68.9 939.6 64.2 944.9 55.6 953.3C46.9 961.7 38.0 969.9 27.8 981.1C17.6 992.3 7.1 1006.3 0.0 1014.4C-7.1 1022.6 -9.1 1028.1 -11.1 1025.6C-13.1 1023.0 -13.1 1007.7 -11.1 1000.6Z" stroke="#111" stroke-width="1.5" fill="none" stroke-linejoin="round" />
<path d="M-8.3 988.1L0.0 979.7L83.3 893.6L91.7 900.6L8.3 988.1L-8.3 1006.1" stroke="#e01818" stroke-width="2.4" fill="none" stroke-linejoin="round" />
<path d="M9.7 970.0L16.7 976.9" stroke="#111" stroke-width="1.3" fill="none" stroke-linejoin="round" />
<path d="M36.1 940.8L44.4 947.8" stroke="#e01818" stroke-width="1.9" fill="none" stroke-linejoin="round" />
<path d="M59.7 917.2L68.1 925.6" stroke="#e01818" stroke-width="1.9" fill="none" stroke-linejoin="round" />
<path d="M69.4 925.6L83.3 929.7L77.8 938.1" stroke="#e01818" stroke-width="1.9" fill="none" stroke-linejoin="round" />
<circle cx="88.9" cy="890.8" r="4.3" fill="#e316d3" stroke="#3a0050" stroke-width="1.3"/>
<circle cx="88.9" cy="890.8" r="1.7" fill="#ff7af0" stroke="#8a0080" stroke-width="0.6"/>
<circle cx="95.8" cy="897.8" r="4.3" fill="#e316d3" stroke="#3a0050" stroke-width="1.3"/>
<circle cx="95.8" cy="897.8" r="1.7" fill="#ff7af0" stroke="#8a0080" stroke-width="0.6"/>
<circle cx="87.5" cy="901.1" r="4.3" fill="#e316d3" stroke="#3a0050" stroke-width="1.3"/>
<circle cx="87.5" cy="901.1" r="1.7" fill="#ff7af0" stroke="#8a0080" stroke-width="0.6"/>
<circle cx="97.2" cy="906.1" r="4.3" fill="#e316d3" stroke="#3a0050" stroke-width="1.3"/>
<circle cx="97.2" cy="906.1" r="1.7" fill="#ff7af0" stroke="#8a0080" stroke-width="0.6"/>
<circle cx="89.4" cy="911.1" r="4.3" fill="#e316d3" stroke="#3a0050" stroke-width="1.3"/>
<circle cx="89.4" cy="911.1" r="1.7" fill="#ff7af0" stroke="#8a0080" stroke-width="0.6"/>
<circle cx="83.3" cy="917.2" r="4.3" fill="#e316d3" stroke="#3a0050" stroke-width="1.3"/>
<circle cx="83.3" cy="917.2" r="1.7" fill="#ff7af0" stroke="#8a0080" stroke-width="0.6"/>
<circle cx="92.2" cy="919.4" r="4.3" fill="#e316d3" stroke="#3a0050" stroke-width="1.3"/>
<circle cx="92.2" cy="919.4" r="1.7" fill="#ff7af0" stroke="#8a0080" stroke-width="0.6"/>
<circle cx="87.5" cy="925.6" r="4.3" fill="#e316d3" stroke="#3a0050" stroke-width="1.3"/>
<circle cx="87.5" cy="925.6" r="1.7" fill="#ff7af0" stroke="#8a0080" stroke-width="0.6"/>
<circle cx="96.7" cy="914.4" r="4.3" fill="#e316d3" stroke="#3a0050" stroke-width="1.3"/>
<circle cx="96.7" cy="914.4" r="1.7" fill="#ff7af0" stroke="#8a0080" stroke-width="0.6"/>
<path d="M69.4 958.9C68.4 952.9 64.1 948.3 66.7 942.8C69.2 937.3 77.2 937.6 83.3 928.9C89.4 920.1 93.9 902.2 100.0 895.0C106.1 887.8 112.6 888.4 116.7 889.4C120.7 890.5 117.1 900.3 122.2 900.6C127.3 900.8 136.3 893.4 144.4 890.8C152.6 888.3 160.6 884.9 166.7 886.7C172.8 888.4 174.7 894.4 177.8 900.6C180.8 906.7 183.3 913.4 183.3 920.0C183.3 926.6 180.8 930.6 177.8 936.7C174.7 942.8 168.4 947.7 166.7 953.3C164.9 958.9 168.6 961.6 168.1 967.2C167.5 972.8 168.2 979.8 163.9 983.9C159.6 988.0 149.5 985.9 144.4 989.4C139.4 993.0 138.7 1002.8 136.1 1003.3C133.6 1003.8 136.2 992.7 130.6 992.2C125.0 991.7 112.4 1000.6 105.6 1000.6C98.7 1000.6 97.1 995.8 93.1 992.2C89.0 988.7 87.2 984.2 83.3 981.1C79.5 978.1 74.8 979.6 72.2 975.6C69.7 971.5 70.5 964.9 69.4 958.9Z" stroke="#111" stroke-width="1.2" fill="none" stroke-linejoin="round" />
<path d="M95.8 949.2C95.6 944.1 97.1 933.4 101.4 925.6C105.7 917.7 112.1 911.6 119.4 906.1C126.8 900.6 135.7 897.1 141.7 895.6C147.7 894.0 150.7 895.3 152.2 897.8C153.8 900.2 153.5 904.8 150.0 908.9C146.5 913.0 138.4 915.4 133.3 920.0C128.2 924.6 125.8 928.3 122.2 933.9C118.7 939.5 117.5 947.0 113.9 950.6C110.3 954.1 106.1 953.6 102.8 953.3C99.5 953.1 96.1 954.3 95.8 949.2Z" stroke="#22e022" stroke-width="2" fill="none" stroke-linejoin="round" />
<circle cx="105.0" cy="944.4" r="4.3" fill="#3f6f2a" stroke="#0c200c" stroke-width="1.2"/>
<circle cx="105.0" cy="944.4" r="1.7" fill="#1d3d12" stroke="none" stroke-width="0"/>
<circle cx="106.9" cy="934.4" r="4.3" fill="#3f6f2a" stroke="#0c200c" stroke-width="1.2"/>
<circle cx="106.9" cy="934.4" r="1.7" fill="#1d3d12" stroke="none" stroke-width="0"/>
<circle cx="111.1" cy="925.6" r="4.3" fill="#3f6f2a" stroke="#0c200c" stroke-width="1.2"/>
<circle cx="111.1" cy="925.6" r="1.7" fill="#1d3d12" stroke="none" stroke-width="0"/>
<circle cx="116.7" cy="917.8" r="4.3" fill="#3f6f2a" stroke="#0c200c" stroke-width="1.2"/>
<circle cx="116.7" cy="917.8" r="1.7" fill="#1d3d12" stroke="none" stroke-width="0"/>
<circle cx="123.6" cy="911.7" r="4.3" fill="#3f6f2a" stroke="#0c200c" stroke-width="1.2"/>
<circle cx="123.6" cy="911.7" r="1.7" fill="#1d3d12" stroke="none" stroke-width="0"/>
<circle cx="130.6" cy="905.6" r="4.3" fill="#3f6f2a" stroke="#0c200c" stroke-width="1.2"/>
<circle cx="130.6" cy="905.6" r="1.7" fill="#1d3d12" stroke="none" stroke-width="0"/>
<circle cx="138.9" cy="901.1" r="4.3" fill="#3f6f2a" stroke="#0c200c" stroke-width="1.2"/>
<circle cx="138.9" cy="901.1" r="1.7" fill="#1d3d12" stroke="none" stroke-width="0"/>
<circle cx="147.2" cy="899.2" r="4.3" fill="#3f6f2a" stroke="#0c200c" stroke-width="1.2"/>
<circle cx="147.2" cy="899.2" r="1.7" fill="#1d3d12" stroke="none" stroke-width="0"/>
<circle cx="113.9" cy="942.8" r="4.3" fill="#3f6f2a" stroke="#0c200c" stroke-width="1.2"/>
<circle cx="113.9" cy="942.8" r="1.7" fill="#1d3d12" stroke="none" stroke-width="0"/>
<circle cx="116.1" cy="933.3" r="4.3" fill="#3f6f2a" stroke="#0c200c" stroke-width="1.2"/>
<circle cx="116.1" cy="933.3" r="1.7" fill="#1d3d12" stroke="none" stroke-width="0"/>
<circle cx="121.7" cy="925.0" r="4.3" fill="#3f6f2a" stroke="#0c200c" stroke-width="1.2"/>
<circle cx="121.7" cy="925.0" r="1.7" fill="#1d3d12" stroke="none" stroke-width="0"/>
<circle cx="128.3" cy="917.8" r="4.3" fill="#3f6f2a" stroke="#0c200c" stroke-width="1.2"/>
<circle cx="128.3" cy="917.8" r="1.7" fill="#1d3d12" stroke="none" stroke-width="0"/>
<circle cx="136.1" cy="911.7" r="4.3" fill="#3f6f2a" stroke="#0c200c" stroke-width="1.2"/>
<circle cx="136.1" cy="911.7" r="1.7" fill="#1d3d12" stroke="none" stroke-width="0"/>
<circle cx="143.1" cy="907.5" r="4.3" fill="#3f6f2a" stroke="#0c200c" stroke-width="1.2"/>
<circle cx="143.1" cy="907.5" r="1.7" fill="#1d3d12" stroke="none" stroke-width="0"/>
<circle cx="109.7" cy="950.6" r="4.3" fill="#3f6f2a" stroke="#0c200c" stroke-width="1.2"/>
<circle cx="109.7" cy="950.6" r="1.7" fill="#1d3d12" stroke="none" stroke-width="0"/>
<circle cx="122.2" cy="940.8" r="4.3" fill="#3f6f2a" stroke="#0c200c" stroke-width="1.2"/>
<circle cx="122.2" cy="940.8" r="1.7" fill="#1d3d12" stroke="none" stroke-width="0"/>
<path d="M127.2 931.7C128.8 927.1 133.7 926.9 138.9 925.6C144.1 924.2 150.9 922.5 155.6 924.2C160.2 925.8 164.4 930.1 164.4 934.4C164.4 938.8 159.5 944.1 155.6 947.8C151.6 951.5 147.6 954.2 143.1 954.7C138.5 955.2 133.5 954.8 130.6 950.6C127.7 946.3 125.7 936.2 127.2 931.7Z" stroke="#e01818" stroke-width="1.9" fill="none" stroke-linejoin="round" />
<path d="M130.6 945.6C129.5 942.1 132.5 936.4 136.1 933.3C139.7 930.3 145.4 929.0 150.0 928.9C154.6 928.7 160.3 929.8 161.1 932.5C161.9 935.2 157.7 940.0 154.2 943.6C150.6 947.2 146.0 951.6 141.7 951.9C137.3 952.3 131.6 949.0 130.6 945.6Z" stroke="#0a3a0a" stroke-width="1" fill="#165018" stroke-linejoin="round" />
<path d="M130.6 945.6L136.1 933.3L150.0 928.9L161.1 932.5L154.2 943.6L141.7 951.9Z" stroke="#22e022" stroke-width="2" fill="none" stroke-linejoin="round" />
<path d="M79.2 970.6C79.8 967.3 77.7 963.1 85.6 959.4C93.4 955.8 114.4 950.8 122.2 950.6C130.1 950.4 129.4 955.3 128.3 958.3C127.3 961.4 123.4 963.5 116.7 967.2C109.9 971.0 98.0 977.1 91.7 978.9C85.3 980.7 84.2 978.5 81.9 976.9C79.7 975.4 78.5 973.8 79.2 970.6Z" stroke="#e01818" stroke-width="1.9" fill="none" stroke-linejoin="round" />
<path d="M88.9 961.7L93.1 974.2L102.8 958.3L106.9 970.0L113.9 954.7" stroke="#e01818" stroke-width="1.9" fill="none" stroke-linejoin="round" />
<path d="M106.9 920.0L130.6 947.2L166.7 988.1" stroke="#ea3be6" stroke-width="2.6" fill="none" stroke-dasharray="7 3 2 3"/>
<path d="M88.3 977.8L122.2 949.2L155.6 911.7L181.9 882.5" stroke="#2fdc2f" stroke-width="0.8" fill="none" />
<path d="M88.3 977.8L122.2 949.2L155.6 911.7L181.9 882.5" stroke="#2fdc2f" stroke-width="2.4" fill="none" stroke-dasharray="6 4"/>
<path d="M166.7 988.1L200.0 1031.1" stroke="#2fdc2f" stroke-width="0.8" fill="none" />
<path d="M166.7 988.1L200.0 1031.1" stroke="#2fdc2f" stroke-width="2.4" fill="none" stroke-dasharray="6 4"/>
<circle cx="95.8" cy="911.1" r="3.6" fill="#fff" stroke="#1414e6" stroke-width="1.6"/>
<circle cx="95.8" cy="911.1" r="1.6" fill="#9ab4ff" stroke="#1414e6" stroke-width="0.8"/>
<circle cx="106.9" cy="920.0" r="3.6" fill="#fff" stroke="#1414e6" stroke-width="1.6"/>
<circle cx="106.9" cy="920.0" r="1.6" fill="#9ab4ff" stroke="#1414e6" stroke-width="0.8"/>
<circle cx="130.6" cy="947.2" r="3.6" fill="#fff" stroke="#1414e6" stroke-width="1.6"/>
<circle cx="130.6" cy="947.2" r="1.6" fill="#9ab4ff" stroke="#1414e6" stroke-width="0.8"/>
<circle cx="88.3" cy="977.8" r="3.6" fill="#fff" stroke="#1414e6" stroke-width="1.6"/>
<circle cx="88.3" cy="977.8" r="1.6" fill="#9ab4ff" stroke="#1414e6" stroke-width="0.8"/>
<circle cx="75.6" cy="991.4" r="3.6" fill="#fff" stroke="#1414e6" stroke-width="1.6"/>
<circle cx="75.6" cy="991.4" r="1.6" fill="#9ab4ff" stroke="#1414e6" stroke-width="0.8"/>
<circle cx="61.7" cy="1007.5" r="3.6" fill="#fff" stroke="#1414e6" stroke-width="1.6"/>
<circle cx="61.7" cy="1007.5" r="1.6" fill="#9ab4ff" stroke="#1414e6" stroke-width="0.8"/>
<circle cx="182.8" cy="880.6" r="3.6" fill="#fff" stroke="#1414e6" stroke-width="1.6"/>
<circle cx="182.8" cy="880.6" r="1.6" fill="#9ab4ff" stroke="#1414e6" stroke-width="0.8"/>
<circle cx="122.2" cy="947.8" r="3.6" fill="#fff" stroke="#e01818" stroke-width="1.4"/>
<circle cx="122.2" cy="947.8" r="1.6" fill="#f4a0a0" stroke="#e01818" stroke-width="0.8"/>
<path d="M47.8 988.9C50.2 985.2 50.2 982.7 54.4 981.1C58.7 979.5 66.2 978.7 71.1 980.0C76.0 981.3 78.9 984.8 81.1 988.2C83.4 991.7 84.6 995.5 83.3 998.9C82.1 1002.3 78.7 1002.4 74.4 1006.7C70.2 1010.9 64.9 1016.7 60.0 1022.2C55.1 1027.7 50.6 1031.6 47.8 1036.7C44.9 1041.8 45.5 1044.7 44.4 1050.0C43.4 1055.3 44.3 1059.4 42.2 1065.6C40.2 1071.7 37.4 1078.0 33.3 1083.3C29.3 1088.6 25.3 1092.4 20.0 1094.4C14.7 1096.5 9.3 1096.1 4.4 1094.4C-0.4 1092.8 -5.4 1091.3 -6.7 1085.6C-7.9 1079.9 -5.1 1069.9 -2.2 1063.3C0.6 1056.8 6.0 1055.3 8.9 1050.0C11.7 1044.7 9.7 1040.6 13.3 1034.4C17.0 1028.3 23.8 1022.8 28.9 1016.7C34.0 1010.6 37.6 1006.2 41.1 1001.1C44.6 996.0 45.3 992.6 47.8 988.9Z" stroke="#111" stroke-width="1.6" fill="none" stroke-linejoin="round" />
<circle cx="58.1" cy="982.7" r="4.2" fill="#1a1a1a" stroke="#000" stroke-width="1.3"/>
<circle cx="58.1" cy="982.7" r="1.9" fill="#555" stroke="none" stroke-width="0"/>
<circle cx="65.2" cy="985.3" r="4.2" fill="#1a1a1a" stroke="#000" stroke-width="1.3"/>
<circle cx="65.2" cy="985.3" r="1.9" fill="#555" stroke="none" stroke-width="0"/>
<circle cx="72.2" cy="987.9" r="4.2" fill="#1a1a1a" stroke="#000" stroke-width="1.3"/>
<circle cx="72.2" cy="987.9" r="1.9" fill="#555" stroke="none" stroke-width="0"/>
<circle cx="79.2" cy="990.5" r="4.2" fill="#1a1a1a" stroke="#000" stroke-width="1.3"/>
<circle cx="79.2" cy="990.5" r="1.9" fill="#555" stroke="none" stroke-width="0"/>
<circle cx="58.7" cy="992.0" r="4.2" fill="#1a1a1a" stroke="#000" stroke-width="1.3"/>
<circle cx="58.7" cy="992.0" r="1.9" fill="#555" stroke="none" stroke-width="0"/>
<circle cx="65.8" cy="994.5" r="4.2" fill="#1a1a1a" stroke="#000" stroke-width="1.3"/>
<circle cx="65.8" cy="994.5" r="1.9" fill="#555" stroke="none" stroke-width="0"/>
<circle cx="72.8" cy="997.1" r="4.2" fill="#1a1a1a" stroke="#000" stroke-width="1.3"/>
<circle cx="72.8" cy="997.1" r="1.9" fill="#555" stroke="none" stroke-width="0"/>
<path d="M52.2 985.6L64.4 981.6L68.9 992.2L57.8 997.8Z" stroke="#e01818" stroke-width="2" fill="none" stroke-linejoin="round" />
<path d="M66.7 985.6L76.7 988.2L73.3 998.9L63.3 996.7Z" stroke="#e01818" stroke-width="2" fill="none" stroke-linejoin="round" />
<path d="M15.6 1034.4L44.4 994.4L52.2 999.3L24.4 1041.1Z" stroke="#d2a21e" stroke-width="2.2" fill="none" stroke-linejoin="round" />
<path d="M30.0 1014.4L37.8 1019.3" stroke="#d2a21e" stroke-width="2.1" fill="none" stroke-linejoin="round" />
<path d="M35.6 1041.1L66.7 1007.8L73.8 1013.6L44.4 1050.0Z" stroke="#e01818" stroke-width="2" fill="none" stroke-linejoin="round" />
<path d="M0.0 1083.3L13.3 1063.3L28.9 1072.2L13.3 1095.6Z" stroke="#e01818" stroke-width="2" fill="none" stroke-linejoin="round" />
<circle cx="17.8" cy="1049.6" r="4.2" fill="#1a1a1a" stroke="#000" stroke-width="1.3"/>
<circle cx="17.8" cy="1049.6" r="1.9" fill="#555" stroke="none" stroke-width="0"/>
<circle cx="24.5" cy="1051.4" r="4.2" fill="#1a1a1a" stroke="#000" stroke-width="1.3"/>
<circle cx="24.5" cy="1051.4" r="1.9" fill="#555" stroke="none" stroke-width="0"/>
<circle cx="31.2" cy="1053.3" r="4.2" fill="#1a1a1a" stroke="#000" stroke-width="1.3"/>
<circle cx="31.2" cy="1053.3" r="1.9" fill="#555" stroke="none" stroke-width="0"/>
<circle cx="37.8" cy="1055.1" r="4.2" fill="#1a1a1a" stroke="#000" stroke-width="1.3"/>
<circle cx="37.8" cy="1055.1" r="1.9" fill="#555" stroke="none" stroke-width="0"/>
<circle cx="18.9" cy="1058.7" r="4.2" fill="#1a1a1a" stroke="#000" stroke-width="1.3"/>
<circle cx="18.9" cy="1058.7" r="1.9" fill="#555" stroke="none" stroke-width="0"/>
<circle cx="25.6" cy="1060.6" r="4.2" fill="#1a1a1a" stroke="#000" stroke-width="1.3"/>
<circle cx="25.6" cy="1060.6" r="1.9" fill="#555" stroke="none" stroke-width="0"/>
<circle cx="32.2" cy="1062.4" r="4.2" fill="#1a1a1a" stroke="#000" stroke-width="1.3"/>
<circle cx="32.2" cy="1062.4" r="1.9" fill="#555" stroke="none" stroke-width="0"/>
<circle cx="13.3" cy="1066.0" r="4.2" fill="#1a1a1a" stroke="#000" stroke-width="1.3"/>
<circle cx="13.3" cy="1066.0" r="1.9" fill="#555" stroke="none" stroke-width="0"/>
<circle cx="19.9" cy="1067.8" r="4.2" fill="#1a1a1a" stroke="#000" stroke-width="1.3"/>
<circle cx="19.9" cy="1067.8" r="1.9" fill="#555" stroke="none" stroke-width="0"/>
<circle cx="26.6" cy="1069.7" r="4.2" fill="#1a1a1a" stroke="#000" stroke-width="1.3"/>
<circle cx="26.6" cy="1069.7" r="1.9" fill="#555" stroke="none" stroke-width="0"/>
<circle cx="33.3" cy="1071.5" r="4.2" fill="#1a1a1a" stroke="#000" stroke-width="1.3"/>
<circle cx="33.3" cy="1071.5" r="1.9" fill="#555" stroke="none" stroke-width="0"/>
<circle cx="18.7" cy="1070.7" r="4.2" fill="#1a1a1a" stroke="#000" stroke-width="1.3"/>
<circle cx="18.7" cy="1070.7" r="1.9" fill="#555" stroke="none" stroke-width="0"/>
<circle cx="24.8" cy="1074.0" r="4.2" fill="#1a1a1a" stroke="#000" stroke-width="1.3"/>
<circle cx="24.8" cy="1074.0" r="1.9" fill="#555" stroke="none" stroke-width="0"/>
<circle cx="30.9" cy="1077.4" r="4.2" fill="#1a1a1a" stroke="#000" stroke-width="1.3"/>
<circle cx="30.9" cy="1077.4" r="1.9" fill="#555" stroke="none" stroke-width="0"/>
<circle cx="17.7" cy="1079.8" r="4.2" fill="#1a1a1a" stroke="#000" stroke-width="1.3"/>
<circle cx="17.7" cy="1079.8" r="1.9" fill="#555" stroke="none" stroke-width="0"/>
<circle cx="23.8" cy="1083.2" r="4.2" fill="#1a1a1a" stroke="#000" stroke-width="1.3"/>
<circle cx="23.8" cy="1083.2" r="1.9" fill="#555" stroke="none" stroke-width="0"/>
<path d="M13.3 1063.3L33.3 1054.4L40.0 1063.3L22.2 1085.6" stroke="#e01818" stroke-width="2" fill="none" stroke-linejoin="round" />
<path d="M61.8 1007.8L75.6 991.1L88.9 977.8" stroke="#2fdc2f" stroke-width="0.8" fill="none" />
<path d="M61.8 1007.8L75.6 991.1L88.9 977.8" stroke="#2fdc2f" stroke-width="2.4" fill="none" stroke-dasharray="6 4"/>
<path d="M0.0 1054.4L12.9 1041.1L28.9 1050.0" stroke="#2fdc2f" stroke-width="0.8" fill="none" />
<path d="M0.0 1054.4L12.9 1041.1L28.9 1050.0" stroke="#2fdc2f" stroke-width="2.4" fill="none" stroke-dasharray="6 4"/>
<circle cx="75.6" cy="991.1" r="3.6" fill="#fff" stroke="#1414e6" stroke-width="1.6"/>
<circle cx="75.6" cy="991.1" r="1.6" fill="#9ab4ff" stroke="#1414e6" stroke-width="0.8"/>
<circle cx="61.8" cy="1007.8" r="3.6" fill="#fff" stroke="#1414e6" stroke-width="1.6"/>
<circle cx="61.8" cy="1007.8" r="1.6" fill="#9ab4ff" stroke="#1414e6" stroke-width="0.8"/>
<circle cx="12.9" cy="1041.1" r="3.6" fill="#fff" stroke="#1414e6" stroke-width="1.6"/>
<circle cx="12.9" cy="1041.1" r="1.6" fill="#9ab4ff" stroke="#1414e6" stroke-width="0.8"/>
<circle cx="28.9" cy="1050.0" r="3.6" fill="#fff" stroke="#1414e6" stroke-width="1.6"/>
<circle cx="28.9" cy="1050.0" r="1.6" fill="#9ab4ff" stroke="#1414e6" stroke-width="0.8"/>
<circle cx="2.2" cy="1050.0" r="3.6" fill="#fff" stroke="#1414e6" stroke-width="1.6"/>
<circle cx="2.2" cy="1050.0" r="1.6" fill="#9ab4ff" stroke="#1414e6" stroke-width="0.8"/>
<circle cx="7.8" cy="1045.6" r="3.6" fill="#fff" stroke="#e07010" stroke-width="1.4"/>
<circle cx="7.8" cy="1045.6" r="1.6" fill="#f4a0a0" stroke="#e07010" stroke-width="0.8"/>
<path d="M174.5 1046.2C175.4 1043.3 176.7 1043.7 185.0 1037.5C193.3 1031.3 207.6 1021.2 220.0 1012.5C232.4 1003.8 241.5 999.2 252.5 990.0C263.5 980.8 273.6 968.1 280.0 962.5C286.4 956.9 285.6 958.6 287.5 959.5C289.4 960.4 291.4 963.7 290.5 967.5C289.6 971.3 285.3 973.6 282.5 980.0C279.7 986.4 278.2 996.5 275.0 1002.5C271.8 1008.5 269.1 1010.0 265.0 1012.5C260.9 1015.0 258.0 1014.4 252.5 1016.2C247.0 1018.1 240.0 1019.5 235.0 1022.5C230.0 1025.5 231.0 1027.0 225.0 1032.5C219.0 1038.0 210.8 1048.6 202.5 1052.5C194.2 1056.4 185.1 1054.9 180.0 1053.8C174.9 1052.6 173.6 1049.2 174.5 1046.2Z" stroke="#111" stroke-width="1.4" fill="none" stroke-linejoin="round" />
<path d="M176.2 1047.5L255.0 988.8L258.0 995.5L205.0 1038.0L185.0 1052.5Z" stroke="#d2a21e" stroke-width="2.1" fill="none" stroke-linejoin="round" />
<circle cx="186.5" cy="1041.9" r="3.6" fill="#1a1a1a" stroke="#000" stroke-width="1.3"/>
<circle cx="186.5" cy="1041.9" r="1.6" fill="#555" stroke="none" stroke-width="0"/>
<circle cx="193.5" cy="1036.7" r="3.6" fill="#1a1a1a" stroke="#000" stroke-width="1.3"/>
<circle cx="193.5" cy="1036.7" r="1.6" fill="#555" stroke="none" stroke-width="0"/>
<circle cx="200.5" cy="1031.4" r="3.6" fill="#1a1a1a" stroke="#000" stroke-width="1.3"/>
<circle cx="200.5" cy="1031.4" r="1.6" fill="#555" stroke="none" stroke-width="0"/>
<circle cx="207.5" cy="1026.2" r="3.6" fill="#1a1a1a" stroke="#000" stroke-width="1.3"/>
<circle cx="207.5" cy="1026.2" r="1.6" fill="#555" stroke="none" stroke-width="0"/>
<circle cx="214.5" cy="1020.9" r="3.6" fill="#1a1a1a" stroke="#000" stroke-width="1.3"/>
<circle cx="214.5" cy="1020.9" r="1.6" fill="#555" stroke="none" stroke-width="0"/>
<circle cx="221.5" cy="1015.7" r="3.6" fill="#1a1a1a" stroke="#000" stroke-width="1.3"/>
<circle cx="221.5" cy="1015.7" r="1.6" fill="#555" stroke="none" stroke-width="0"/>
<circle cx="194.5" cy="1045.4" r="3.6" fill="#1a1a1a" stroke="#000" stroke-width="1.3"/>
<circle cx="194.5" cy="1045.4" r="1.6" fill="#555" stroke="none" stroke-width="0"/>
<circle cx="201.5" cy="1040.2" r="3.6" fill="#1a1a1a" stroke="#000" stroke-width="1.3"/>
<circle cx="201.5" cy="1040.2" r="1.6" fill="#555" stroke="none" stroke-width="0"/>
<circle cx="208.5" cy="1034.9" r="3.6" fill="#1a1a1a" stroke="#000" stroke-width="1.3"/>
<circle cx="208.5" cy="1034.9" r="1.6" fill="#555" stroke="none" stroke-width="0"/>
<circle cx="215.5" cy="1029.7" r="3.6" fill="#1a1a1a" stroke="#000" stroke-width="1.3"/>
<circle cx="215.5" cy="1029.7" r="1.6" fill="#555" stroke="none" stroke-width="0"/>
<circle cx="222.5" cy="1024.4" r="3.6" fill="#1a1a1a" stroke="#000" stroke-width="1.3"/>
<circle cx="222.5" cy="1024.4" r="1.6" fill="#555" stroke="none" stroke-width="0"/>
<path d="M206.2 1037.5L223.8 1025.0L228.8 1031.2L210.0 1045.0Z" stroke="#d2a21e" stroke-width="2.1" fill="none" stroke-linejoin="round" />
<path d="M255.5 995.5L282.5 964.5L289.0 968.0L275.0 1002.5L258.0 1012.5Z" stroke="#e01818" stroke-width="1.9" fill="none" stroke-linejoin="round" />
<path d="M268.8 980.0L281.2 986.2" stroke="#e01818" stroke-width="1.9" fill="none" stroke-linejoin="round" />
<path d="M261.2 990.0L276.2 997.5" stroke="#e01818" stroke-width="1.9" fill="none" stroke-linejoin="round" />
<path d="M268.8 980.0L265.0 1005.0" stroke="#e01818" stroke-width="1.9" fill="none" stroke-linejoin="round" />
<path d="M257.5 975.0L272.5 948.8L276.5 951.2L261.5 977.5Z" stroke="#111" stroke-width="1.2" fill="#fff" stroke-linejoin="round" />
<path d="M272.5 948.8L283.8 928.8" stroke="#22cc22" stroke-width="1.2" fill="none" stroke-linejoin="round" />
<path d="M200.0 1029.5L230.0 1010.0L258.8 990.0" stroke="#2fdc2f" stroke-width="0.8" fill="none" />
<path d="M200.0 1029.5L230.0 1010.0L258.8 990.0" stroke="#2fdc2f" stroke-width="2.4" fill="none" stroke-dasharray="6 4"/>
<circle cx="258.8" cy="988.0" r="3.6" fill="#fff" stroke="#1414e6" stroke-width="1.6"/>
<circle cx="258.8" cy="988.0" r="1.6" fill="#9ab4ff" stroke="#1414e6" stroke-width="0.8"/>
<circle cx="200.0" cy="1029.5" r="3.6" fill="#fff" stroke="#1414e6" stroke-width="1.6"/>
<circle cx="200.0" cy="1029.5" r="1.6" fill="#9ab4ff" stroke="#1414e6" stroke-width="0.8"/>
<path d="M320.0 933.9C320.3 930.3 319.6 925.0 323.6 920.0C327.6 915.0 332.8 909.3 341.7 906.7C350.6 904.0 360.5 905.4 372.2 905.6C383.9 905.7 393.3 908.9 405.6 907.5C417.8 906.1 428.7 902.3 438.9 897.8C449.1 893.2 454.5 885.7 461.1 882.8C467.7 879.8 471.3 880.2 475.0 881.7C478.7 883.1 481.5 887.6 481.1 890.8C480.7 894.1 485.6 894.5 472.8 899.4C459.9 904.4 437.2 910.1 411.1 917.8C385.0 925.4 346.9 937.1 330.6 941.1C314.3 945.1 324.2 940.8 322.2 939.4C320.3 938.1 319.7 937.5 320.0 933.9Z" stroke="#111" stroke-width="1.4" fill="none" stroke-linejoin="round" />
<path d="M327.8 939.4L477.8 896.4" stroke="#e01818" stroke-width="2.4" fill="none" stroke-linejoin="round" stroke-dasharray="3 1"/>
<path d="M350.0 911.7L366.7 907.5L368.3 917.2" stroke="#e01818" stroke-width="1.9" fill="none" stroke-linejoin="round" />
<path d="M368.3 917.2L391.7 911.7L394.4 921.7" stroke="#e01818" stroke-width="1.9" fill="none" stroke-linejoin="round" />
<path d="M336.1 929.7L350.0 911.7" stroke="#e01818" stroke-width="1.9" fill="none" stroke-linejoin="round" />
<path d="M452.2 903.3L451.4 893.6L469.4 888.9L471.1 898.3" stroke="#e01818" stroke-width="1.9" fill="none" stroke-linejoin="round" />
<circle cx="344.4" cy="908.3" r="4.3" fill="#e316d3" stroke="#3a0050" stroke-width="1.3"/>
<circle cx="344.4" cy="908.3" r="1.7" fill="#ff7af0" stroke="#8a0080" stroke-width="0.6"/>
<circle cx="336.1" cy="912.2" r="4.3" fill="#e316d3" stroke="#3a0050" stroke-width="1.3"/>
<circle cx="336.1" cy="912.2" r="1.7" fill="#ff7af0" stroke="#8a0080" stroke-width="0.6"/>
<circle cx="328.6" cy="914.4" r="4.3" fill="#e316d3" stroke="#3a0050" stroke-width="1.3"/>
<circle cx="328.6" cy="914.4" r="1.7" fill="#ff7af0" stroke="#8a0080" stroke-width="0.6"/>
<circle cx="343.1" cy="916.7" r="4.3" fill="#e316d3" stroke="#3a0050" stroke-width="1.3"/>
<circle cx="343.1" cy="916.7" r="1.7" fill="#ff7af0" stroke="#8a0080" stroke-width="0.6"/>
<circle cx="334.7" cy="920.0" r="4.3" fill="#e316d3" stroke="#3a0050" stroke-width="1.3"/>
<circle cx="334.7" cy="920.0" r="1.7" fill="#ff7af0" stroke="#8a0080" stroke-width="0.6"/>
<circle cx="325.0" cy="922.2" r="4.3" fill="#e316d3" stroke="#3a0050" stroke-width="1.3"/>
<circle cx="325.0" cy="922.2" r="1.7" fill="#ff7af0" stroke="#8a0080" stroke-width="0.6"/>
<circle cx="331.1" cy="926.9" r="4.3" fill="#e316d3" stroke="#3a0050" stroke-width="1.3"/>
<circle cx="331.1" cy="926.9" r="1.7" fill="#ff7af0" stroke="#8a0080" stroke-width="0.6"/>
<circle cx="322.8" cy="928.9" r="4.3" fill="#e316d3" stroke="#3a0050" stroke-width="1.3"/>
<circle cx="322.8" cy="928.9" r="1.7" fill="#ff7af0" stroke="#8a0080" stroke-width="0.6"/>
<circle cx="330.0" cy="934.4" r="4.3" fill="#e316d3" stroke="#3a0050" stroke-width="1.3"/>
<circle cx="330.0" cy="934.4" r="1.7" fill="#ff7af0" stroke="#8a0080" stroke-width="0.6"/>
<circle cx="323.3" cy="936.1" r="4.3" fill="#e316d3" stroke="#3a0050" stroke-width="1.3"/>
<circle cx="323.3" cy="936.1" r="1.7" fill="#ff7af0" stroke="#8a0080" stroke-width="0.6"/>
<path d="M418.1 870.0L419.4 911.7L430.6 911.7" stroke="#2fdc2f" stroke-width="0.8" fill="none" />
<path d="M418.1 870.0L419.4 911.7L430.6 911.7" stroke="#2fdc2f" stroke-width="2.4" fill="none" stroke-dasharray="6 4"/>
<circle cx="432.8" cy="911.1" r="3.6" fill="#fff" stroke="#1414e6" stroke-width="1.6"/>
<circle cx="432.8" cy="911.1" r="1.6" fill="#9ab4ff" stroke="#1414e6" stroke-width="0.8"/>
<circle cx="440.3" cy="909.4" r="3.6" fill="#fff" stroke="#1414e6" stroke-width="1.6"/>
<circle cx="440.3" cy="909.4" r="1.6" fill="#9ab4ff" stroke="#1414e6" stroke-width="0.8"/>
<path d="M502.2 878.9C502.7 873.9 493.3 869.2 506.9 875.0C520.4 880.8 550.6 897.6 576.1 910.8C601.6 924.0 632.0 938.9 646.1 946.9C660.2 955.0 652.4 951.5 653.1 954.7C653.8 957.9 652.4 962.1 650.0 964.4C647.6 966.8 643.5 967.6 640.3 967.6C637.1 967.6 637.8 968.7 632.5 964.4C627.2 960.2 619.3 950.9 611.1 944.2C602.9 937.5 597.8 932.3 587.8 927.9C577.8 923.5 567.4 922.0 556.7 920.1C546.0 918.3 537.6 919.3 529.4 917.8C521.2 916.3 516.6 914.8 511.9 911.9C507.3 909.1 505.9 908.3 504.2 902.2C502.4 896.2 501.7 883.9 502.2 878.9Z" stroke="#111" stroke-width="1.7" fill="none" stroke-linejoin="round" />
<path d="M508.1 878.9L644.2 950.4" stroke="#e01818" stroke-width="2.6" fill="none" stroke-linejoin="round" stroke-dasharray="4 1"/>
<path d="M517.8 898.3L572.2 910.0L568.3 920.9" stroke="#e01818" stroke-width="1.9" fill="none" stroke-linejoin="round" />
<path d="M546.9 905.3L543.1 919.3" stroke="#e01818" stroke-width="1.9" fill="none" stroke-linejoin="round" />
<path d="M513.9 908.1L568.3 920.9" stroke="#e01818" stroke-width="1.9" fill="none" stroke-linejoin="round" />
<path d="M622.8 941.9L619.7 949.7L634.4 956.7L637.6 948.1" stroke="#e01818" stroke-width="1.9" fill="none" stroke-linejoin="round" />
<circle cx="505.3" cy="880.8" r="4.3" fill="#e316d3" stroke="#3a0050" stroke-width="1.3"/>
<circle cx="505.3" cy="880.8" r="1.7" fill="#ff7af0" stroke="#8a0080" stroke-width="0.6"/>
<circle cx="513.1" cy="885.9" r="4.3" fill="#e316d3" stroke="#3a0050" stroke-width="1.3"/>
<circle cx="513.1" cy="885.9" r="1.7" fill="#ff7af0" stroke="#8a0080" stroke-width="0.6"/>
<circle cx="503.0" cy="890.6" r="4.3" fill="#e316d3" stroke="#3a0050" stroke-width="1.3"/>
<circle cx="503.0" cy="890.6" r="1.7" fill="#ff7af0" stroke="#8a0080" stroke-width="0.6"/>
<circle cx="511.6" cy="895.2" r="4.3" fill="#e316d3" stroke="#3a0050" stroke-width="1.3"/>
<circle cx="511.6" cy="895.2" r="1.7" fill="#ff7af0" stroke="#8a0080" stroke-width="0.6"/>
<circle cx="504.6" cy="899.9" r="4.3" fill="#e316d3" stroke="#3a0050" stroke-width="1.3"/>
<circle cx="504.6" cy="899.9" r="1.7" fill="#ff7af0" stroke="#8a0080" stroke-width="0.6"/>
<circle cx="514.7" cy="903.0" r="4.3" fill="#e316d3" stroke="#3a0050" stroke-width="1.3"/>
<circle cx="514.7" cy="903.0" r="1.7" fill="#ff7af0" stroke="#8a0080" stroke-width="0.6"/>
<circle cx="508.4" cy="907.7" r="4.3" fill="#e316d3" stroke="#3a0050" stroke-width="1.3"/>
<circle cx="508.4" cy="907.7" r="1.7" fill="#ff7af0" stroke="#8a0080" stroke-width="0.6"/>
<circle cx="521.7" cy="908.4" r="4.3" fill="#e316d3" stroke="#3a0050" stroke-width="1.3"/>
<circle cx="521.7" cy="908.4" r="1.7" fill="#ff7af0" stroke="#8a0080" stroke-width="0.6"/>
<circle cx="516.2" cy="913.1" r="4.3" fill="#e316d3" stroke="#3a0050" stroke-width="1.3"/>
<circle cx="516.2" cy="913.1" r="1.7" fill="#ff7af0" stroke="#8a0080" stroke-width="0.6"/>
<circle cx="523.2" cy="914.7" r="4.3" fill="#e316d3" stroke="#3a0050" stroke-width="1.3"/>
<circle cx="523.2" cy="914.7" r="1.7" fill="#ff7af0" stroke="#8a0080" stroke-width="0.6"/>
<path d="M605.3 931.8L622.8 948.9L639.1 955.1" stroke="#22cc22" stroke-width="1.2" fill="none" stroke-linejoin="round" />
<path d="M641.4 952.8L662.4 922.4" stroke="#2fdc2f" stroke-width="0.8" fill="none" />
<path d="M641.4 952.8L662.4 922.4" stroke="#2fdc2f" stroke-width="2.4" fill="none" stroke-dasharray="6 4"/>
<path d="M633.7 903.0L663.2 920.9L688.9 886.7L721.9 851.7" stroke="#ea3be6" stroke-width="2.6" fill="none" stroke-dasharray="7 3 2 3"/>
<circle cx="644.2" cy="923.2" r="4.4" fill="none" stroke="#9a9a9a" stroke-width="1.3"/>
<path d="M642.6 927.9L637.6 937.2" stroke="#9a9a9a" stroke-width="1.3" fill="none" stroke-linejoin="round" />
<path d="M635.6 932.6L637.2 939.2L641.1 934.1Z" stroke="none" stroke-width="1.2" fill="#9a9a9a" stroke-linejoin="round" />
<circle cx="605.3" cy="930.6" r="3.6" fill="#fff" stroke="#1414e6" stroke-width="1.6"/>
<circle cx="605.3" cy="930.6" r="1.6" fill="#9ab4ff" stroke="#1414e6" stroke-width="0.8"/>
<circle cx="641.4" cy="952.8" r="3.6" fill="#fff" stroke="#1414e6" stroke-width="1.6"/>
<circle cx="641.4" cy="952.8" r="1.6" fill="#9ab4ff" stroke="#1414e6" stroke-width="0.8"/>
<path d="M45.8 1201.4C45.6 1198.6 45.3 1196.5 48.6 1191.7C51.9 1186.8 58.5 1180.9 63.9 1175.0C69.2 1169.1 69.1 1168.4 77.8 1159.7C86.4 1151.1 99.9 1140.3 111.1 1127.8C122.3 1115.3 131.8 1100.8 138.9 1091.7C146.0 1082.5 145.7 1080.1 150.0 1077.8C154.3 1075.5 159.3 1076.1 162.5 1079.2C165.7 1082.2 167.0 1088.6 167.2 1094.4C167.5 1100.3 167.0 1106.0 163.9 1111.1C160.7 1116.2 156.1 1118.7 150.0 1122.2C143.9 1125.8 137.7 1127.5 130.6 1130.6C123.4 1133.6 118.8 1134.3 111.1 1138.9C103.5 1143.5 95.5 1148.9 88.9 1155.6C82.3 1162.2 78.6 1167.9 75.0 1175.0C71.4 1182.1 72.0 1188.6 69.4 1194.4C66.9 1200.3 64.7 1204.7 61.1 1206.9C57.5 1209.2 52.8 1208.0 50.0 1206.9C47.2 1205.9 46.1 1204.2 45.8 1201.4Z" stroke="#111" stroke-width="1.4" fill="none" stroke-linejoin="round" />
<path d="M52.8 1192.2L144.4 1083.9L155.6 1091.7L130.6 1121.7L111.1 1133.3" stroke="#e01818" stroke-width="1.9" fill="none" stroke-linejoin="round" />
<path d="M59.7 1198.6L83.3 1172.2L75.0 1163.9" stroke="#e01818" stroke-width="1.9" fill="none" stroke-linejoin="round" />
<path d="M55.6 1186.7L66.1 1178.3L71.1 1188.9L61.7 1197.8Z" stroke="#e01818" stroke-width="1.9" fill="none" stroke-linejoin="round" />
<path d="M129.2 1119.4L144.4 1105.6L151.4 1114.4" stroke="#e01818" stroke-width="1.9" fill="none" stroke-linejoin="round" />
<path d="M73.6 1160.6L81.9 1166.7" stroke="#111" stroke-width="1.3" fill="none" stroke-linejoin="round" />
<circle cx="154.2" cy="1080.0" r="4.3" fill="#e316d3" stroke="#3a0050" stroke-width="1.3"/>
<circle cx="154.2" cy="1080.0" r="1.7" fill="#ff7af0" stroke="#8a0080" stroke-width="0.6"/>
<circle cx="148.6" cy="1086.7" r="4.3" fill="#e316d3" stroke="#3a0050" stroke-width="1.3"/>
<circle cx="148.6" cy="1086.7" r="1.7" fill="#ff7af0" stroke="#8a0080" stroke-width="0.6"/>
<circle cx="160.6" cy="1086.1" r="4.3" fill="#e316d3" stroke="#3a0050" stroke-width="1.3"/>
<circle cx="160.6" cy="1086.1" r="1.7" fill="#ff7af0" stroke="#8a0080" stroke-width="0.6"/>
<circle cx="155.6" cy="1093.9" r="4.3" fill="#e316d3" stroke="#3a0050" stroke-width="1.3"/>
<circle cx="155.6" cy="1093.9" r="1.7" fill="#ff7af0" stroke="#8a0080" stroke-width="0.6"/>
<circle cx="163.3" cy="1094.4" r="4.3" fill="#e316d3" stroke="#3a0050" stroke-width="1.3"/>
<circle cx="163.3" cy="1094.4" r="1.7" fill="#ff7af0" stroke="#8a0080" stroke-width="0.6"/>
<circle cx="151.4" cy="1100.6" r="4.3" fill="#e316d3" stroke="#3a0050" stroke-width="1.3"/>
<circle cx="151.4" cy="1100.6" r="1.7" fill="#ff7af0" stroke="#8a0080" stroke-width="0.6"/>
<circle cx="159.7" cy="1102.2" r="4.3" fill="#e316d3" stroke="#3a0050" stroke-width="1.3"/>
<circle cx="159.7" cy="1102.2" r="1.7" fill="#ff7af0" stroke="#8a0080" stroke-width="0.6"/>
<circle cx="150.0" cy="1107.8" r="4.3" fill="#e316d3" stroke="#3a0050" stroke-width="1.3"/>
<circle cx="150.0" cy="1107.8" r="1.7" fill="#ff7af0" stroke="#8a0080" stroke-width="0.6"/>
<circle cx="156.9" cy="1109.4" r="4.3" fill="#e316d3" stroke="#3a0050" stroke-width="1.3"/>
<circle cx="156.9" cy="1109.4" r="1.7" fill="#ff7af0" stroke="#8a0080" stroke-width="0.6"/>
<circle cx="152.2" cy="1115.6" r="4.3" fill="#e316d3" stroke="#3a0050" stroke-width="1.3"/>
<circle cx="152.2" cy="1115.6" r="1.7" fill="#ff7af0" stroke="#8a0080" stroke-width="0.6"/>
<path d="M5.6 1183.3L37.5 1212.5L52.2 1194.4L106.9 1136.1" stroke="#2fdc2f" stroke-width="0.8" fill="none" />
<path d="M5.6 1183.3L37.5 1212.5L52.2 1194.4L106.9 1136.1" stroke="#2fdc2f" stroke-width="2.4" fill="none" stroke-dasharray="6 4"/>
<circle cx="106.9" cy="1133.9" r="3.6" fill="#fff" stroke="#1414e6" stroke-width="1.6"/>
<circle cx="106.9" cy="1133.9" r="1.6" fill="#9ab4ff" stroke="#1414e6" stroke-width="0.8"/>
<circle cx="52.2" cy="1193.9" r="3.6" fill="#fff" stroke="#1414e6" stroke-width="1.6"/>
<circle cx="52.2" cy="1193.9" r="1.6" fill="#9ab4ff" stroke="#1414e6" stroke-width="0.8"/>
<path d="M-5.6 1227.8C-1.5 1215.3 10.6 1215.7 16.7 1212.5C22.8 1209.3 23.7 1209.3 27.8 1210.6C31.9 1211.8 36.9 1215.3 38.9 1219.4C40.9 1223.6 40.9 1227.7 38.9 1233.3C36.9 1238.9 32.9 1243.4 27.8 1250.0C22.7 1256.6 17.2 1263.8 11.1 1269.4C5.0 1275.0 -2.5 1288.2 -5.6 1280.6C-8.6 1272.9 -9.6 1240.3 -5.6 1227.8Z" stroke="#111" stroke-width="1.4" fill="none" stroke-linejoin="round" />
<path d="M-5.6 1231.9L19.4 1214.4L26.4 1216.7" stroke="#d2a21e" stroke-width="2.1" fill="none" stroke-linejoin="round" />
<circle cx="26.4" cy="1227.8" r="4.4" fill="#6b5a1e" stroke="#1a1a0a" stroke-width="1.4"/>
<circle cx="26.4" cy="1227.8" r="1.8" fill="#c04020" stroke="none" stroke-width="0"/>
<circle cx="33.3" cy="1223.6" r="4.4" fill="#6b5a1e" stroke="#1a1a0a" stroke-width="1.4"/>
<circle cx="33.3" cy="1223.6" r="1.8" fill="#c04020" stroke="none" stroke-width="0"/>
<circle cx="20.8" cy="1234.7" r="4.4" fill="#6b5a1e" stroke="#1a1a0a" stroke-width="1.4"/>
<circle cx="20.8" cy="1234.7" r="1.8" fill="#c04020" stroke="none" stroke-width="0"/>
<circle cx="29.2" cy="1236.7" r="4.4" fill="#6b5a1e" stroke="#1a1a0a" stroke-width="1.4"/>
<circle cx="29.2" cy="1236.7" r="1.8" fill="#c04020" stroke="none" stroke-width="0"/>
<circle cx="15.3" cy="1244.4" r="4.4" fill="#6b5a1e" stroke="#1a1a0a" stroke-width="1.4"/>
<circle cx="15.3" cy="1244.4" r="1.8" fill="#c04020" stroke="none" stroke-width="0"/>
<circle cx="24.4" cy="1245.8" r="4.4" fill="#6b5a1e" stroke="#1a1a0a" stroke-width="1.4"/>
<circle cx="24.4" cy="1245.8" r="1.8" fill="#c04020" stroke="none" stroke-width="0"/>
<circle cx="9.7" cy="1254.2" r="4.4" fill="#6b5a1e" stroke="#1a1a0a" stroke-width="1.4"/>
<circle cx="9.7" cy="1254.2" r="1.8" fill="#c04020" stroke="none" stroke-width="0"/>
<circle cx="18.9" cy="1255.6" r="4.4" fill="#6b5a1e" stroke="#1a1a0a" stroke-width="1.4"/>
<circle cx="18.9" cy="1255.6" r="1.8" fill="#c04020" stroke="none" stroke-width="0"/>
<circle cx="5.6" cy="1263.9" r="4.4" fill="#6b5a1e" stroke="#1a1a0a" stroke-width="1.4"/>
<circle cx="5.6" cy="1263.9" r="1.8" fill="#c04020" stroke="none" stroke-width="0"/>
<circle cx="13.9" cy="1265.3" r="4.4" fill="#6b5a1e" stroke="#1a1a0a" stroke-width="1.4"/>
<circle cx="13.9" cy="1265.3" r="1.8" fill="#c04020" stroke="none" stroke-width="0"/>
<circle cx="1.4" cy="1272.2" r="4.4" fill="#6b5a1e" stroke="#1a1a0a" stroke-width="1.4"/>
<circle cx="1.4" cy="1272.2" r="1.8" fill="#c04020" stroke="none" stroke-width="0"/>
<path d="M19.4 1233.3L33.3 1227.8L36.1 1241.7L22.2 1247.2Z" stroke="#e01818" stroke-width="1.9" fill="none" stroke-linejoin="round" />
<path d="M2.8 1255.6L16.7 1250.0L19.4 1261.1L5.6 1268.1Z" stroke="#e01818" stroke-width="1.9" fill="none" stroke-linejoin="round" />
<path d="M29.2 1218.6L13.9 1241.7L0.0 1261.1" stroke="#2fdc2f" stroke-width="0.8" fill="none" />
<path d="M29.2 1218.6L13.9 1241.7L0.0 1261.1" stroke="#2fdc2f" stroke-width="2.4" fill="none" stroke-dasharray="6 4"/>
<circle cx="29.2" cy="1218.6" r="3.6" fill="#fff" stroke="#1414e6" stroke-width="1.6"/>
<circle cx="29.2" cy="1218.6" r="1.6" fill="#9ab4ff" stroke="#1414e6" stroke-width="0.8"/>
<circle cx="13.9" cy="1241.7" r="3.6" fill="#fff" stroke="#1414e6" stroke-width="1.6"/>
<circle cx="13.9" cy="1241.7" r="1.6" fill="#9ab4ff" stroke="#1414e6" stroke-width="0.8"/>
<path d="M791.4 924.8L791.4 924.8C791.4 925.5 790.7 923.7 791.2 927.0C791.8 930.2 793.2 929.5 793.0 934.5C792.8 939.5 793.3 937.7 790.7 941.9C788.0 946.2 789.1 944.9 785.1 947.3C781.1 949.8 781.4 948.5 778.6 949.3C775.8 950.1 777.4 949.5 776.8 949.6L772.1 946.5C773.1 949.1 775.2 949.1 775.1 954.3C774.9 959.6 775.1 958.2 771.7 962.4C768.2 966.5 769.7 964.9 764.6 966.9C759.5 968.8 761.4 969.4 756.4 968.1C751.3 966.9 752.3 967.4 749.5 963.2C746.6 958.9 748.4 957.9 747.8 955.3L746.2 953.5C745.3 955.9 747.0 957.0 743.6 960.8C740.2 964.6 741.4 963.5 736.1 964.8C730.8 966.1 732.5 966.7 727.7 964.7C722.9 962.6 724.6 962.9 721.7 958.6C718.8 954.4 718.8 956.3 719.0 951.8C719.2 947.4 721.2 947.5 722.3 945.3L719.7 945.7C717.5 946.9 718.1 948.9 713.0 949.5C707.9 950.0 709.5 950.0 704.3 947.4C699.2 944.7 700.5 946.3 697.5 941.6C694.5 936.8 694.8 938.5 695.4 933.1C696.0 927.6 695.7 928.7 699.3 925.1C702.9 921.5 703.9 923.2 706.2 922.2L709.4 920.0C706.3 919.6 704.9 921.5 700.1 918.8C695.2 916.1 696.4 916.9 694.8 911.8C693.2 906.7 694.0 908.8 695.2 903.5C696.4 898.2 695.0 899.7 698.4 895.9C701.8 892.1 700.3 892.4 705.5 892.1C710.6 891.9 711.1 894.1 713.9 895.1L712.2 892.1C711.6 890.8 711.0 892.4 710.5 888.3C709.9 884.1 709.0 884.7 710.6 879.6C712.3 874.5 711.3 876.2 715.4 872.9C719.5 869.6 718.0 870.5 723.0 869.8C728.0 869.1 727.0 869.5 730.4 870.8C733.8 872.1 732.3 872.7 733.2 873.7L735.2 874.0C735.7 873.1 734.3 874.4 736.7 871.4C739.1 868.4 737.8 867.5 742.3 865.1C746.7 862.7 744.9 863.7 750.0 864.2C755.1 864.6 753.3 864.2 757.5 866.4C761.7 868.6 760.7 868.3 762.6 870.8C764.5 873.3 763.0 872.9 763.2 873.9L763.5 877.8C764.8 876.7 763.4 875.7 767.4 874.3C771.3 872.9 770.3 872.7 775.4 873.5C780.5 874.3 779.2 873.2 782.8 876.7C786.4 880.3 784.8 879.4 786.1 884.2C787.4 889.0 787.3 887.7 786.7 891.1C786.0 894.5 784.9 893.3 784.1 894.4L785.3 895.7C787.4 895.5 787.0 893.7 791.5 895.1C796.1 896.5 794.9 895.8 799.0 899.9C803.0 904.0 803.0 902.1 803.7 907.4C804.4 912.8 803.6 911.1 801.2 916.0C798.8 920.9 800.3 919.8 796.5 922.0C792.8 924.2 792.1 922.4 789.9 922.6Z" stroke="#111" stroke-width="1.3" fill="none" stroke-linejoin="round"/>
<path d="M247.5 878.3L275.8 858.3L290.8 878.3L262.5 897.5Z" stroke="#111" stroke-width="1.2" fill="none" stroke-linejoin="round" />
<path d="M247.5 878.3L262.5 897.5L269.2 879.2Z" stroke="none" stroke-width="1.2" fill="#000" stroke-linejoin="round" />
<path d="M275.8 858.3L290.8 878.3L269.2 879.2Z" stroke="none" stroke-width="1.2" fill="#000" stroke-linejoin="round" />
<path d="M689.3 792.1 l2.1 3.1 l1.7 3.0M701.9 763.1 l3.1 1.0 l2.8 -2.7M688.2 782.1 l0.3 0.5 l-3.4 -2.0M700.0 777.4 l1.9 -2.4 l2.1 -2.5M683.1 788.2 l-3.5 2.6 l-2.0 -2.0M681.3 809.4 l-1.5 3.2 l0.3 1.2M702.2 774.1 l1.3 3.3 l2.8 -1.4M690.2 776.6 l-2.5 -3.0 l-1.4 0.7M704.7 763.2 l-1.1 -1.3 l2.2 -0.1M694.6 776.4 l1.4 -3.1 l3.3 -3.3M687.0 798.6 l-3.4 2.0 l-0.9 0.5M698.1 759.7 l-2.2 3.2 l-2.1 1.8M683.3 807.4 l-1.1 -1.0 l0.2 1.9M702.7 768.5 l2.1 2.5 l-3.2 3.1M699.0 765.2 l0.8 2.9 l-1.1 3.0M686.9 786.0 l-1.3 -2.3 l-3.0 -2.5M690.1 796.7 l-2.4 -3.2 l3.4 0.2M689.8 779.1 l0.7 2.3 l-0.3 -0.5M705.8 767.1 l-3.3 -0.0 l2.4 -2.6M688.6 798.4 l0.9 2.0 l-2.8 -0.5M702.6 770.9 l-1.4 -0.3 l3.5 2.5M677.1 806.6 l-0.1 1.6 l-0.1 -1.5M688.9 778.5 l-0.9 3.4 l3.2 0.9M688.4 784.0 l-2.9 -1.6 l2.0 2.6M696.5 780.3 l1.9 1.4 l1.1 1.8M695.6 779.9 l-1.5 -0.1 l1.9 1.3" stroke="#8f8f8f" stroke-width="0.9" fill="none" />
<path d="M76.0 285.0L68.0 285.0L103.3 549.0" stroke="#111" stroke-width="1.1" fill="none" stroke-linejoin="miter"/>
<path d="M103.3 549.0L99.0 536.5L104.2 535.8Z" stroke="none" stroke-width="1" fill="#111" />
<path d="M58.0 302.0L69.0 302.0L108.0 553.0" stroke="#111" stroke-width="1.1" fill="none" stroke-linejoin="miter"/>
<path d="M108.0 553.0L103.4 540.6L108.6 539.8Z" stroke="none" stroke-width="1" fill="#111" />
<path d="M156.0 371.0L146.0 371.0L126.7 527.0" stroke="#111" stroke-width="1.1" fill="none" stroke-linejoin="miter"/>
<path d="M126.7 527.0L125.7 513.8L130.9 514.4Z" stroke="none" stroke-width="1" fill="#111" />
<path d="M-2.0 516.0L91.0 557.8" stroke="#111" stroke-width="1.1" fill="none" stroke-linejoin="miter"/>
<path d="M91.0 557.8L78.1 554.8L80.2 550.1Z" stroke="none" stroke-width="1" fill="#111" />
<path d="M258.0 627.0L268.0 627.0L274.0 909.0" stroke="#111" stroke-width="1.1" fill="none" stroke-linejoin="miter"/>
<path d="M274.0 909.0L271.1 896.1L276.3 895.9Z" stroke="none" stroke-width="1" fill="#111" />
<path d="M284.0 667.0L275.0 667.0L309.0 880.0" stroke="#111" stroke-width="1.1" fill="none" stroke-linejoin="miter"/>
<path d="M309.0 880.0L304.4 867.6L309.5 866.8Z" stroke="none" stroke-width="1" fill="#111" />
<path d="M596.0 674.0L583.0 674.0L419.0 853.0" stroke="#111" stroke-width="1.1" fill="none" stroke-linejoin="miter"/>
<path d="M419.0 853.0L425.9 841.7L429.7 845.2Z" stroke="none" stroke-width="1" fill="#111" />
<path d="M122.0 763.0L137.0 763.0L248.0 879.0" stroke="#111" stroke-width="1.1" fill="none" stroke-linejoin="miter"/>
<path d="M248.0 879.0L237.1 871.4L240.9 867.8Z" stroke="none" stroke-width="1" fill="#111" />
<path d="M56.0 832.0L68.0 832.0L250.0 886.0" stroke="#111" stroke-width="1.1" fill="none" stroke-linejoin="miter"/>
<path d="M250.0 886.0L236.8 884.8L238.3 879.8Z" stroke="none" stroke-width="1" fill="#111" />
<path d="M453.0 1001.5L445.0 1001.5L295.0 895.5" stroke="#111" stroke-width="1.1" fill="none" stroke-linejoin="miter"/>
<path d="M295.0 895.5L307.1 900.9L304.1 905.1Z" stroke="none" stroke-width="1" fill="#111" />
<path d="M511.0 1076.0L502.5 1076.0L269.0 909.0" stroke="#111" stroke-width="1.1" fill="none" stroke-linejoin="miter"/>
<path d="M269.0 909.0L281.1 914.4L278.1 918.7Z" stroke="none" stroke-width="1" fill="#111" />
<path d="M270.0 1136.5L258.0 1136.5L266.5 909.0" stroke="#111" stroke-width="1.1" fill="none" stroke-linejoin="miter"/>
<path d="M266.5 909.0L268.6 922.1L263.4 921.9Z" stroke="none" stroke-width="1" fill="#111" />
<path d="M369.0 1116.0L355.0 1116.0L284.0 918.0" stroke="#111" stroke-width="1.1" fill="none" stroke-linejoin="miter"/>
<path d="M248.5 1205.0L239.0 1205.0L189.0 983.0" stroke="#111" stroke-width="1.1" fill="none" stroke-linejoin="miter"/>
<path d="M189.0 983.0L194.4 995.1L189.3 996.3Z" stroke="none" stroke-width="1" fill="#111" />
<path d="M137.5 1301.5L127.5 1301.5L8.0 1178.0" stroke="#111" stroke-width="1.1" fill="none" stroke-linejoin="miter"/>
<path d="M8.0 1178.0L18.9 1185.5L15.2 1189.2Z" stroke="none" stroke-width="1" fill="#111" />
<path d="M31.0 1581.0L22.5 1581.0L-2.0 1543.0" stroke="#111" stroke-width="1.1" fill="none" stroke-linejoin="miter"/>
<path d="M722.0 455.0L640.0 510.0" stroke="#111" stroke-width="1.1" fill="none" stroke-linejoin="miter"/>
<path d="M722.0 818.0L633.0 902.0" stroke="#111" stroke-width="1.1" fill="none" stroke-linejoin="miter"/>
<path d="M633.0 902.0L640.7 891.2L644.2 895.0Z" stroke="none" stroke-width="1" fill="#111" />
<path d="M-2.0 941.0L167.0 961.0" stroke="#111" stroke-width="1.1" fill="none" stroke-linejoin="miter"/>
<path d="M167.0 961.0L153.8 962.1L154.4 956.9Z" stroke="none" stroke-width="1" fill="#111" />
<ellipse cx="140.5" cy="284.5" rx="64" ry="44" fill="#fff" stroke="#222" stroke-width="1.1"/>
<path d="M141.7 240.5 V328.5" stroke="#222" stroke-width="1.1" fill="none" />
<path d="M76.5 284.5 H204.5" stroke="#222" stroke-width="1.1" fill="none" />
<text x="88.0" y="278.0" font-size="16" text-anchor="start" fill="#111" >SV-51</text>
<text x="156.7" y="278.0" font-size="16" text-anchor="start" fill="#111" >C1</text>
<text x="104.0" y="311.0" font-size="16" text-anchor="start" fill="#111" >1.5&quot;</text>
<text x="147.0" y="311.0" font-size="16" text-anchor="start" fill="#111" >2.75</text>
<ellipse cx="434" cy="1116" rx="65" ry="44" fill="#fff" stroke="#222" stroke-width="1.1"/>
<path d="M435 1072 V1160" stroke="#222" stroke-width="1.1" fill="none" />
<path d="M369 1116 H499" stroke="#222" stroke-width="1.1" fill="none" />
<text x="382.5" y="1109.0" font-size="16" text-anchor="start" fill="#111" >SV-52</text>
<text x="449.0" y="1109.0" font-size="16" text-anchor="start" fill="#111" >C1</text>
<text x="399.0" y="1141.5" font-size="16" text-anchor="start" fill="#111" >1.5&quot;</text>
<text x="441.0" y="1141.5" font-size="16" text-anchor="start" fill="#111" >3.12</text>
<text x="56.0" y="298.6" font-size="12.8" text-anchor="end" fill="#111" >E: 224643.491</text>
<text x="56.0" y="314.2" font-size="12.8" text-anchor="end" fill="#111" >N: 2947797.646</text>
<text x="159.0" y="367.0" font-size="12.8" text-anchor="start" fill="#111" >E: 224644.948</text>
<text x="159.0" y="382.6" font-size="12.8" text-anchor="start" fill="#111" >N: 2947796.637</text>
<text x="255.0" y="623.5" font-size="12.8" text-anchor="end" fill="#111" >E: 224625.402</text>
<text x="255.0" y="639.0" font-size="12.8" text-anchor="end" fill="#111" >N: 2947788.008</text>
<text x="286.0" y="647.3" font-size="12.8" text-anchor="start" fill="#111" >E: 224624.034</text>
<text x="286.0" y="662.8" font-size="12.8" text-anchor="start" fill="#111" >N: 2947790.0370</text>
<text x="286.0" y="678.4" font-size="12.8" text-anchor="start" fill="#111" >FGL: 15.476</text>
<text x="286.0" y="693.9" font-size="12.8" text-anchor="start" fill="#111" >IL: 14.901</text>
<text x="597.3" y="656.0" font-size="12.8" text-anchor="start" fill="#111" >E: 224626.365</text>
<text x="597.3" y="671.5" font-size="12.8" text-anchor="start" fill="#111" >N: 2947782.1031</text>
<text x="597.3" y="687.1" font-size="12.8" text-anchor="start" fill="#111" >FGL: 16.160</text>
<text x="597.3" y="702.6" font-size="12.8" text-anchor="start" fill="#111" >IL: 15.647</text>
<text x="120.7" y="744.3" font-size="12.8" text-anchor="end" fill="#111" >E: 224625.238</text>
<text x="120.7" y="759.8" font-size="12.8" text-anchor="end" fill="#111" >N: 2947790.9608</text>
<text x="120.7" y="775.4" font-size="12.8" text-anchor="end" fill="#111" >FGL: 15.456</text>
<text x="120.7" y="790.9" font-size="12.8" text-anchor="end" fill="#111" >IL: 14.943</text>
<text x="53.3" y="813.3" font-size="12.8" text-anchor="end" fill="#111" >E: 224625.185</text>
<text x="53.3" y="828.8" font-size="12.8" text-anchor="end" fill="#111" >N: 2947791.0827</text>
<text x="53.3" y="844.4" font-size="12.8" text-anchor="end" fill="#111" >FGL: 15.446</text>
<text x="53.3" y="859.9" font-size="12.8" text-anchor="end" fill="#111" >IL: 14.933</text>
<text x="454.0" y="985.0" font-size="12.8" text-anchor="start" fill="#111" >E: 224624.626</text>
<text x="454.0" y="1000.5" font-size="12.8" text-anchor="start" fill="#111" >N: 2947788.888</text>
<text x="454.0" y="1016.1" font-size="12.8" text-anchor="start" fill="#111" >FGL: 15.482</text>
<text x="454.0" y="1031.7" font-size="12.8" text-anchor="start" fill="#111" >IL: 14.907</text>
<text x="513.5" y="1058.5" font-size="12.8" text-anchor="start" fill="#111" >E: 224623.920</text>
<text x="513.5" y="1074.0" font-size="12.8" text-anchor="start" fill="#111" >N: 2947790.2538</text>
<text x="513.5" y="1089.6" font-size="12.8" text-anchor="start" fill="#111" >FGL: 15.450</text>
<text x="513.5" y="1105.2" font-size="12.8" text-anchor="start" fill="#111" >IL: 14.937</text>
<text x="271.0" y="1120.0" font-size="12.8" text-anchor="start" fill="#111" >E: 224625.150</text>
<text x="271.0" y="1135.5" font-size="12.8" text-anchor="start" fill="#111" >N: 2947790.9956</text>
<text x="271.0" y="1151.1" font-size="12.8" text-anchor="start" fill="#111" >FGL: 15.451</text>
<text x="271.0" y="1166.7" font-size="12.8" text-anchor="start" fill="#111" >IL: 14.938</text>
<text x="250.0" y="1193.5" font-size="12.8" text-anchor="start" fill="#111" >E: 224620.147</text>
<text x="250.0" y="1209.0" font-size="12.8" text-anchor="start" fill="#111" >N: 2947794.8775</text>
<text x="250.0" y="1224.6" font-size="12.8" text-anchor="start" fill="#111" >FGL: 15.027</text>
<text x="250.0" y="1240.2" font-size="12.8" text-anchor="start" fill="#111" >IL: 14.514</text>
<text x="139.0" y="1283.5" font-size="12.8" text-anchor="start" fill="#111" >E: 224610.246</text>
<text x="139.0" y="1299.0" font-size="12.8" text-anchor="start" fill="#111" >N: 2947805.3510</text>
<text x="139.0" y="1314.6" font-size="12.8" text-anchor="start" fill="#111" >FGL: 14.386</text>
<text x="139.0" y="1330.2" font-size="12.8" text-anchor="start" fill="#111" >IL: 13.873</text>
<text x="33.0" y="1562.5" font-size="12.8" text-anchor="start" fill="#111" >E: 224603.724</text>
<text x="33.0" y="1577.8" font-size="12.8" text-anchor="start" fill="#111" >N: 2947812.0964</text>
<text x="33.0" y="1593.1" font-size="12.8" text-anchor="start" fill="#111" >FGL: 14.152</text>
<text x="33.0" y="1608.4" font-size="12.8" text-anchor="start" fill="#111" >IL: 13.639</text>
</svg>
<div class="sh"></div>
</body></html>
